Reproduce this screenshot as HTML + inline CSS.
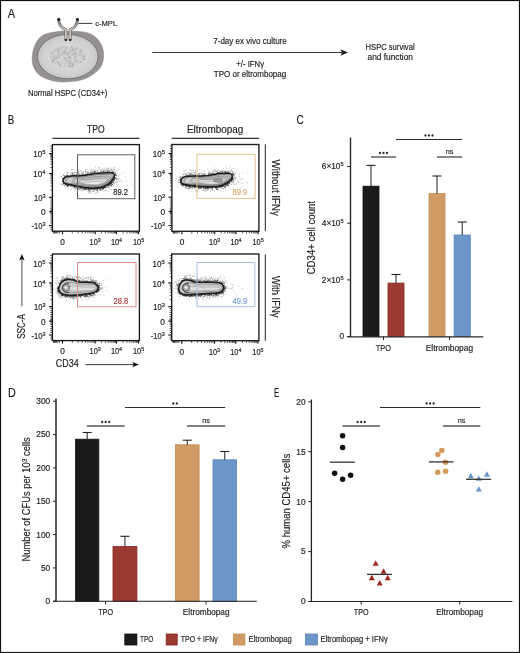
<!DOCTYPE html><html><head><meta charset="utf-8"><style>html,body{margin:0;padding:0;background:#fff;overflow:hidden;width:520px;height:653px;}svg{display:block;will-change:transform;}text{font-family:"Liberation Sans",sans-serif;stroke-width:.18px;}</style></head><body>
<svg width="520" height="653" viewBox="0 0 520 653">
<defs>
<radialGradient id="cellin" cx="0.5" cy="0.5" r="0.55"><stop offset="0" stop-color="#e4e4e4"/><stop offset="0.75" stop-color="#d0d0d0"/><stop offset="1" stop-color="#bdbdbd"/></radialGradient>
<filter id="spk" x="-20%" y="-50%" width="140%" height="200%">
<feTurbulence type="fractalNoise" baseFrequency="1.1" numOctaves="1" seed="4" result="n"/>
<feColorMatrix in="n" type="matrix" values="0 0 0 0 0  0 0 0 0 0  0 0 0 0 0  0 0 0 -3 1.9" result="m"/>
<feComposite in="SourceGraphic" in2="m" operator="in"/>
</filter>
<filter id="bl" x="-10%" y="-30%" width="120%" height="160%"><feGaussianBlur stdDeviation="0.35"/></filter>
</defs>
<rect x="0" y="0" width="520" height="653" fill="#fff"/>
<text x="7.80" y="17.60" font-size="12" text-anchor="start" fill="#231f20" stroke="#231f20" textLength="7.30" lengthAdjust="spacingAndGlyphs">A</text>
<path d="M58.80,31.40 C63.03,30.78 65.47,31.18 68.80,31.20 C72.13,31.22 75.35,31.13 78.80,31.50 C82.25,31.87 86.43,32.18 89.50,33.40 C92.57,34.62 95.02,36.37 97.20,38.80 C99.38,41.23 101.57,44.67 102.60,48.00 C103.63,51.33 104.03,55.22 103.40,58.80 C102.77,62.38 101.88,66.17 98.80,69.50 C95.72,72.83 90.03,76.75 84.90,78.80 C79.77,80.85 73.12,81.42 68.00,81.80 C62.88,82.18 58.82,82.12 54.20,81.10 C49.58,80.08 43.77,78.13 40.30,75.70 C36.83,73.27 34.73,69.83 33.40,66.50 C32.07,63.17 31.92,59.55 32.30,55.70 C32.68,51.85 33.85,46.87 35.70,43.40 C37.55,39.93 39.55,36.90 43.40,34.90 C47.25,32.90 54.57,32.02 58.80,31.40 Z" fill="#959191" stroke="#858282" stroke-width="0.5"/>
<ellipse cx="67.8" cy="56.6" rx="30.3" ry="22.2" fill="url(#cellin)" stroke="#6a6a6a" stroke-width="0.8"/>
<ellipse cx="67.2" cy="56.6" rx="17.5" ry="10.6" fill="#c8c8c8" opacity="0.55"/>
<g fill="#b4b4b4" opacity="0.85">
<circle cx="54.7" cy="58.9" r="1.15"/>
<circle cx="55.0" cy="58.2" r="0.91"/>
<circle cx="72.2" cy="63.6" r="0.94"/>
<circle cx="68.6" cy="53.5" r="0.71"/>
<circle cx="80.5" cy="61.7" r="0.99"/>
<circle cx="83.9" cy="59.3" r="1.18"/>
<circle cx="59.4" cy="49.8" r="0.61"/>
<circle cx="79.9" cy="57.3" r="0.54"/>
<circle cx="70.4" cy="61.5" r="0.52"/>
<circle cx="55.9" cy="58.2" r="1.09"/>
<circle cx="53.3" cy="55.6" r="0.85"/>
<circle cx="61.0" cy="50.5" r="0.69"/>
<circle cx="84.7" cy="56.4" r="1.09"/>
<circle cx="64.6" cy="50.9" r="0.66"/>
<circle cx="66.1" cy="59.3" r="1.04"/>
<circle cx="54.1" cy="62.3" r="0.77"/>
<circle cx="82.8" cy="54.1" r="0.50"/>
<circle cx="71.4" cy="66.4" r="0.83"/>
<circle cx="78.1" cy="55.8" r="0.55"/>
<circle cx="56.6" cy="49.8" r="0.69"/>
<circle cx="75.8" cy="59.8" r="1.17"/>
<circle cx="67.5" cy="53.0" r="0.67"/>
<circle cx="70.6" cy="58.1" r="1.06"/>
<circle cx="72.9" cy="63.7" r="0.81"/>
<circle cx="72.7" cy="65.0" r="0.59"/>
<circle cx="63.5" cy="53.8" r="0.79"/>
<circle cx="69.3" cy="62.0" r="1.18"/>
<circle cx="70.4" cy="51.1" r="1.12"/>
<circle cx="69.9" cy="63.1" r="1.10"/>
<circle cx="63.7" cy="54.0" r="1.19"/>
<circle cx="69.2" cy="61.8" r="1.04"/>
<circle cx="62.7" cy="61.7" r="0.55"/>
<circle cx="78.5" cy="60.9" r="0.67"/>
<circle cx="58.6" cy="52.8" r="0.82"/>
<circle cx="79.0" cy="54.7" r="0.90"/>
<circle cx="72.2" cy="53.2" r="0.61"/>
<circle cx="80.5" cy="51.4" r="0.67"/>
<circle cx="72.8" cy="65.1" r="1.16"/>
<circle cx="72.8" cy="66.4" r="1.12"/>
<circle cx="58.2" cy="52.4" r="0.57"/>
<circle cx="83.9" cy="59.1" r="0.67"/>
<circle cx="64.7" cy="51.4" r="1.08"/>
<circle cx="59.4" cy="53.3" r="0.62"/>
<circle cx="66.4" cy="53.9" r="0.66"/>
<circle cx="52.2" cy="53.0" r="0.93"/>
<circle cx="64.0" cy="66.6" r="0.64"/>
<circle cx="76.2" cy="57.2" r="0.81"/>
<circle cx="74.0" cy="58.3" r="0.76"/>
<circle cx="61.5" cy="54.9" r="0.75"/>
<circle cx="80.6" cy="50.0" r="0.96"/>
<circle cx="62.4" cy="49.0" r="0.60"/>
<circle cx="69.5" cy="56.9" r="1.14"/>
<circle cx="62.0" cy="46.7" r="0.51"/>
<circle cx="59.2" cy="51.0" r="1.01"/>
<circle cx="59.9" cy="66.2" r="0.55"/>
<circle cx="52.8" cy="54.0" r="1.13"/>
<circle cx="66.0" cy="47.7" r="1.06"/>
<circle cx="76.1" cy="53.4" r="0.98"/>
<circle cx="80.5" cy="50.8" r="0.79"/>
<circle cx="71.3" cy="47.1" r="0.90"/>
<circle cx="59.5" cy="52.0" r="0.91"/>
<circle cx="63.4" cy="54.7" r="0.95"/>
<circle cx="83.6" cy="56.2" r="1.01"/>
<circle cx="55.7" cy="62.5" r="0.91"/>
<circle cx="52.3" cy="60.1" r="0.56"/>
<circle cx="67.2" cy="54.8" r="0.92"/>
<circle cx="58.9" cy="57.2" r="0.99"/>
<circle cx="53.5" cy="56.7" r="1.14"/>
<circle cx="67.1" cy="57.7" r="0.71"/>
<circle cx="63.8" cy="52.3" r="0.62"/>
<circle cx="79.0" cy="51.8" r="0.81"/>
<circle cx="75.0" cy="52.8" r="0.97"/>
<circle cx="70.9" cy="63.2" r="1.06"/>
<circle cx="81.3" cy="51.5" r="0.77"/>
<circle cx="58.7" cy="53.6" r="0.60"/>
<circle cx="51.2" cy="56.8" r="1.09"/>
<circle cx="63.1" cy="46.6" r="0.69"/>
<circle cx="72.9" cy="62.8" r="0.69"/>
<circle cx="69.7" cy="63.2" r="0.94"/>
<circle cx="57.4" cy="56.8" r="1.09"/>
<circle cx="78.9" cy="55.8" r="0.55"/>
<circle cx="83.2" cy="58.5" r="0.53"/>
<circle cx="63.8" cy="48.9" r="0.72"/>
<circle cx="67.8" cy="55.2" r="0.60"/>
<circle cx="64.6" cy="57.1" r="1.08"/>
<circle cx="67.7" cy="60.6" r="0.53"/>
<circle cx="59.2" cy="51.5" r="0.94"/>
<circle cx="58.4" cy="48.7" r="1.17"/>
<circle cx="64.1" cy="52.3" r="0.83"/>
<circle cx="68.0" cy="57.6" r="0.83"/>
<circle cx="65.5" cy="52.2" r="0.69"/>
<circle cx="58.9" cy="63.9" r="0.86"/>
<circle cx="55.7" cy="50.5" r="0.78"/>
<circle cx="71.5" cy="46.9" r="0.56"/>
<circle cx="80.8" cy="52.9" r="0.59"/>
<circle cx="53.9" cy="59.0" r="1.14"/>
<circle cx="57.8" cy="62.2" r="1.12"/>
<circle cx="72.1" cy="46.7" r="0.82"/>
<circle cx="62.6" cy="52.7" r="1.01"/>
<circle cx="73.0" cy="48.9" r="1.00"/>
<circle cx="71.0" cy="66.4" r="1.19"/>
<circle cx="79.9" cy="55.5" r="1.05"/>
<circle cx="60.1" cy="65.7" r="1.10"/>
<circle cx="64.3" cy="59.1" r="0.81"/>
<circle cx="52.6" cy="53.7" r="0.84"/>
<circle cx="82.7" cy="58.3" r="0.54"/>
<circle cx="69.4" cy="52.4" r="0.73"/>
<circle cx="68.7" cy="52.7" r="0.60"/>
<circle cx="52.4" cy="55.7" r="1.09"/>
<circle cx="60.9" cy="47.0" r="0.84"/>
<circle cx="72.1" cy="55.6" r="0.65"/>
<circle cx="57.9" cy="55.6" r="1.01"/>
<circle cx="59.1" cy="50.7" r="1.09"/>
<circle cx="58.1" cy="54.4" r="0.77"/>
<circle cx="76.6" cy="48.3" r="0.65"/>
<circle cx="77.4" cy="48.2" r="0.87"/>
<circle cx="60.2" cy="54.5" r="0.88"/>
<circle cx="53.6" cy="56.4" r="0.52"/>
<circle cx="79.5" cy="55.1" r="0.78"/>
<circle cx="71.3" cy="49.1" r="0.84"/>
<circle cx="65.6" cy="54.1" r="0.88"/>
<circle cx="52.5" cy="61.9" r="1.15"/>
<circle cx="65.8" cy="63.8" r="0.59"/>
<circle cx="52.7" cy="60.5" r="1.13"/>
<circle cx="57.5" cy="57.5" r="0.63"/>
<circle cx="54.8" cy="49.7" r="0.59"/>
<circle cx="67.7" cy="55.0" r="0.64"/>
<circle cx="69.3" cy="65.3" r="0.73"/>
<circle cx="58.7" cy="63.2" r="0.57"/>
<circle cx="66.5" cy="52.9" r="0.86"/>
<circle cx="67.2" cy="61.3" r="0.87"/>
<circle cx="57.3" cy="59.1" r="0.79"/>
<circle cx="60.3" cy="55.8" r="0.64"/>
<circle cx="57.7" cy="50.4" r="0.87"/>
<circle cx="75.3" cy="49.9" r="1.10"/>
<circle cx="68.8" cy="65.7" r="1.07"/>
<circle cx="75.3" cy="53.2" r="0.72"/>
<circle cx="74.4" cy="54.3" r="1.20"/>
<circle cx="72.1" cy="54.1" r="0.67"/>
<circle cx="65.9" cy="51.3" r="0.57"/>
<circle cx="72.8" cy="50.6" r="1.05"/>
<circle cx="75.0" cy="61.4" r="0.98"/>
<circle cx="75.0" cy="57.1" r="0.98"/>
<circle cx="81.8" cy="51.1" r="0.58"/>
<circle cx="52.0" cy="56.3" r="0.85"/>
<circle cx="64.2" cy="52.4" r="0.55"/>
<circle cx="69.9" cy="57.9" r="0.89"/>
<circle cx="54.1" cy="55.9" r="0.60"/>
<circle cx="70.4" cy="61.0" r="1.09"/>
<circle cx="84.0" cy="56.0" r="0.57"/>
</g><g fill="#d6d6d6">
<circle cx="80.7" cy="59.9" r="0.63"/>
<circle cx="68.0" cy="51.5" r="0.63"/>
<circle cx="57.4" cy="56.0" r="0.70"/>
<circle cx="79.7" cy="57.2" r="0.82"/>
<circle cx="71.4" cy="62.1" r="0.77"/>
<circle cx="61.7" cy="58.8" r="0.48"/>
<circle cx="65.3" cy="56.5" r="0.85"/>
<circle cx="71.2" cy="49.4" r="0.83"/>
<circle cx="60.6" cy="52.4" r="0.70"/>
<circle cx="52.3" cy="56.4" r="0.80"/>
<circle cx="66.5" cy="65.2" r="0.77"/>
<circle cx="69.6" cy="48.6" r="0.60"/>
<circle cx="78.4" cy="51.5" r="0.75"/>
<circle cx="68.6" cy="48.8" r="0.60"/>
<circle cx="66.5" cy="54.2" r="0.57"/>
<circle cx="65.7" cy="56.8" r="0.58"/>
<circle cx="59.6" cy="51.2" r="0.52"/>
<circle cx="78.7" cy="54.1" r="0.57"/>
<circle cx="61.1" cy="50.9" r="0.67"/>
<circle cx="55.7" cy="62.4" r="0.72"/>
<circle cx="63.3" cy="49.1" r="0.89"/>
<circle cx="78.8" cy="57.6" r="0.77"/>
<circle cx="66.8" cy="62.3" r="0.43"/>
<circle cx="70.3" cy="61.8" r="0.45"/>
<circle cx="67.1" cy="65.2" r="0.68"/>
<circle cx="52.5" cy="56.2" r="0.68"/>
<circle cx="79.2" cy="56.4" r="0.80"/>
<circle cx="77.5" cy="59.8" r="0.78"/>
<circle cx="81.1" cy="59.0" r="0.48"/>
<circle cx="61.1" cy="57.3" r="0.65"/>
<circle cx="64.4" cy="55.2" r="0.87"/>
<circle cx="57.6" cy="59.7" r="0.70"/>
<circle cx="61.9" cy="60.2" r="0.73"/>
<circle cx="59.8" cy="54.8" r="0.76"/>
<circle cx="66.7" cy="57.6" r="0.52"/>
<circle cx="72.9" cy="57.5" r="0.78"/>
<circle cx="56.3" cy="62.0" r="0.77"/>
<circle cx="81.4" cy="59.4" r="0.87"/>
<circle cx="80.0" cy="60.4" r="0.61"/>
<circle cx="52.5" cy="57.8" r="0.52"/>
<circle cx="52.8" cy="55.3" r="0.76"/>
<circle cx="52.7" cy="58.4" r="0.81"/>
<circle cx="63.2" cy="54.7" r="0.71"/>
<circle cx="60.7" cy="57.7" r="0.43"/>
<circle cx="62.0" cy="56.0" r="0.62"/>
<circle cx="62.2" cy="51.3" r="0.53"/>
<circle cx="58.8" cy="53.7" r="0.79"/>
<circle cx="52.5" cy="54.9" r="0.88"/>
<circle cx="66.5" cy="52.2" r="0.46"/>
<circle cx="77.6" cy="51.6" r="0.71"/>
</g>
<linearGradient id="armg" x1="0" y1="0" x2="0" y2="1"><stop offset="0" stop-color="#777"/><stop offset="0.45" stop-color="#c9c1ba"/><stop offset="1" stop-color="#ddd6cf"/></linearGradient>
<path d="M58.8,19.8 C58.6,24.6 61,27.6 65.9,29.8 L65.9,40" fill="none" stroke="#5e5e5e" stroke-width="2.8"/>
<path d="M58.8,19.8 C58.6,24.6 61,27.6 65.9,29.8 L65.9,40" fill="none" stroke="url(#armg)" stroke-width="1.7"/>
<path d="M77.4,19.8 C77.6,24.6 75.2,27.6 70.2,29.8 L70.2,40" fill="none" stroke="#5e5e5e" stroke-width="2.8"/>
<path d="M77.4,19.8 C77.6,24.6 75.2,27.6 70.2,29.8 L70.2,40" fill="none" stroke="url(#armg)" stroke-width="1.7"/>
<circle cx="58.8" cy="19.4" r="1.55" fill="#222"/><circle cx="77.4" cy="19.4" r="1.55" fill="#222"/>
<circle cx="65.9" cy="40" r="1.25" fill="#2a2a2a"/><circle cx="70.2" cy="40" r="1.25" fill="#2a2a2a"/>
<line x1="78.60" y1="23.40" x2="92.30" y2="23.40" stroke="#231f20" stroke-width="0.9"/>
<text x="95.20" y="25.80" font-size="8" text-anchor="start" fill="#231f20" stroke="#231f20" textLength="22.00" lengthAdjust="spacingAndGlyphs">c-MPL</text>
<text x="27.90" y="95.50" font-size="8.6" text-anchor="start" fill="#231f20" stroke="#231f20" textLength="79.40" lengthAdjust="spacingAndGlyphs">Normal HSPC (CD34+)</text>
<line x1="152.30" y1="52.50" x2="343.00" y2="52.50" stroke="#333" stroke-width="0.95"/>
<path d="M348,52.5 L340.5,49.3 L342,52.5 L340.5,55.7 Z" fill="#231f20"/>
<text x="213.30" y="43.90" font-size="8.6" text-anchor="start" fill="#231f20" stroke="#231f20" textLength="73.40" lengthAdjust="spacingAndGlyphs">7-day ex vivo culture</text>
<text x="236.30" y="66.60" font-size="8.6" text-anchor="start" fill="#231f20" stroke="#231f20" textLength="27.70" lengthAdjust="spacingAndGlyphs">+/- IFNγ</text>
<text x="213.80" y="76.80" font-size="8.6" text-anchor="start" fill="#231f20" stroke="#231f20" textLength="72.40" lengthAdjust="spacingAndGlyphs">TPO or eltrombopag</text>
<text x="365.60" y="49.90" font-size="8.6" text-anchor="start" fill="#231f20" stroke="#231f20" textLength="49.00" lengthAdjust="spacingAndGlyphs">HSPC survival</text>
<text x="367.50" y="59.90" font-size="8.6" text-anchor="start" fill="#231f20" stroke="#231f20" textLength="45.50" lengthAdjust="spacingAndGlyphs">and function</text>
<text x="7.80" y="124.30" font-size="12" text-anchor="start" fill="#231f20" stroke="#231f20" textLength="6.50" lengthAdjust="spacingAndGlyphs">B</text>
<text x="87.10" y="132.60" font-size="10.5" text-anchor="start" fill="#231f20" stroke="#231f20" textLength="17.50" lengthAdjust="spacingAndGlyphs">TPO</text>
<line x1="52.40" y1="138.40" x2="139.40" y2="138.40" stroke="#333" stroke-width="1.2"/>
<text x="186.90" y="132.70" font-size="10.5" text-anchor="start" fill="#231f20" stroke="#231f20" textLength="56.50" lengthAdjust="spacingAndGlyphs">Eltrombopag</text>
<line x1="171.70" y1="138.40" x2="259.00" y2="138.40" stroke="#333" stroke-width="1.2"/>
<path fill="#222" fill-opacity="0.95" d="M108.1 184.7h.8v.8h-.8zM68.8 176.2h.8v.8h-.8zM106.9 172.3h.8v.8h-.8zM74.1 185.6h.8v.8h-.8zM111.2 181.1h.8v.8h-.8zM81.4 176.0h.8v.8h-.8zM91.8 188.2h.8v.8h-.8zM65.1 177.3h.8v.8h-.8zM79.4 186.5h.8v.8h-.8zM74.0 185.5h.8v.8h-.8zM99.5 173.7h.8v.8h-.8zM100.7 173.7h.8v.8h-.8zM71.8 185.2h.8v.8h-.8zM73.9 185.3h.8v.8h-.8zM72.5 185.1h.8v.8h-.8zM68.3 176.0h.8v.8h-.8zM96.5 188.2h.8v.8h-.8zM90.8 187.9h.8v.8h-.8zM94.4 174.5h.8v.8h-.8zM90.5 188.1h.8v.8h-.8zM112.7 172.2h.8v.8h-.8zM84.0 187.0h.8v.8h-.8zM93.1 188.1h.8v.8h-.8zM83.3 175.5h.8v.8h-.8zM113.2 179.0h.8v.8h-.8zM113.8 175.0h.8v.8h-.8zM62.3 180.7h.8v.8h-.8zM67.9 184.2h.8v.8h-.8zM72.2 185.1h.8v.8h-.8zM97.2 188.6h.8v.8h-.8zM98.2 187.5h.8v.8h-.8zM77.9 185.4h.8v.8h-.8zM67.3 177.1h.8v.8h-.8zM88.2 188.7h.8v.8h-.8zM93.6 187.5h.8v.8h-.8zM103.1 187.9h.8v.8h-.8zM88.6 174.2h.8v.8h-.8zM74.2 186.1h.8v.8h-.8zM80.2 176.3h.8v.8h-.8zM89.6 188.4h.8v.8h-.8zM93.1 188.4h.8v.8h-.8zM91.0 187.8h.8v.8h-.8zM80.2 186.5h.8v.8h-.8zM95.4 173.5h.8v.8h-.8zM84.7 186.8h.8v.8h-.8zM79.1 175.2h.8v.8h-.8zM94.9 173.7h.8v.8h-.8zM74.7 184.9h.8v.8h-.8zM106.8 185.6h.8v.8h-.8zM67.3 175.3h.8v.8h-.8zM87.9 189.0h.8v.8h-.8zM84.2 187.5h.8v.8h-.8zM113.2 179.3h.8v.8h-.8zM74.3 184.7h.8v.8h-.8zM86.1 186.9h.8v.8h-.8zM75.1 185.0h.8v.8h-.8zM64.0 178.5h.8v.8h-.8zM77.1 186.5h.8v.8h-.8zM94.0 188.3h.8v.8h-.8zM90.6 187.4h.8v.8h-.8zM84.0 175.1h.8v.8h-.8zM109.5 171.8h.8v.8h-.8zM112.4 173.2h.8v.8h-.8zM91.5 188.6h.8v.8h-.8zM105.0 186.9h.8v.8h-.8zM87.0 187.2h.8v.8h-.8zM83.4 187.0h.8v.8h-.8zM85.7 187.5h.8v.8h-.8zM99.6 188.0h.8v.8h-.8zM85.4 187.4h.8v.8h-.8zM110.7 181.2h.8v.8h-.8zM107.6 185.7h.8v.8h-.8zM83.4 186.7h.8v.8h-.8zM94.0 187.7h.8v.8h-.8zM63.3 179.3h.8v.8h-.8zM68.5 175.9h.8v.8h-.8zM89.0 174.7h.8v.8h-.8zM74.2 186.7h.8v.8h-.8zM98.4 188.2h.8v.8h-.8zM69.8 184.9h.8v.8h-.8zM84.0 188.2h.8v.8h-.8zM111.0 182.7h.8v.8h-.8zM68.2 175.8h.8v.8h-.8zM97.5 173.1h.8v.8h-.8zM113.3 174.0h.8v.8h-.8zM96.6 187.5h.8v.8h-.8zM113.1 178.9h.8v.8h-.8zM89.0 188.5h.8v.8h-.8zM69.0 183.8h.8v.8h-.8zM114.3 174.9h.8v.8h-.8zM85.1 187.6h.8v.8h-.8zM70.3 184.5h.8v.8h-.8zM66.5 176.0h.8v.8h-.8zM108.3 172.0h.8v.8h-.8zM114.3 177.5h.8v.8h-.8zM114.4 176.6h.8v.8h-.8zM111.3 180.6h.8v.8h-.8zM111.6 173.5h.8v.8h-.8zM103.6 187.4h.8v.8h-.8zM64.6 177.5h.8v.8h-.8zM65.1 184.2h.8v.8h-.8zM75.4 175.0h.8v.8h-.8zM101.8 173.2h.8v.8h-.8zM73.6 185.1h.8v.8h-.8zM63.5 178.3h.8v.8h-.8zM79.9 186.9h.8v.8h-.8zM89.1 187.8h.8v.8h-.8zM89.8 188.2h.8v.8h-.8zM73.4 175.4h.8v.8h-.8zM81.3 186.1h.8v.8h-.8zM105.5 171.7h.8v.8h-.8zM86.7 187.0h.8v.8h-.8zM88.0 174.2h.8v.8h-.8zM85.0 188.4h.8v.8h-.8zM87.4 174.5h.8v.8h-.8zM73.5 185.2h.8v.8h-.8zM63.1 178.6h.8v.8h-.8zM106.0 172.9h.8v.8h-.8zM95.9 188.4h.8v.8h-.8zM67.4 175.7h.8v.8h-.8zM94.1 188.6h.8v.8h-.8zM94.8 187.5h.8v.8h-.8zM101.7 173.0h.8v.8h-.8zM91.7 173.7h.8v.8h-.8zM102.3 188.2h.8v.8h-.8zM68.6 176.5h.8v.8h-.8zM94.0 188.2h.8v.8h-.8zM73.1 184.7h.8v.8h-.8zM92.3 174.2h.8v.8h-.8zM101.2 173.7h.8v.8h-.8zM65.7 183.6h.8v.8h-.8zM72.4 185.1h.8v.8h-.8zM97.1 188.2h.8v.8h-.8zM92.5 187.9h.8v.8h-.8zM88.3 188.4h.8v.8h-.8zM87.5 187.7h.8v.8h-.8zM76.3 175.2h.8v.8h-.8zM92.1 174.2h.8v.8h-.8zM93.0 187.5h.8v.8h-.8zM97.2 188.5h.8v.8h-.8zM91.2 173.8h.8v.8h-.8zM85.1 187.8h.8v.8h-.8zM95.4 173.3h.8v.8h-.8zM65.9 184.7h.8v.8h-.8zM65.7 184.4h.8v.8h-.8zM87.4 174.1h.8v.8h-.8zM62.4 180.5h.8v.8h-.8zM96.8 188.1h.8v.8h-.8zM108.7 172.2h.8v.8h-.8zM80.9 175.0h.8v.8h-.8zM107.4 184.7h.8v.8h-.8zM76.2 186.2h.8v.8h-.8zM87.5 173.7h.8v.8h-.8zM78.4 186.3h.8v.8h-.8zM67.0 185.3h.8v.8h-.8zM88.5 187.9h.8v.8h-.8zM111.8 172.8h.8v.8h-.8zM64.9 183.4h.8v.8h-.8zM114.3 176.7h.8v.8h-.8zM81.3 175.5h.8v.8h-.8zM90.0 188.0h.8v.8h-.8zM76.3 175.0h.8v.8h-.8zM111.6 181.0h.8v.8h-.8zM63.6 182.7h.8v.8h-.8zM91.6 187.9h.8v.8h-.8zM113.9 176.1h.8v.8h-.8zM111.0 171.9h.8v.8h-.8zM66.8 183.7h.8v.8h-.8zM86.1 174.2h.8v.8h-.8zM113.3 179.9h.8v.8h-.8zM69.4 176.1h.8v.8h-.8zM91.1 188.3h.8v.8h-.8zM98.1 173.7h.8v.8h-.8zM97.0 188.3h.8v.8h-.8zM68.9 183.8h.8v.8h-.8zM78.9 176.2h.8v.8h-.8zM107.0 173.1h.8v.8h-.8zM99.7 172.7h.8v.8h-.8zM77.7 186.9h.8v.8h-.8zM101.2 187.9h.8v.8h-.8zM80.3 176.1h.8v.8h-.8zM64.1 179.1h.8v.8h-.8zM85.5 188.1h.8v.8h-.8zM85.8 187.2h.8v.8h-.8zM86.1 187.7h.8v.8h-.8zM111.4 182.1h.8v.8h-.8zM100.5 187.0h.8v.8h-.8zM85.7 174.1h.8v.8h-.8zM84.9 175.2h.8v.8h-.8zM72.8 185.3h.8v.8h-.8zM111.5 180.9h.8v.8h-.8zM89.1 187.5h.8v.8h-.8zM63.1 177.9h.8v.8h-.8zM84.4 174.8h.8v.8h-.8zM67.9 184.2h.8v.8h-.8zM84.3 187.5h.8v.8h-.8zM111.1 172.6h.8v.8h-.8zM69.7 184.7h.8v.8h-.8zM66.7 176.4h.8v.8h-.8zM69.8 185.3h.8v.8h-.8zM105.8 185.4h.8v.8h-.8zM91.4 187.8h.8v.8h-.8zM88.4 173.5h.8v.8h-.8zM84.0 187.9h.8v.8h-.8zM104.3 186.1h.8v.8h-.8zM94.4 188.4h.8v.8h-.8zM114.9 174.9h.8v.8h-.8zM87.3 174.2h.8v.8h-.8zM114.6 174.7h.8v.8h-.8zM96.9 173.9h.8v.8h-.8zM76.8 186.7h.8v.8h-.8zM108.9 172.9h.8v.8h-.8zM112.1 180.9h.8v.8h-.8zM102.5 187.3h.8v.8h-.8zM88.3 187.6h.8v.8h-.8zM67.5 184.4h.8v.8h-.8zM64.2 183.4h.8v.8h-.8zM78.2 176.3h.8v.8h-.8zM94.2 188.2h.8v.8h-.8zM71.3 184.1h.8v.8h-.8zM65.2 183.3h.8v.8h-.8zM83.5 187.9h.8v.8h-.8zM107.6 184.0h.8v.8h-.8zM91.6 188.2h.8v.8h-.8zM93.6 174.2h.8v.8h-.8zM68.3 184.9h.8v.8h-.8zM108.0 185.2h.8v.8h-.8zM75.9 185.6h.8v.8h-.8zM73.7 185.0h.8v.8h-.8zM72.8 186.0h.8v.8h-.8zM87.1 174.9h.8v.8h-.8zM75.8 185.2h.8v.8h-.8zM87.3 173.6h.8v.8h-.8zM103.9 186.3h.8v.8h-.8zM62.5 181.7h.8v.8h-.8zM89.7 173.6h.8v.8h-.8zM110.8 173.0h.8v.8h-.8zM94.3 187.6h.8v.8h-.8zM66.6 185.3h.8v.8h-.8zM72.6 184.9h.8v.8h-.8zM102.9 186.2h.8v.8h-.8zM92.5 188.3h.8v.8h-.8zM104.8 172.8h.8v.8h-.8zM76.3 185.8h.8v.8h-.8zM84.6 187.2h.8v.8h-.8zM64.4 177.3h.8v.8h-.8zM80.8 175.4h.8v.8h-.8zM64.4 183.1h.8v.8h-.8zM103.6 172.5h.8v.8h-.8zM86.3 188.7h.8v.8h-.8zM74.4 185.4h.8v.8h-.8zM89.0 174.4h.8v.8h-.8zM99.0 187.3h.8v.8h-.8zM71.7 184.8h.8v.8h-.8zM108.3 183.1h.8v.8h-.8zM107.3 172.5h.8v.8h-.8zM93.8 173.0h.8v.8h-.8zM90.9 188.3h.8v.8h-.8zM99.5 188.1h.8v.8h-.8zM113.0 179.7h.8v.8h-.8zM95.0 187.6h.8v.8h-.8zM110.0 182.5h.8v.8h-.8zM110.7 182.5h.8v.8h-.8zM104.5 186.6h.8v.8h-.8zM99.4 187.6h.8v.8h-.8zM112.9 179.0h.8v.8h-.8zM91.5 188.3h.8v.8h-.8zM114.1 177.0h.8v.8h-.8zM100.3 188.4h.8v.8h-.8zM104.5 187.1h.8v.8h-.8zM74.6 185.5h.8v.8h-.8zM96.7 188.0h.8v.8h-.8zM99.2 172.4h.8v.8h-.8zM92.5 187.3h.8v.8h-.8zM98.2 187.6h.8v.8h-.8zM100.3 172.8h.8v.8h-.8zM71.4 184.4h.8v.8h-.8zM112.4 172.8h.8v.8h-.8zM79.3 175.7h.8v.8h-.8zM87.4 174.7h.8v.8h-.8zM74.9 186.2h.8v.8h-.8zM79.9 174.8h.8v.8h-.8zM64.2 182.6h.8v.8h-.8zM92.8 188.4h.8v.8h-.8zM105.1 185.8h.8v.8h-.8zM111.2 172.3h.8v.8h-.8zM101.8 187.9h.8v.8h-.8zM70.4 175.4h.8v.8h-.8zM77.2 176.1h.8v.8h-.8zM81.4 187.0h.8v.8h-.8zM78.8 175.2h.8v.8h-.8zM70.9 185.5h.8v.8h-.8zM72.0 175.4h.8v.8h-.8zM76.0 175.7h.8v.8h-.8zM111.7 172.2h.8v.8h-.8zM113.6 178.7h.8v.8h-.8zM102.9 186.9h.8v.8h-.8zM112.1 180.8h.8v.8h-.8zM110.4 173.2h.8v.8h-.8zM63.5 179.6h.8v.8h-.8zM105.1 185.7h.8v.8h-.8zM63.0 182.0h.8v.8h-.8zM79.5 186.7h.8v.8h-.8zM80.1 187.0h.8v.8h-.8zM64.4 176.8h.8v.8h-.8zM113.8 178.8h.8v.8h-.8zM75.0 175.9h.8v.8h-.8zM98.1 187.7h.8v.8h-.8zM107.0 184.5h.8v.8h-.8zM74.2 176.0h.8v.8h-.8zM87.4 187.8h.8v.8h-.8zM77.5 186.8h.8v.8h-.8zM89.0 188.5h.8v.8h-.8zM88.2 187.6h.8v.8h-.8zM64.0 178.6h.8v.8h-.8zM101.5 187.6h.8v.8h-.8zM80.4 187.0h.8v.8h-.8zM91.0 188.1h.8v.8h-.8zM92.7 188.7h.8v.8h-.8zM75.0 176.4h.8v.8h-.8zM92.4 187.7h.8v.8h-.8zM81.0 186.7h.8v.8h-.8zM112.4 180.0h.8v.8h-.8zM103.6 186.7h.8v.8h-.8zM76.6 185.7h.8v.8h-.8zM70.9 175.8h.8v.8h-.8zM96.6 188.0h.8v.8h-.8zM82.3 176.1h.8v.8h-.8zM110.2 172.5h.8v.8h-.8zM64.1 182.0h.8v.8h-.8zM81.3 175.3h.8v.8h-.8zM101.6 187.1h.8v.8h-.8zM89.6 174.7h.8v.8h-.8zM111.1 172.0h.8v.8h-.8zM102.1 188.0h.8v.8h-.8zM105.5 171.9h.8v.8h-.8zM72.6 184.5h.8v.8h-.8zM104.5 186.1h.8v.8h-.8zM107.8 184.4h.8v.8h-.8zM69.7 176.1h.8v.8h-.8zM93.9 188.1h.8v.8h-.8zM66.8 184.6h.8v.8h-.8zM78.5 186.4h.8v.8h-.8zM76.1 175.7h.8v.8h-.8zM70.4 184.5h.8v.8h-.8zM72.9 184.7h.8v.8h-.8zM105.6 185.5h.8v.8h-.8zM113.2 179.0h.8v.8h-.8zM71.8 176.5h.8v.8h-.8zM94.0 187.5h.8v.8h-.8zM113.2 176.6h.8v.8h-.8zM65.1 184.1h.8v.8h-.8zM88.2 188.4h.8v.8h-.8zM74.0 175.1h.8v.8h-.8zM75.7 174.9h.8v.8h-.8zM103.9 185.9h.8v.8h-.8zM105.7 184.9h.8v.8h-.8zM100.9 172.9h.8v.8h-.8zM93.6 187.8h.8v.8h-.8zM67.4 176.6h.8v.8h-.8zM63.3 182.3h.8v.8h-.8zM86.6 174.3h.8v.8h-.8zM115.2 174.5h.8v.8h-.8zM87.4 188.2h.8v.8h-.8zM95.1 188.4h.8v.8h-.8zM91.6 187.7h.8v.8h-.8zM102.2 187.7h.8v.8h-.8zM95.1 188.0h.8v.8h-.8zM69.5 176.5h.8v.8h-.8zM114.6 177.0h.8v.8h-.8zM77.5 176.0h.8v.8h-.8zM75.6 186.4h.8v.8h-.8zM77.6 176.4h.8v.8h-.8zM107.1 185.8h.8v.8h-.8zM112.2 172.9h.8v.8h-.8zM79.2 175.7h.8v.8h-.8zM100.2 188.6h.8v.8h-.8zM83.9 174.8h.8v.8h-.8zM84.7 187.3h.8v.8h-.8zM90.8 173.8h.8v.8h-.8zM99.0 187.8h.8v.8h-.8zM83.4 187.5h.8v.8h-.8zM88.6 174.4h.8v.8h-.8zM103.6 172.5h.8v.8h-.8zM109.0 184.5h.8v.8h-.8zM64.2 177.3h.8v.8h-.8zM92.3 187.6h.8v.8h-.8zM62.6 181.2h.8v.8h-.8zM64.6 176.5h.8v.8h-.8zM102.8 187.1h.8v.8h-.8zM91.1 174.8h.8v.8h-.8zM96.6 172.5h.8v.8h-.8zM90.4 174.5h.8v.8h-.8zM68.6 184.0h.8v.8h-.8zM95.0 173.1h.8v.8h-.8zM71.9 185.5h.8v.8h-.8zM77.3 186.9h.8v.8h-.8zM84.0 187.8h.8v.8h-.8zM101.0 187.7h.8v.8h-.8zM103.7 187.1h.8v.8h-.8zM81.9 175.7h.8v.8h-.8zM82.3 186.7h.8v.8h-.8zM91.2 174.1h.8v.8h-.8zM80.3 187.4h.8v.8h-.8zM110.6 182.8h.8v.8h-.8zM108.1 184.5h.8v.8h-.8zM107.0 184.4h.8v.8h-.8zM91.5 173.5h.8v.8h-.8zM110.2 183.2h.8v.8h-.8zM102.9 173.0h.8v.8h-.8zM109.5 182.8h.8v.8h-.8zM110.6 172.8h.8v.8h-.8zM69.7 184.6h.8v.8h-.8zM108.4 184.3h.8v.8h-.8zM96.4 188.4h.8v.8h-.8zM108.5 173.3h.8v.8h-.8zM94.8 187.4h.8v.8h-.8zM77.5 175.8h.8v.8h-.8zM114.0 175.0h.8v.8h-.8zM70.8 184.5h.8v.8h-.8zM93.6 187.6h.8v.8h-.8zM92.9 188.4h.8v.8h-.8zM72.4 185.9h.8v.8h-.8zM75.3 185.5h.8v.8h-.8zM64.0 178.2h.8v.8h-.8zM64.0 182.1h.8v.8h-.8zM100.7 173.2h.8v.8h-.8zM79.8 175.8h.8v.8h-.8zM63.2 182.9h.8v.8h-.8zM83.0 186.5h.8v.8h-.8zM74.8 175.5h.8v.8h-.8zM113.9 174.3h.8v.8h-.8zM73.1 185.3h.8v.8h-.8zM103.1 187.5h.8v.8h-.8zM82.0 187.2h.8v.8h-.8zM82.9 187.3h.8v.8h-.8zM111.2 182.4h.8v.8h-.8zM95.5 173.1h.8v.8h-.8zM73.1 176.3h.8v.8h-.8zM108.0 183.8h.8v.8h-.8zM94.2 188.5h.8v.8h-.8zM80.0 186.4h.8v.8h-.8zM113.2 178.4h.8v.8h-.8zM82.6 187.5h.8v.8h-.8zM112.3 173.0h.8v.8h-.8zM108.2 172.9h.8v.8h-.8zM88.9 187.9h.8v.8h-.8zM91.5 173.8h.8v.8h-.8zM114.1 178.5h.8v.8h-.8zM73.5 176.3h.8v.8h-.8zM93.8 172.6h.8v.8h-.8zM74.4 175.3h.8v.8h-.8zM70.0 175.2h.8v.8h-.8zM63.9 182.8h.8v.8h-.8zM73.5 185.2h.8v.8h-.8zM80.5 175.7h.8v.8h-.8zM70.8 184.0h.8v.8h-.8zM85.6 187.2h.8v.8h-.8zM66.2 184.1h.8v.8h-.8zM113.4 178.5h.8v.8h-.8zM64.7 176.9h.8v.8h-.8zM92.2 188.2h.8v.8h-.8zM87.6 188.2h.8v.8h-.8zM68.1 185.1h.8v.8h-.8zM81.1 186.9h.8v.8h-.8zM82.0 175.4h.8v.8h-.8zM75.5 175.9h.8v.8h-.8zM72.7 176.6h.8v.8h-.8zM109.6 183.1h.8v.8h-.8zM105.9 173.1h.8v.8h-.8zM75.5 185.8h.8v.8h-.8zM110.7 181.9h.8v.8h-.8zM101.5 172.8h.8v.8h-.8zM77.5 185.5h.8v.8h-.8zM107.6 184.1h.8v.8h-.8zM95.3 187.4h.8v.8h-.8zM78.8 185.8h.8v.8h-.8z"/>
<path fill="#222" fill-opacity="0.7" d="M115.0 172.4h.8v.8h-.8zM102.4 171.9h.8v.8h-.8zM62.0 178.3h.8v.8h-.8zM115.6 178.7h.8v.8h-.8zM95.4 188.6h.8v.8h-.8zM81.9 188.2h.8v.8h-.8zM84.6 188.5h.8v.8h-.8zM114.3 171.7h.8v.8h-.8zM91.8 171.7h.8v.8h-.8zM103.2 172.0h.8v.8h-.8zM75.5 174.5h.8v.8h-.8zM88.9 190.1h.8v.8h-.8zM91.1 172.4h.8v.8h-.8zM99.1 189.7h.8v.8h-.8zM82.8 174.5h.8v.8h-.8zM105.7 187.2h.8v.8h-.8zM94.1 172.0h.8v.8h-.8zM80.2 175.1h.8v.8h-.8zM87.9 189.4h.8v.8h-.8zM85.9 173.9h.8v.8h-.8zM76.0 174.2h.8v.8h-.8zM83.7 188.9h.8v.8h-.8zM91.4 188.9h.8v.8h-.8zM77.4 187.7h.8v.8h-.8zM90.6 188.9h.8v.8h-.8zM110.8 185.1h.8v.8h-.8zM73.5 186.5h.8v.8h-.8zM73.9 175.2h.8v.8h-.8zM89.8 173.1h.8v.8h-.8zM73.2 175.3h.8v.8h-.8zM104.5 187.6h.8v.8h-.8zM76.6 187.3h.8v.8h-.8zM75.6 187.7h.8v.8h-.8zM97.3 172.6h.8v.8h-.8zM64.6 175.6h.8v.8h-.8zM102.9 170.8h.8v.8h-.8zM81.8 174.4h.8v.8h-.8zM109.5 184.6h.8v.8h-.8zM93.1 171.8h.8v.8h-.8zM99.2 172.1h.8v.8h-.8zM111.2 182.6h.8v.8h-.8zM62.9 177.7h.8v.8h-.8zM79.2 174.5h.8v.8h-.8zM99.8 189.3h.8v.8h-.8zM83.1 189.1h.8v.8h-.8zM107.4 171.2h.8v.8h-.8zM77.2 187.2h.8v.8h-.8zM67.2 185.7h.8v.8h-.8zM98.5 172.1h.8v.8h-.8zM85.4 189.5h.8v.8h-.8zM83.0 188.6h.8v.8h-.8zM73.5 175.2h.8v.8h-.8zM111.7 170.5h.8v.8h-.8zM77.8 174.0h.8v.8h-.8zM92.3 172.7h.8v.8h-.8zM87.4 174.1h.8v.8h-.8zM67.2 185.1h.8v.8h-.8zM82.8 188.5h.8v.8h-.8zM110.8 183.1h.8v.8h-.8zM114.5 172.8h.8v.8h-.8zM92.0 172.2h.8v.8h-.8zM114.3 179.0h.8v.8h-.8zM108.7 184.8h.8v.8h-.8zM95.4 171.6h.8v.8h-.8zM89.8 172.5h.8v.8h-.8zM116.2 177.9h.8v.8h-.8zM116.0 175.2h.8v.8h-.8zM83.7 189.6h.8v.8h-.8zM84.2 188.8h.8v.8h-.8zM62.7 183.3h.8v.8h-.8zM81.4 187.7h.8v.8h-.8zM92.4 189.0h.8v.8h-.8zM77.8 187.2h.8v.8h-.8zM92.9 189.9h.8v.8h-.8zM102.7 188.4h.8v.8h-.8zM73.6 173.9h.8v.8h-.8zM110.0 183.7h.8v.8h-.8zM100.1 189.8h.8v.8h-.8zM94.2 171.2h.8v.8h-.8zM96.9 171.8h.8v.8h-.8zM67.0 185.1h.8v.8h-.8zM105.4 171.0h.8v.8h-.8zM82.4 174.2h.8v.8h-.8zM79.5 188.6h.8v.8h-.8zM81.7 188.8h.8v.8h-.8zM66.1 175.2h.8v.8h-.8zM112.9 181.4h.8v.8h-.8zM84.6 188.4h.8v.8h-.8zM99.1 188.4h.8v.8h-.8zM75.3 187.9h.8v.8h-.8zM109.1 184.5h.8v.8h-.8zM115.7 176.8h.8v.8h-.8zM106.1 186.6h.8v.8h-.8zM85.1 173.8h.8v.8h-.8zM99.6 172.5h.8v.8h-.8zM101.0 172.2h.8v.8h-.8zM79.1 174.7h.8v.8h-.8zM94.1 172.8h.8v.8h-.8zM63.7 185.2h.8v.8h-.8zM63.6 183.7h.8v.8h-.8zM95.1 172.3h.8v.8h-.8zM109.8 184.9h.8v.8h-.8zM89.4 189.5h.8v.8h-.8zM71.7 175.2h.8v.8h-.8zM77.7 188.2h.8v.8h-.8zM115.4 173.5h.8v.8h-.8zM80.7 174.5h.8v.8h-.8zM95.2 171.1h.8v.8h-.8zM92.9 173.1h.8v.8h-.8zM111.5 172.0h.8v.8h-.8zM74.7 186.9h.8v.8h-.8zM76.6 174.0h.8v.8h-.8zM87.5 173.6h.8v.8h-.8zM101.2 172.2h.8v.8h-.8zM100.0 189.9h.8v.8h-.8zM76.1 187.7h.8v.8h-.8zM92.6 172.7h.8v.8h-.8zM103.6 171.5h.8v.8h-.8zM111.7 182.6h.8v.8h-.8zM93.6 188.7h.8v.8h-.8zM81.1 188.1h.8v.8h-.8zM102.4 171.4h.8v.8h-.8zM111.5 184.0h.8v.8h-.8zM113.2 172.1h.8v.8h-.8zM111.4 182.7h.8v.8h-.8zM70.0 185.4h.8v.8h-.8zM89.5 189.5h.8v.8h-.8zM90.0 188.9h.8v.8h-.8zM107.0 172.1h.8v.8h-.8zM107.6 187.1h.8v.8h-.8zM93.4 171.8h.8v.8h-.8zM74.4 187.0h.8v.8h-.8zM92.9 189.9h.8v.8h-.8zM105.0 187.3h.8v.8h-.8zM102.3 188.4h.8v.8h-.8zM112.2 171.6h.8v.8h-.8zM113.3 182.4h.8v.8h-.8zM116.3 174.4h.8v.8h-.8zM107.6 171.5h.8v.8h-.8zM83.7 174.3h.8v.8h-.8zM62.8 178.0h.8v.8h-.8zM66.7 185.9h.8v.8h-.8zM86.0 188.9h.8v.8h-.8zM71.5 174.5h.8v.8h-.8zM96.9 189.9h.8v.8h-.8zM73.9 174.5h.8v.8h-.8zM87.9 173.9h.8v.8h-.8zM62.7 178.7h.8v.8h-.8zM85.7 189.1h.8v.8h-.8zM81.8 173.6h.8v.8h-.8zM88.6 190.6h.8v.8h-.8zM106.7 169.8h.8v.8h-.8zM108.4 170.8h.8v.8h-.8zM93.6 171.9h.8v.8h-.8zM111.1 183.8h.8v.8h-.8zM95.9 171.7h.8v.8h-.8zM94.6 188.8h.8v.8h-.8zM94.2 173.1h.8v.8h-.8zM97.1 189.3h.8v.8h-.8zM115.3 178.0h.8v.8h-.8zM74.8 187.2h.8v.8h-.8zM103.8 171.2h.8v.8h-.8zM62.3 184.0h.8v.8h-.8zM97.0 171.7h.8v.8h-.8zM93.9 189.8h.8v.8h-.8zM97.2 172.0h.8v.8h-.8zM90.0 172.2h.8v.8h-.8zM108.2 170.9h.8v.8h-.8zM100.1 189.0h.8v.8h-.8zM68.3 185.7h.8v.8h-.8zM112.9 180.9h.8v.8h-.8zM75.8 175.1h.8v.8h-.8zM113.7 180.0h.8v.8h-.8zM64.0 175.8h.8v.8h-.8zM114.1 179.5h.8v.8h-.8zM85.6 188.6h.8v.8h-.8zM70.9 185.6h.8v.8h-.8zM67.2 175.4h.8v.8h-.8zM102.3 171.7h.8v.8h-.8zM72.0 173.3h.8v.8h-.8zM89.5 189.8h.8v.8h-.8zM80.2 187.9h.8v.8h-.8zM109.0 170.9h.8v.8h-.8zM79.4 174.4h.8v.8h-.8zM110.9 171.7h.8v.8h-.8zM68.1 185.6h.8v.8h-.8zM79.0 174.2h.8v.8h-.8zM77.6 174.0h.8v.8h-.8zM104.9 171.9h.8v.8h-.8zM101.4 171.4h.8v.8h-.8zM108.6 185.4h.8v.8h-.8zM73.1 187.5h.8v.8h-.8zM86.7 189.0h.8v.8h-.8zM72.6 173.6h.8v.8h-.8zM102.1 171.4h.8v.8h-.8zM99.8 171.7h.8v.8h-.8zM104.1 187.0h.8v.8h-.8zM65.7 175.2h.8v.8h-.8zM78.1 174.9h.8v.8h-.8zM67.4 184.7h.8v.8h-.8zM95.8 189.4h.8v.8h-.8zM94.1 172.0h.8v.8h-.8zM102.1 189.3h.8v.8h-.8zM79.0 188.6h.8v.8h-.8zM81.3 187.8h.8v.8h-.8zM96.2 189.4h.8v.8h-.8zM87.9 189.0h.8v.8h-.8zM106.1 171.8h.8v.8h-.8zM100.4 171.4h.8v.8h-.8zM112.3 181.6h.8v.8h-.8zM67.5 175.2h.8v.8h-.8zM102.3 188.3h.8v.8h-.8zM62.0 177.7h.8v.8h-.8zM66.8 185.9h.8v.8h-.8zM107.1 170.4h.8v.8h-.8zM93.9 172.0h.8v.8h-.8zM90.7 172.2h.8v.8h-.8zM62.8 182.7h.8v.8h-.8zM102.8 188.6h.8v.8h-.8zM110.4 184.1h.8v.8h-.8zM77.5 188.4h.8v.8h-.8zM103.1 171.2h.8v.8h-.8zM83.3 174.2h.8v.8h-.8zM108.5 171.9h.8v.8h-.8zM112.3 171.0h.8v.8h-.8zM95.4 171.0h.8v.8h-.8zM112.1 184.2h.8v.8h-.8zM97.0 190.4h.8v.8h-.8zM109.3 171.7h.8v.8h-.8zM79.8 188.2h.8v.8h-.8zM79.3 187.4h.8v.8h-.8zM86.6 174.3h.8v.8h-.8zM69.9 186.3h.8v.8h-.8zM88.7 188.8h.8v.8h-.8zM105.3 172.0h.8v.8h-.8zM72.0 173.9h.8v.8h-.8zM109.5 184.1h.8v.8h-.8zM103.1 187.9h.8v.8h-.8z"/>
<path fill="#222" fill-opacity="0.45" d="M93.3 171.6h.8v.8h-.8zM106.4 170.2h.8v.8h-.8zM94.0 191.3h.8v.8h-.8zM60.8 183.7h.8v.8h-.8zM84.9 171.2h.8v.8h-.8zM87.2 172.0h.8v.8h-.8zM78.8 189.3h.8v.8h-.8zM72.2 172.7h.8v.8h-.8zM88.6 171.9h.8v.8h-.8zM92.3 191.0h.8v.8h-.8zM97.3 169.8h.8v.8h-.8zM81.2 190.7h.8v.8h-.8zM79.0 172.7h.8v.8h-.8zM74.3 189.5h.8v.8h-.8zM97.1 190.5h.8v.8h-.8zM96.0 191.8h.8v.8h-.8zM117.8 175.3h.8v.8h-.8zM88.6 191.8h.8v.8h-.8zM101.7 190.0h.8v.8h-.8zM85.2 171.4h.8v.8h-.8zM115.7 181.7h.8v.8h-.8zM69.8 173.6h.8v.8h-.8zM107.7 169.4h.8v.8h-.8zM70.7 172.7h.8v.8h-.8zM64.3 185.8h.8v.8h-.8zM112.2 183.9h.8v.8h-.8zM82.0 173.0h.8v.8h-.8zM72.1 172.7h.8v.8h-.8zM110.6 169.2h.8v.8h-.8zM81.0 171.9h.8v.8h-.8zM106.6 170.0h.8v.8h-.8zM76.8 172.8h.8v.8h-.8zM73.5 172.7h.8v.8h-.8zM111.1 169.5h.8v.8h-.8zM112.7 185.1h.8v.8h-.8zM104.5 190.0h.8v.8h-.8zM66.4 172.3h.8v.8h-.8zM70.7 173.2h.8v.8h-.8zM82.4 190.2h.8v.8h-.8zM97.4 170.4h.8v.8h-.8zM77.4 173.3h.8v.8h-.8zM110.7 169.9h.8v.8h-.8zM111.5 184.5h.8v.8h-.8zM67.4 173.4h.8v.8h-.8zM108.3 187.3h.8v.8h-.8zM87.0 172.1h.8v.8h-.8zM63.0 174.3h.8v.8h-.8zM111.2 169.9h.8v.8h-.8zM61.4 176.1h.8v.8h-.8zM89.6 191.3h.8v.8h-.8zM101.2 169.6h.8v.8h-.8zM87.2 172.4h.8v.8h-.8zM100.0 170.5h.8v.8h-.8zM92.6 170.0h.8v.8h-.8zM94.3 170.5h.8v.8h-.8zM94.7 169.7h.8v.8h-.8zM109.3 186.4h.8v.8h-.8zM96.7 170.5h.8v.8h-.8zM89.9 171.5h.8v.8h-.8zM106.4 169.5h.8v.8h-.8zM91.4 170.9h.8v.8h-.8zM61.6 183.9h.8v.8h-.8zM82.9 172.3h.8v.8h-.8zM105.2 189.9h.8v.8h-.8zM102.9 170.5h.8v.8h-.8zM94.0 171.1h.8v.8h-.8zM78.0 189.4h.8v.8h-.8zM82.5 172.7h.8v.8h-.8zM76.7 172.4h.8v.8h-.8zM77.9 172.9h.8v.8h-.8zM61.7 184.1h.8v.8h-.8zM97.9 191.7h.8v.8h-.8zM89.9 190.9h.8v.8h-.8zM81.0 173.0h.8v.8h-.8zM106.5 169.9h.8v.8h-.8zM103.3 169.4h.8v.8h-.8zM111.4 169.4h.8v.8h-.8zM109.8 169.6h.8v.8h-.8zM80.2 189.7h.8v.8h-.8zM70.9 172.4h.8v.8h-.8zM75.8 172.6h.8v.8h-.8zM106.8 169.6h.8v.8h-.8zM84.9 172.4h.8v.8h-.8zM109.0 170.4h.8v.8h-.8zM89.7 191.1h.8v.8h-.8zM88.8 190.6h.8v.8h-.8zM68.2 187.5h.8v.8h-.8zM86.4 171.4h.8v.8h-.8zM113.0 169.4h.8v.8h-.8zM108.5 187.9h.8v.8h-.8zM96.8 190.1h.8v.8h-.8zM92.6 170.0h.8v.8h-.8zM75.9 188.8h.8v.8h-.8zM110.6 185.6h.8v.8h-.8zM85.6 171.3h.8v.8h-.8zM90.6 170.2h.8v.8h-.8zM78.8 172.7h.8v.8h-.8zM71.6 188.8h.8v.8h-.8zM74.2 172.3h.8v.8h-.8zM101.1 189.8h.8v.8h-.8zM104.1 170.1h.8v.8h-.8zM107.9 168.8h.8v.8h-.8zM66.5 174.0h.8v.8h-.8zM63.7 175.3h.8v.8h-.8zM104.7 169.9h.8v.8h-.8zM88.0 172.4h.8v.8h-.8zM88.5 171.5h.8v.8h-.8zM92.9 191.0h.8v.8h-.8zM111.1 186.1h.8v.8h-.8zM100.6 170.5h.8v.8h-.8z"/>
<path fill="#222" fill-opacity="0.35" d="M73.9 172.0h.8v.8h-.8zM70.9 168.9h.8v.8h-.8zM98.3 166.7h.8v.8h-.8zM98.7 166.9h.8v.8h-.8zM78.5 171.6h.8v.8h-.8zM106.2 189.8h.8v.8h-.8zM108.3 167.9h.8v.8h-.8zM78.9 169.3h.8v.8h-.8zM77.7 172.0h.8v.8h-.8zM84.9 171.3h.8v.8h-.8zM102.6 168.7h.8v.8h-.8zM72.0 172.1h.8v.8h-.8zM74.4 172.1h.8v.8h-.8zM105.5 167.6h.8v.8h-.8zM118.5 180.3h.8v.8h-.8zM102.3 168.3h.8v.8h-.8zM58.9 176.7h.8v.8h-.8zM114.0 167.6h.8v.8h-.8zM100.3 169.4h.8v.8h-.8zM111.6 168.4h.8v.8h-.8zM73.5 169.2h.8v.8h-.8zM61.9 175.3h.8v.8h-.8zM71.6 169.1h.8v.8h-.8zM113.6 168.9h.8v.8h-.8zM118.0 170.3h.8v.8h-.8zM76.3 169.9h.8v.8h-.8zM87.8 169.7h.8v.8h-.8zM66.4 172.6h.8v.8h-.8zM79.8 170.8h.8v.8h-.8zM107.8 166.7h.8v.8h-.8zM95.2 166.8h.8v.8h-.8zM75.2 171.5h.8v.8h-.8zM81.4 171.0h.8v.8h-.8zM78.6 171.0h.8v.8h-.8zM72.1 169.1h.8v.8h-.8zM111.4 167.4h.8v.8h-.8zM114.0 167.0h.8v.8h-.8zM84.8 169.1h.8v.8h-.8zM98.5 167.4h.8v.8h-.8zM66.4 170.6h.8v.8h-.8zM104.1 168.5h.8v.8h-.8zM63.8 172.3h.8v.8h-.8zM95.5 169.4h.8v.8h-.8zM110.0 167.7h.8v.8h-.8zM77.8 171.1h.8v.8h-.8zM117.0 180.5h.8v.8h-.8zM91.7 170.0h.8v.8h-.8zM104.0 168.3h.8v.8h-.8zM114.2 169.6h.8v.8h-.8zM81.9 170.5h.8v.8h-.8zM75.4 171.9h.8v.8h-.8zM95.0 166.6h.8v.8h-.8zM85.8 169.1h.8v.8h-.8zM106.7 168.1h.8v.8h-.8zM68.2 172.5h.8v.8h-.8zM103.5 190.6h.8v.8h-.8zM90.5 168.9h.8v.8h-.8zM80.0 170.0h.8v.8h-.8zM76.4 170.4h.8v.8h-.8zM90.7 168.4h.8v.8h-.8zM99.4 167.8h.8v.8h-.8zM89.2 193.0h.8v.8h-.8zM106.9 168.3h.8v.8h-.8zM69.1 170.6h.8v.8h-.8zM75.0 190.3h.8v.8h-.8zM90.0 192.1h.8v.8h-.8zM73.4 178.4h.8v.8h-.8zM87.2 190.6h.8v.8h-.8zM101.5 170.0h.8v.8h-.8zM61.2 176.1h.8v.8h-.8zM70.2 184.4h.8v.8h-.8zM89.1 178.5h.8v.8h-.8zM77.9 173.3h.8v.8h-.8zM70.6 175.0h.8v.8h-.8zM111.5 173.3h.8v.8h-.8zM83.2 181.7h.8v.8h-.8zM93.5 172.9h.8v.8h-.8zM105.4 177.5h.8v.8h-.8zM86.1 172.8h.8v.8h-.8zM92.7 169.1h.8v.8h-.8zM110.7 179.7h.8v.8h-.8zM74.7 186.4h.8v.8h-.8zM98.8 168.7h.8v.8h-.8zM113.9 179.4h.8v.8h-.8zM114.6 169.9h.8v.8h-.8zM82.8 172.4h.8v.8h-.8zM94.1 183.0h.8v.8h-.8zM93.7 186.0h.8v.8h-.8zM84.9 170.6h.8v.8h-.8zM89.6 187.1h.8v.8h-.8zM67.4 172.2h.8v.8h-.8zM81.6 188.5h.8v.8h-.8zM85.3 189.1h.8v.8h-.8zM116.9 172.8h.8v.8h-.8zM79.7 179.0h.8v.8h-.8zM114.7 176.0h.8v.8h-.8zM106.4 178.6h.8v.8h-.8zM63.6 176.9h.8v.8h-.8zM97.8 181.5h.8v.8h-.8zM63.1 174.7h.8v.8h-.8zM110.7 189.0h.8v.8h-.8zM112.6 183.7h.8v.8h-.8zM72.4 177.1h.8v.8h-.8zM66.9 178.5h.8v.8h-.8zM95.5 177.6h.8v.8h-.8zM97.3 191.9h.8v.8h-.8zM67.3 182.4h.8v.8h-.8zM108.2 181.3h.8v.8h-.8zM78.0 194.0h.8v.8h-.8zM113.5 178.8h.8v.8h-.8zM106.2 183.4h.8v.8h-.8zM85.4 179.7h.8v.8h-.8zM104.8 187.3h.8v.8h-.8zM77.5 186.5h.8v.8h-.8zM72.1 181.5h.8v.8h-.8zM92.1 191.3h.8v.8h-.8zM90.0 183.6h.8v.8h-.8zM86.5 188.0h.8v.8h-.8zM91.8 188.2h.8v.8h-.8zM105.8 177.5h.8v.8h-.8zM83.3 171.4h.8v.8h-.8zM76.1 183.8h.8v.8h-.8zM115.3 171.4h.8v.8h-.8zM66.9 186.4h.8v.8h-.8zM71.6 178.8h.8v.8h-.8zM70.3 183.2h.8v.8h-.8zM63.2 175.0h.8v.8h-.8zM113.2 171.2h.8v.8h-.8zM98.2 176.3h.8v.8h-.8zM88.5 192.8h.8v.8h-.8zM87.4 172.7h.8v.8h-.8zM103.0 173.1h.8v.8h-.8zM105.1 183.6h.8v.8h-.8zM101.3 189.8h.8v.8h-.8zM65.9 177.4h.8v.8h-.8zM102.4 179.2h.8v.8h-.8zM95.2 193.1h.8v.8h-.8zM70.2 178.4h.8v.8h-.8zM107.9 182.3h.8v.8h-.8zM94.2 172.6h.8v.8h-.8zM101.6 183.3h.8v.8h-.8zM107.5 191.5h.8v.8h-.8zM66.5 180.9h.8v.8h-.8zM98.2 189.3h.8v.8h-.8zM75.4 184.4h.8v.8h-.8zM113.0 173.3h.8v.8h-.8zM122.8 181.8h.8v.8h-.8zM125.2 176.4h.8v.8h-.8zM121.0 180.2h.8v.8h-.8zM117.8 176.1h.8v.8h-.8zM122.8 172.1h.8v.8h-.8zM112.3 182.1h.8v.8h-.8zM116.1 170.7h.8v.8h-.8zM116.5 183.7h.8v.8h-.8zM126.9 185.4h.8v.8h-.8zM117.1 185.3h.8v.8h-.8zM115.5 177.9h.8v.8h-.8zM119.3 174.2h.8v.8h-.8zM118.9 181.0h.8v.8h-.8zM119.2 178.0h.8v.8h-.8zM118.2 178.8h.8v.8h-.8zM112.7 183.4h.8v.8h-.8zM116.3 178.6h.8v.8h-.8zM113.8 173.7h.8v.8h-.8zM115.5 180.7h.8v.8h-.8zM115.9 173.9h.8v.8h-.8zM117.0 181.9h.8v.8h-.8zM113.9 181.3h.8v.8h-.8zM112.6 172.6h.8v.8h-.8zM114.9 182.0h.8v.8h-.8zM115.8 185.3h.8v.8h-.8zM117.9 179.2h.8v.8h-.8zM115.8 181.4h.8v.8h-.8zM120.3 180.0h.8v.8h-.8zM119.2 178.3h.8v.8h-.8zM114.1 183.6h.8v.8h-.8zM116.7 180.2h.8v.8h-.8zM113.7 170.5h.8v.8h-.8zM132.2 184.5h.8v.8h-.8zM114.8 174.0h.8v.8h-.8zM113.9 183.1h.8v.8h-.8zM113.9 177.9h.8v.8h-.8zM120.7 182.2h.8v.8h-.8zM125.9 180.6h.8v.8h-.8zM113.9 179.4h.8v.8h-.8zM113.0 182.9h.8v.8h-.8zM127.1 185.2h.8v.8h-.8zM115.3 174.5h.8v.8h-.8zM116.9 178.2h.8v.8h-.8zM119.6 174.0h.8v.8h-.8z"/>
<path d="M63.00,180.40 C63.20,179.30 64.70,177.52 66.20,176.80 C67.70,176.08 70.00,176.23 72.00,176.10 C74.00,175.97 75.95,176.13 78.20,176.00 C80.45,175.87 83.05,175.63 85.50,175.30 C87.95,174.97 90.02,174.37 92.90,174.00 C95.78,173.63 99.92,173.32 102.80,173.10 C105.68,172.88 108.40,172.58 110.20,172.70 C112.00,172.82 112.93,173.18 113.60,173.80 C114.27,174.42 114.60,175.17 114.20,176.40 C113.80,177.63 112.53,179.73 111.20,181.20 C109.87,182.67 108.02,184.15 106.20,185.20 C104.38,186.25 102.52,187.03 100.30,187.50 C98.08,187.97 95.37,188.02 92.90,188.00 C90.43,187.98 87.95,187.70 85.50,187.40 C83.05,187.10 80.65,186.67 78.20,186.20 C75.75,185.73 73.00,185.07 70.80,184.60 C68.60,184.13 66.30,184.10 65.00,183.40 C63.70,182.70 62.80,181.50 63.00,180.40 Z" fill="#cacaca"/>
<path d="M63.00,180.40 C63.20,179.30 64.70,177.52 66.20,176.80 C67.70,176.08 70.00,176.23 72.00,176.10 C74.00,175.97 75.95,176.13 78.20,176.00 C80.45,175.87 83.05,175.63 85.50,175.30 C87.95,174.97 90.02,174.37 92.90,174.00 C95.78,173.63 99.92,173.32 102.80,173.10 C105.68,172.88 108.40,172.58 110.20,172.70 C112.00,172.82 112.93,173.18 113.60,173.80 C114.27,174.42 114.60,175.17 114.20,176.40 C113.80,177.63 112.53,179.73 111.20,181.20 C109.87,182.67 108.02,184.15 106.20,185.20 C104.38,186.25 102.52,187.03 100.30,187.50 C98.08,187.97 95.37,188.02 92.90,188.00 C90.43,187.98 87.95,187.70 85.50,187.40 C83.05,187.10 80.65,186.67 78.20,186.20 C75.75,185.73 73.00,185.07 70.80,184.60 C68.60,184.13 66.30,184.10 65.00,183.40 C63.70,182.70 62.80,181.50 63.00,180.40 Z" fill="none" stroke="#1c1c1c" stroke-width="1.5" stroke-linejoin="round" filter="url(#bl)"/>
<path d="M65.90,180.51 C66.08,179.61 67.43,178.14 68.78,177.56 C70.13,176.97 72.20,177.09 74.00,176.98 C75.80,176.87 77.55,177.01 79.58,176.90 C81.61,176.79 83.95,176.60 86.15,176.33 C88.36,176.05 90.22,175.56 92.81,175.26 C95.41,174.96 99.12,174.70 101.72,174.52 C104.31,174.34 106.76,174.10 108.38,174.19 C110.00,174.29 110.84,174.59 111.44,175.10 C112.04,175.60 112.34,176.22 111.98,177.23 C111.62,178.24 110.48,179.96 109.28,181.16 C108.08,182.37 106.42,183.58 104.78,184.44 C103.14,185.31 101.47,185.95 99.47,186.33 C97.47,186.71 95.03,186.75 92.81,186.74 C90.59,186.73 88.36,186.49 86.15,186.25 C83.95,186.00 81.78,185.65 79.58,185.26 C77.38,184.88 74.90,184.33 72.92,183.95 C70.94,183.57 68.87,183.54 67.70,182.97 C66.53,182.39 65.72,181.41 65.90,180.51 Z" fill="#cfcfcf" stroke="#5a5a5a" stroke-width="0.7"/>
<path d="M72.04,180.92 C72.19,180.21 73.30,179.07 74.41,178.61 C75.52,178.15 77.22,178.25 78.70,178.16 C80.18,178.08 81.62,178.19 83.29,178.10 C84.95,178.01 86.88,177.87 88.69,177.65 C90.50,177.44 92.03,177.05 94.17,176.82 C96.30,176.59 99.36,176.38 101.49,176.24 C103.63,176.11 105.64,175.91 106.97,175.99 C108.30,176.06 108.99,176.30 109.48,176.69 C109.98,177.09 110.22,177.57 109.93,178.36 C109.63,179.15 108.69,180.49 107.71,181.43 C106.72,182.37 105.35,183.32 104.01,183.99 C102.66,184.66 101.28,185.16 99.64,185.46 C98.00,185.76 95.99,185.79 94.17,185.78 C92.34,185.77 90.50,185.59 88.69,185.40 C86.88,185.20 85.10,184.93 83.29,184.63 C81.47,184.33 79.44,183.90 77.81,183.60 C76.18,183.31 74.48,183.28 73.52,182.84 C72.56,182.39 71.89,181.62 72.04,180.92 Z" fill="#c8c8c8" stroke="#6a6a6a" stroke-width="0.6"/>
<path d="M79.05,181.54 C79.16,181.05 79.98,180.27 80.81,179.95 C81.64,179.64 82.90,179.70 84.00,179.64 C85.10,179.59 86.17,179.66 87.41,179.60 C88.65,179.54 90.08,179.44 91.42,179.29 C92.77,179.15 93.91,178.88 95.50,178.72 C97.08,178.56 99.35,178.42 100.94,178.32 C102.53,178.23 104.02,178.10 105.01,178.15 C106.00,178.20 106.51,178.36 106.88,178.63 C107.25,178.90 107.43,179.23 107.21,179.78 C106.99,180.32 106.29,181.24 105.56,181.89 C104.83,182.53 103.81,183.19 102.81,183.65 C101.81,184.11 100.78,184.45 99.56,184.66 C98.35,184.87 96.85,184.89 95.50,184.88 C94.14,184.87 92.77,184.75 91.42,184.62 C90.08,184.48 88.76,184.29 87.41,184.09 C86.06,183.88 84.55,183.59 83.34,183.38 C82.13,183.18 80.87,183.16 80.15,182.86 C79.44,182.55 78.94,182.02 79.05,181.54 Z" fill="#d6d6d6" stroke="#7a7a7a" stroke-width="0.6"/>
<path d="M83.56,183.07 C83.63,182.83 84.17,182.43 84.71,182.28 C85.25,182.12 86.08,182.15 86.80,182.12 C87.52,182.09 88.22,182.13 89.03,182.10 C89.84,182.07 90.78,182.02 91.66,181.95 C92.54,181.87 93.29,181.74 94.32,181.66 C95.36,181.58 96.85,181.51 97.89,181.46 C98.93,181.41 99.90,181.35 100.55,181.37 C101.20,181.40 101.54,181.48 101.78,181.62 C102.02,181.75 102.14,181.92 101.99,182.19 C101.85,182.46 101.39,182.92 100.91,183.24 C100.43,183.57 99.77,183.89 99.11,184.12 C98.46,184.35 97.79,184.53 96.99,184.63 C96.19,184.73 95.21,184.74 94.32,184.74 C93.44,184.74 92.54,184.67 91.66,184.61 C90.78,184.54 89.91,184.45 89.03,184.34 C88.15,184.24 87.16,184.09 86.37,183.99 C85.58,183.89 84.75,183.88 84.28,183.73 C83.81,183.57 83.49,183.31 83.56,183.07 Z" fill="#ececec" stroke="#9a9a9a" stroke-width="0.5"/>
<rect x="77.50" y="154.80" width="57.30" height="43.90" fill="none" stroke="#5e5e5e" stroke-width="1.0"/>
<rect x="52.40" y="144.60" width="87.00" height="86.60" fill="none" stroke="#1a1a1a" stroke-width="1.35"/>
<line x1="49.00" y1="153.60" x2="52.40" y2="153.60" stroke="#111" stroke-width="1.1"/>
<line x1="49.00" y1="173.50" x2="52.40" y2="173.50" stroke="#111" stroke-width="1.1"/>
<line x1="49.00" y1="197.30" x2="52.40" y2="197.30" stroke="#111" stroke-width="1.1"/>
<line x1="49.00" y1="211.70" x2="52.40" y2="211.70" stroke="#111" stroke-width="1.1"/>
<line x1="49.00" y1="225.60" x2="52.40" y2="225.60" stroke="#111" stroke-width="1.1"/>
<line x1="50.40" y1="167.51" x2="52.40" y2="167.51" stroke="#222" stroke-width="0.75"/>
<line x1="50.40" y1="164.01" x2="52.40" y2="164.01" stroke="#222" stroke-width="0.75"/>
<line x1="50.40" y1="161.52" x2="52.40" y2="161.52" stroke="#222" stroke-width="0.75"/>
<line x1="50.40" y1="159.59" x2="52.40" y2="159.59" stroke="#222" stroke-width="0.75"/>
<line x1="50.40" y1="158.01" x2="52.40" y2="158.01" stroke="#222" stroke-width="0.75"/>
<line x1="50.40" y1="156.68" x2="52.40" y2="156.68" stroke="#222" stroke-width="0.75"/>
<line x1="50.40" y1="155.53" x2="52.40" y2="155.53" stroke="#222" stroke-width="0.75"/>
<line x1="50.40" y1="154.51" x2="52.40" y2="154.51" stroke="#222" stroke-width="0.75"/>
<line x1="50.40" y1="190.14" x2="52.40" y2="190.14" stroke="#222" stroke-width="0.75"/>
<line x1="50.40" y1="185.94" x2="52.40" y2="185.94" stroke="#222" stroke-width="0.75"/>
<line x1="50.40" y1="182.97" x2="52.40" y2="182.97" stroke="#222" stroke-width="0.75"/>
<line x1="50.40" y1="180.66" x2="52.40" y2="180.66" stroke="#222" stroke-width="0.75"/>
<line x1="50.40" y1="178.78" x2="52.40" y2="178.78" stroke="#222" stroke-width="0.75"/>
<line x1="50.40" y1="177.19" x2="52.40" y2="177.19" stroke="#222" stroke-width="0.75"/>
<line x1="50.40" y1="175.81" x2="52.40" y2="175.81" stroke="#222" stroke-width="0.75"/>
<line x1="50.40" y1="174.59" x2="52.40" y2="174.59" stroke="#222" stroke-width="0.75"/>
<line x1="50.40" y1="146.10" x2="52.40" y2="146.10" stroke="#222" stroke-width="0.75"/>
<line x1="50.40" y1="148.60" x2="52.40" y2="148.60" stroke="#222" stroke-width="0.75"/>
<line x1="50.40" y1="151.10" x2="52.40" y2="151.10" stroke="#222" stroke-width="0.75"/>
<line x1="50.40" y1="199.10" x2="52.40" y2="199.10" stroke="#222" stroke-width="0.75"/>
<line x1="50.40" y1="201.10" x2="52.40" y2="201.10" stroke="#222" stroke-width="0.75"/>
<line x1="50.40" y1="203.10" x2="52.40" y2="203.10" stroke="#222" stroke-width="0.75"/>
<line x1="50.40" y1="205.10" x2="52.40" y2="205.10" stroke="#222" stroke-width="0.75"/>
<line x1="50.40" y1="207.10" x2="52.40" y2="207.10" stroke="#222" stroke-width="0.75"/>
<line x1="50.40" y1="208.60" x2="52.40" y2="208.60" stroke="#222" stroke-width="0.75"/>
<line x1="50.40" y1="210.10" x2="52.40" y2="210.10" stroke="#222" stroke-width="0.75"/>
<line x1="50.40" y1="210.90" x2="52.40" y2="210.90" stroke="#222" stroke-width="0.75"/>
<line x1="50.40" y1="212.60" x2="52.40" y2="212.60" stroke="#222" stroke-width="0.75"/>
<line x1="50.40" y1="213.60" x2="52.40" y2="213.60" stroke="#222" stroke-width="0.75"/>
<line x1="50.40" y1="215.10" x2="52.40" y2="215.10" stroke="#222" stroke-width="0.75"/>
<line x1="50.40" y1="217.10" x2="52.40" y2="217.10" stroke="#222" stroke-width="0.75"/>
<line x1="50.40" y1="219.10" x2="52.40" y2="219.10" stroke="#222" stroke-width="0.75"/>
<line x1="50.40" y1="221.10" x2="52.40" y2="221.10" stroke="#222" stroke-width="0.75"/>
<line x1="50.40" y1="223.10" x2="52.40" y2="223.10" stroke="#222" stroke-width="0.75"/>
<line x1="50.40" y1="227.60" x2="52.40" y2="227.60" stroke="#222" stroke-width="0.75"/>
<line x1="50.40" y1="229.60" x2="52.40" y2="229.60" stroke="#222" stroke-width="0.75"/>
<line x1="62.50" y1="231.20" x2="62.50" y2="234.20" stroke="#111" stroke-width="1.1"/>
<line x1="95.20" y1="231.20" x2="95.20" y2="234.20" stroke="#111" stroke-width="1.1"/>
<line x1="116.50" y1="231.20" x2="116.50" y2="234.20" stroke="#111" stroke-width="1.1"/>
<line x1="138.60" y1="231.20" x2="138.60" y2="234.20" stroke="#111" stroke-width="1.1"/>
<line x1="101.61" y1="231.20" x2="101.61" y2="233.40" stroke="#222" stroke-width="0.75"/>
<line x1="105.36" y1="231.20" x2="105.36" y2="233.40" stroke="#222" stroke-width="0.75"/>
<line x1="108.02" y1="231.20" x2="108.02" y2="233.40" stroke="#222" stroke-width="0.75"/>
<line x1="110.09" y1="231.20" x2="110.09" y2="233.40" stroke="#222" stroke-width="0.75"/>
<line x1="111.77" y1="231.20" x2="111.77" y2="233.40" stroke="#222" stroke-width="0.75"/>
<line x1="113.20" y1="231.20" x2="113.20" y2="233.40" stroke="#222" stroke-width="0.75"/>
<line x1="114.44" y1="231.20" x2="114.44" y2="233.40" stroke="#222" stroke-width="0.75"/>
<line x1="115.53" y1="231.20" x2="115.53" y2="233.40" stroke="#222" stroke-width="0.75"/>
<line x1="123.15" y1="231.20" x2="123.15" y2="233.40" stroke="#222" stroke-width="0.75"/>
<line x1="127.04" y1="231.20" x2="127.04" y2="233.40" stroke="#222" stroke-width="0.75"/>
<line x1="129.81" y1="231.20" x2="129.81" y2="233.40" stroke="#222" stroke-width="0.75"/>
<line x1="131.95" y1="231.20" x2="131.95" y2="233.40" stroke="#222" stroke-width="0.75"/>
<line x1="133.70" y1="231.20" x2="133.70" y2="233.40" stroke="#222" stroke-width="0.75"/>
<line x1="135.18" y1="231.20" x2="135.18" y2="233.40" stroke="#222" stroke-width="0.75"/>
<line x1="136.46" y1="231.20" x2="136.46" y2="233.40" stroke="#222" stroke-width="0.75"/>
<line x1="137.59" y1="231.20" x2="137.59" y2="233.40" stroke="#222" stroke-width="0.75"/>
<line x1="72.34" y1="231.20" x2="72.34" y2="233.40" stroke="#222" stroke-width="0.75"/>
<line x1="59.55" y1="231.20" x2="59.55" y2="233.40" stroke="#222" stroke-width="0.75"/>
<line x1="78.10" y1="231.20" x2="78.10" y2="233.40" stroke="#222" stroke-width="0.75"/>
<line x1="57.82" y1="231.20" x2="57.82" y2="233.40" stroke="#222" stroke-width="0.75"/>
<line x1="82.19" y1="231.20" x2="82.19" y2="233.40" stroke="#222" stroke-width="0.75"/>
<line x1="56.59" y1="231.20" x2="56.59" y2="233.40" stroke="#222" stroke-width="0.75"/>
<line x1="85.36" y1="231.20" x2="85.36" y2="233.40" stroke="#222" stroke-width="0.75"/>
<line x1="55.64" y1="231.20" x2="55.64" y2="233.40" stroke="#222" stroke-width="0.75"/>
<line x1="87.95" y1="231.20" x2="87.95" y2="233.40" stroke="#222" stroke-width="0.75"/>
<line x1="54.87" y1="231.20" x2="54.87" y2="233.40" stroke="#222" stroke-width="0.75"/>
<line x1="90.13" y1="231.20" x2="90.13" y2="233.40" stroke="#222" stroke-width="0.75"/>
<line x1="54.21" y1="231.20" x2="54.21" y2="233.40" stroke="#222" stroke-width="0.75"/>
<line x1="92.03" y1="231.20" x2="92.03" y2="233.40" stroke="#222" stroke-width="0.75"/>
<line x1="53.64" y1="231.20" x2="53.64" y2="233.40" stroke="#222" stroke-width="0.75"/>
<line x1="93.70" y1="231.20" x2="93.70" y2="233.40" stroke="#222" stroke-width="0.75"/>
<text x="45.50" y="157.20" font-size="8.3" text-anchor="end" fill="#231f20" stroke="#231f20" textLength="12.20" lengthAdjust="spacingAndGlyphs">10<tspan font-size="6.0" dy="-3.0">5</tspan></text>
<text x="45.50" y="177.10" font-size="8.3" text-anchor="end" fill="#231f20" stroke="#231f20" textLength="12.20" lengthAdjust="spacingAndGlyphs">10<tspan font-size="6.0" dy="-3.0">4</tspan></text>
<text x="45.50" y="200.90" font-size="8.3" text-anchor="end" fill="#231f20" stroke="#231f20" textLength="11.60" lengthAdjust="spacingAndGlyphs">10<tspan font-size="6.0" dy="-3.0">3</tspan></text>
<text x="45.50" y="215.30" font-size="8.3" text-anchor="end" fill="#231f20" stroke="#231f20">0</text>
<text x="45.50" y="229.20" font-size="8.3" text-anchor="end" fill="#231f20" stroke="#231f20" textLength="14.00" lengthAdjust="spacingAndGlyphs">-10<tspan font-size="6.0" dy="-3.0">3</tspan></text>
<text x="62.50" y="245.00" font-size="8.3" text-anchor="middle" fill="#231f20" stroke="#231f20">0</text>
<text x="95.20" y="245.00" font-size="8.3" text-anchor="middle" fill="#231f20" stroke="#231f20" textLength="11.20" lengthAdjust="spacingAndGlyphs">10<tspan font-size="6.0" dy="-3.0">3</tspan></text>
<text x="116.50" y="245.00" font-size="8.3" text-anchor="middle" fill="#231f20" stroke="#231f20" textLength="11.20" lengthAdjust="spacingAndGlyphs">10<tspan font-size="6.0" dy="-3.0">4</tspan></text>
<text x="138.60" y="245.00" font-size="8.3" text-anchor="middle" fill="#231f20" stroke="#231f20" textLength="11.20" lengthAdjust="spacingAndGlyphs">10<tspan font-size="6.0" dy="-3.0">5</tspan></text>
<text x="113.20" y="194.80" font-size="8.4" text-anchor="start" fill="#231f20" stroke="#231f20" textLength="14.70" lengthAdjust="spacingAndGlyphs">89.2</text>
<path fill="#222" fill-opacity="0.95" d="M222.8 185.2h.8v.8h-.8zM206.7 176.1h.8v.8h-.8zM188.9 185.0h.8v.8h-.8zM220.2 186.0h.8v.8h-.8zM181.6 184.0h.8v.8h-.8zM184.7 184.8h.8v.8h-.8zM191.7 185.8h.8v.8h-.8zM185.5 184.7h.8v.8h-.8zM204.9 175.8h.8v.8h-.8zM192.4 176.0h.8v.8h-.8zM209.0 186.8h.8v.8h-.8zM218.4 185.6h.8v.8h-.8zM202.6 187.1h.8v.8h-.8zM187.3 185.1h.8v.8h-.8zM197.4 186.2h.8v.8h-.8zM193.4 185.8h.8v.8h-.8zM188.1 185.0h.8v.8h-.8zM187.7 184.9h.8v.8h-.8zM232.2 178.5h.8v.8h-.8zM182.8 184.8h.8v.8h-.8zM195.9 176.9h.8v.8h-.8zM232.5 174.0h.8v.8h-.8zM231.8 175.9h.8v.8h-.8zM182.0 183.5h.8v.8h-.8zM195.9 186.3h.8v.8h-.8zM198.9 176.3h.8v.8h-.8zM224.7 184.1h.8v.8h-.8zM198.5 186.8h.8v.8h-.8zM201.1 175.2h.8v.8h-.8zM195.3 185.7h.8v.8h-.8zM232.6 177.9h.8v.8h-.8zM228.7 181.7h.8v.8h-.8zM190.3 184.8h.8v.8h-.8zM219.4 172.8h.8v.8h-.8zM181.6 183.1h.8v.8h-.8zM223.9 172.8h.8v.8h-.8zM205.9 187.3h.8v.8h-.8zM230.6 179.6h.8v.8h-.8zM224.1 183.9h.8v.8h-.8zM212.0 187.5h.8v.8h-.8zM216.7 174.4h.8v.8h-.8zM183.7 183.7h.8v.8h-.8zM181.8 183.4h.8v.8h-.8zM231.2 178.8h.8v.8h-.8zM207.7 186.9h.8v.8h-.8zM202.7 175.5h.8v.8h-.8zM180.4 182.1h.8v.8h-.8zM202.8 186.0h.8v.8h-.8zM201.0 187.4h.8v.8h-.8zM203.1 176.0h.8v.8h-.8zM216.5 186.5h.8v.8h-.8zM222.5 186.2h.8v.8h-.8zM218.9 186.9h.8v.8h-.8zM206.7 176.0h.8v.8h-.8zM185.3 185.5h.8v.8h-.8zM200.2 175.5h.8v.8h-.8zM211.8 188.2h.8v.8h-.8zM184.2 177.4h.8v.8h-.8zM204.0 187.0h.8v.8h-.8zM208.5 187.0h.8v.8h-.8zM211.6 187.3h.8v.8h-.8zM199.1 185.9h.8v.8h-.8zM207.0 175.0h.8v.8h-.8zM180.4 181.6h.8v.8h-.8zM181.6 183.2h.8v.8h-.8zM221.4 172.7h.8v.8h-.8zM192.7 185.8h.8v.8h-.8zM222.8 184.8h.8v.8h-.8zM231.8 179.1h.8v.8h-.8zM218.5 172.9h.8v.8h-.8zM200.0 185.9h.8v.8h-.8zM219.1 174.2h.8v.8h-.8zM194.6 186.3h.8v.8h-.8zM221.3 186.5h.8v.8h-.8zM208.0 186.1h.8v.8h-.8zM220.5 173.3h.8v.8h-.8zM211.0 186.4h.8v.8h-.8zM198.3 186.1h.8v.8h-.8zM196.4 186.6h.8v.8h-.8zM181.7 178.7h.8v.8h-.8zM205.8 187.0h.8v.8h-.8zM232.3 177.0h.8v.8h-.8zM231.8 174.5h.8v.8h-.8zM227.4 183.6h.8v.8h-.8zM205.3 187.6h.8v.8h-.8zM194.7 175.9h.8v.8h-.8zM222.7 185.1h.8v.8h-.8zM227.1 182.5h.8v.8h-.8zM231.8 174.4h.8v.8h-.8zM185.6 175.8h.8v.8h-.8zM208.9 186.6h.8v.8h-.8zM205.8 176.4h.8v.8h-.8zM227.2 173.1h.8v.8h-.8zM200.2 176.4h.8v.8h-.8zM231.4 177.1h.8v.8h-.8zM186.1 176.9h.8v.8h-.8zM198.5 176.1h.8v.8h-.8zM187.7 176.5h.8v.8h-.8zM222.0 173.4h.8v.8h-.8zM210.0 174.8h.8v.8h-.8zM185.8 185.3h.8v.8h-.8zM185.8 184.6h.8v.8h-.8zM228.3 181.9h.8v.8h-.8zM221.9 184.8h.8v.8h-.8zM183.1 184.3h.8v.8h-.8zM191.3 185.5h.8v.8h-.8zM223.8 184.3h.8v.8h-.8zM197.0 175.4h.8v.8h-.8zM224.5 183.9h.8v.8h-.8zM203.0 186.9h.8v.8h-.8zM210.1 186.5h.8v.8h-.8zM180.6 182.0h.8v.8h-.8zM231.5 175.5h.8v.8h-.8zM201.0 186.6h.8v.8h-.8zM231.2 179.3h.8v.8h-.8zM191.6 185.2h.8v.8h-.8zM225.9 183.4h.8v.8h-.8zM218.2 174.6h.8v.8h-.8zM203.5 186.4h.8v.8h-.8zM193.9 186.3h.8v.8h-.8zM205.2 175.4h.8v.8h-.8zM201.3 186.5h.8v.8h-.8zM183.9 176.6h.8v.8h-.8zM193.1 185.6h.8v.8h-.8zM215.2 187.1h.8v.8h-.8zM192.2 185.7h.8v.8h-.8zM190.4 176.0h.8v.8h-.8zM231.9 178.1h.8v.8h-.8zM194.5 174.9h.8v.8h-.8zM180.7 178.5h.8v.8h-.8zM231.6 178.4h.8v.8h-.8zM216.1 187.3h.8v.8h-.8zM207.0 187.3h.8v.8h-.8zM188.2 185.5h.8v.8h-.8zM222.2 185.0h.8v.8h-.8zM203.3 175.1h.8v.8h-.8zM227.8 173.5h.8v.8h-.8zM215.4 186.8h.8v.8h-.8zM210.9 187.5h.8v.8h-.8zM231.7 174.0h.8v.8h-.8zM211.1 186.2h.8v.8h-.8zM197.4 186.1h.8v.8h-.8zM191.2 175.9h.8v.8h-.8zM227.9 182.8h.8v.8h-.8zM193.8 186.2h.8v.8h-.8zM225.6 172.8h.8v.8h-.8zM226.7 183.3h.8v.8h-.8zM220.8 185.5h.8v.8h-.8zM182.1 182.9h.8v.8h-.8zM231.0 178.3h.8v.8h-.8zM214.8 186.4h.8v.8h-.8zM205.4 186.8h.8v.8h-.8zM222.4 172.5h.8v.8h-.8zM195.2 175.3h.8v.8h-.8zM210.2 187.0h.8v.8h-.8zM231.8 178.9h.8v.8h-.8zM207.6 175.7h.8v.8h-.8zM197.1 186.3h.8v.8h-.8zM218.0 186.1h.8v.8h-.8zM182.1 184.3h.8v.8h-.8zM217.2 186.7h.8v.8h-.8zM181.4 183.6h.8v.8h-.8zM204.7 176.0h.8v.8h-.8zM226.5 183.2h.8v.8h-.8zM231.5 179.6h.8v.8h-.8zM217.7 187.5h.8v.8h-.8zM231.8 177.9h.8v.8h-.8zM211.3 175.6h.8v.8h-.8zM199.7 176.1h.8v.8h-.8zM227.8 172.5h.8v.8h-.8zM218.2 174.5h.8v.8h-.8zM228.6 173.5h.8v.8h-.8zM198.3 176.0h.8v.8h-.8zM213.2 173.6h.8v.8h-.8zM203.7 187.3h.8v.8h-.8zM181.1 182.7h.8v.8h-.8zM208.2 176.1h.8v.8h-.8zM187.1 184.5h.8v.8h-.8zM232.1 176.0h.8v.8h-.8zM183.0 184.1h.8v.8h-.8zM220.4 185.2h.8v.8h-.8zM187.6 185.4h.8v.8h-.8zM218.7 172.8h.8v.8h-.8zM182.1 178.6h.8v.8h-.8zM185.8 184.1h.8v.8h-.8zM211.6 174.9h.8v.8h-.8zM186.4 184.8h.8v.8h-.8zM207.5 187.0h.8v.8h-.8zM218.6 186.0h.8v.8h-.8zM186.6 184.9h.8v.8h-.8zM211.5 175.3h.8v.8h-.8zM229.1 181.5h.8v.8h-.8zM225.2 184.4h.8v.8h-.8zM218.6 173.3h.8v.8h-.8zM208.4 175.3h.8v.8h-.8zM194.2 185.6h.8v.8h-.8zM184.3 176.6h.8v.8h-.8zM218.3 173.6h.8v.8h-.8zM200.3 176.1h.8v.8h-.8zM186.6 184.3h.8v.8h-.8zM209.0 186.5h.8v.8h-.8zM215.1 186.4h.8v.8h-.8zM191.1 185.6h.8v.8h-.8zM194.5 186.2h.8v.8h-.8zM226.9 183.7h.8v.8h-.8zM225.7 184.9h.8v.8h-.8zM186.0 176.0h.8v.8h-.8zM211.5 174.1h.8v.8h-.8zM222.1 185.6h.8v.8h-.8zM231.8 176.9h.8v.8h-.8zM188.9 184.7h.8v.8h-.8zM184.8 185.3h.8v.8h-.8zM191.7 176.0h.8v.8h-.8zM226.9 172.8h.8v.8h-.8zM209.6 174.8h.8v.8h-.8zM229.3 181.8h.8v.8h-.8zM208.4 187.1h.8v.8h-.8zM223.6 185.4h.8v.8h-.8zM219.2 173.1h.8v.8h-.8zM185.9 175.4h.8v.8h-.8zM183.5 185.0h.8v.8h-.8zM200.3 187.1h.8v.8h-.8zM226.0 184.2h.8v.8h-.8zM229.1 173.5h.8v.8h-.8zM211.8 175.1h.8v.8h-.8zM196.1 176.0h.8v.8h-.8zM200.2 187.0h.8v.8h-.8zM225.6 183.4h.8v.8h-.8zM231.2 180.1h.8v.8h-.8zM217.6 172.8h.8v.8h-.8zM213.5 187.0h.8v.8h-.8zM228.0 172.4h.8v.8h-.8zM221.9 172.9h.8v.8h-.8zM181.2 180.2h.8v.8h-.8zM181.3 178.9h.8v.8h-.8zM181.1 180.7h.8v.8h-.8zM193.1 176.1h.8v.8h-.8zM204.1 175.8h.8v.8h-.8zM205.6 175.1h.8v.8h-.8zM181.7 184.2h.8v.8h-.8zM191.2 184.7h.8v.8h-.8zM218.4 186.1h.8v.8h-.8zM204.1 185.9h.8v.8h-.8zM180.9 181.0h.8v.8h-.8zM225.6 184.7h.8v.8h-.8zM230.5 173.9h.8v.8h-.8zM220.6 185.9h.8v.8h-.8zM216.5 173.2h.8v.8h-.8zM210.1 174.9h.8v.8h-.8zM182.0 183.4h.8v.8h-.8zM180.9 182.6h.8v.8h-.8zM212.1 174.4h.8v.8h-.8zM201.9 175.5h.8v.8h-.8zM218.5 173.5h.8v.8h-.8zM181.4 182.5h.8v.8h-.8zM192.8 176.1h.8v.8h-.8zM219.5 185.9h.8v.8h-.8zM226.0 183.9h.8v.8h-.8zM203.0 186.0h.8v.8h-.8zM210.9 187.4h.8v.8h-.8zM200.5 186.3h.8v.8h-.8zM194.3 175.0h.8v.8h-.8zM204.0 175.3h.8v.8h-.8zM197.7 175.2h.8v.8h-.8zM213.0 186.7h.8v.8h-.8zM218.9 186.1h.8v.8h-.8zM223.8 184.0h.8v.8h-.8zM194.0 175.8h.8v.8h-.8zM225.5 172.7h.8v.8h-.8zM184.7 176.0h.8v.8h-.8zM221.0 174.2h.8v.8h-.8zM192.9 175.5h.8v.8h-.8zM213.0 186.3h.8v.8h-.8zM192.2 184.9h.8v.8h-.8zM227.7 182.1h.8v.8h-.8zM210.8 186.5h.8v.8h-.8zM200.8 186.1h.8v.8h-.8zM189.1 186.0h.8v.8h-.8zM220.5 185.9h.8v.8h-.8zM193.9 176.4h.8v.8h-.8zM219.7 173.0h.8v.8h-.8zM225.3 172.6h.8v.8h-.8zM189.1 184.7h.8v.8h-.8zM204.9 186.2h.8v.8h-.8zM228.5 182.0h.8v.8h-.8zM217.5 186.4h.8v.8h-.8zM211.3 174.3h.8v.8h-.8zM200.6 186.6h.8v.8h-.8zM185.2 184.3h.8v.8h-.8zM215.0 174.7h.8v.8h-.8zM221.6 186.0h.8v.8h-.8zM187.3 175.9h.8v.8h-.8zM228.2 181.5h.8v.8h-.8zM223.2 184.6h.8v.8h-.8zM180.9 181.0h.8v.8h-.8zM190.0 175.8h.8v.8h-.8zM220.4 185.8h.8v.8h-.8zM231.9 179.2h.8v.8h-.8zM224.5 184.8h.8v.8h-.8zM198.8 185.8h.8v.8h-.8zM228.5 182.1h.8v.8h-.8zM183.2 184.2h.8v.8h-.8zM226.0 183.6h.8v.8h-.8zM224.7 173.4h.8v.8h-.8zM222.4 173.8h.8v.8h-.8zM230.6 180.6h.8v.8h-.8zM227.5 182.5h.8v.8h-.8zM203.8 185.8h.8v.8h-.8zM219.2 185.9h.8v.8h-.8zM214.9 174.7h.8v.8h-.8zM220.0 173.4h.8v.8h-.8zM226.6 172.4h.8v.8h-.8zM208.1 175.7h.8v.8h-.8zM219.4 185.9h.8v.8h-.8zM224.9 183.6h.8v.8h-.8zM195.7 185.6h.8v.8h-.8zM193.5 175.9h.8v.8h-.8zM230.3 173.4h.8v.8h-.8zM206.9 175.4h.8v.8h-.8zM182.1 177.3h.8v.8h-.8zM200.1 175.6h.8v.8h-.8zM181.8 181.6h.8v.8h-.8zM218.9 173.0h.8v.8h-.8zM204.8 176.6h.8v.8h-.8zM205.4 186.9h.8v.8h-.8zM209.7 174.5h.8v.8h-.8zM222.4 184.5h.8v.8h-.8zM204.0 186.2h.8v.8h-.8zM187.5 175.2h.8v.8h-.8zM208.6 186.3h.8v.8h-.8zM196.0 186.3h.8v.8h-.8zM194.4 185.7h.8v.8h-.8zM183.4 184.1h.8v.8h-.8zM192.8 185.4h.8v.8h-.8zM203.4 175.1h.8v.8h-.8zM224.4 172.8h.8v.8h-.8zM207.9 186.4h.8v.8h-.8zM210.5 175.0h.8v.8h-.8zM203.3 186.3h.8v.8h-.8zM210.3 187.0h.8v.8h-.8zM218.5 185.8h.8v.8h-.8zM225.1 172.2h.8v.8h-.8zM183.0 177.8h.8v.8h-.8zM197.8 175.8h.8v.8h-.8zM216.7 186.4h.8v.8h-.8zM203.7 186.8h.8v.8h-.8zM194.7 175.5h.8v.8h-.8zM229.3 172.4h.8v.8h-.8zM222.3 185.5h.8v.8h-.8zM225.5 183.2h.8v.8h-.8zM179.9 180.0h.8v.8h-.8zM229.4 181.1h.8v.8h-.8zM231.0 178.5h.8v.8h-.8zM196.3 185.8h.8v.8h-.8zM196.3 186.6h.8v.8h-.8zM218.8 186.2h.8v.8h-.8zM197.9 187.0h.8v.8h-.8zM221.4 173.8h.8v.8h-.8zM192.7 185.9h.8v.8h-.8zM230.9 179.9h.8v.8h-.8zM210.7 174.7h.8v.8h-.8zM217.5 173.4h.8v.8h-.8zM214.9 186.3h.8v.8h-.8zM195.7 185.5h.8v.8h-.8zM188.6 186.4h.8v.8h-.8zM189.9 185.3h.8v.8h-.8zM213.5 186.0h.8v.8h-.8zM200.6 186.7h.8v.8h-.8zM181.6 183.1h.8v.8h-.8zM180.6 179.6h.8v.8h-.8zM227.7 182.1h.8v.8h-.8zM198.8 186.6h.8v.8h-.8zM192.6 176.2h.8v.8h-.8zM219.5 186.5h.8v.8h-.8zM196.9 175.0h.8v.8h-.8zM183.7 177.2h.8v.8h-.8zM191.0 175.8h.8v.8h-.8zM216.5 173.4h.8v.8h-.8zM224.3 184.6h.8v.8h-.8zM224.8 184.0h.8v.8h-.8zM194.7 185.4h.8v.8h-.8zM205.1 176.1h.8v.8h-.8zM189.3 186.1h.8v.8h-.8zM210.3 174.8h.8v.8h-.8zM207.6 187.1h.8v.8h-.8zM207.1 176.1h.8v.8h-.8zM203.0 186.7h.8v.8h-.8zM191.5 185.4h.8v.8h-.8zM227.1 173.4h.8v.8h-.8zM219.7 186.3h.8v.8h-.8zM227.2 182.9h.8v.8h-.8zM220.2 186.5h.8v.8h-.8zM192.9 185.3h.8v.8h-.8zM223.7 184.3h.8v.8h-.8zM210.2 186.2h.8v.8h-.8zM211.7 175.7h.8v.8h-.8zM207.6 187.6h.8v.8h-.8zM204.8 186.5h.8v.8h-.8zM194.6 175.9h.8v.8h-.8zM225.1 183.6h.8v.8h-.8zM184.0 184.5h.8v.8h-.8zM225.3 173.0h.8v.8h-.8zM220.2 172.9h.8v.8h-.8zM222.2 186.1h.8v.8h-.8zM217.5 185.9h.8v.8h-.8zM201.5 175.3h.8v.8h-.8zM231.2 179.9h.8v.8h-.8zM213.4 174.2h.8v.8h-.8zM183.7 176.9h.8v.8h-.8zM213.7 175.1h.8v.8h-.8zM181.3 178.2h.8v.8h-.8zM226.1 183.8h.8v.8h-.8zM206.3 175.1h.8v.8h-.8zM194.8 186.4h.8v.8h-.8zM185.2 184.1h.8v.8h-.8zM217.4 186.5h.8v.8h-.8zM200.5 186.2h.8v.8h-.8zM199.4 186.2h.8v.8h-.8zM210.1 174.5h.8v.8h-.8zM216.0 174.1h.8v.8h-.8zM195.7 177.0h.8v.8h-.8zM182.0 177.5h.8v.8h-.8zM211.5 174.7h.8v.8h-.8zM215.7 173.5h.8v.8h-.8zM231.0 180.8h.8v.8h-.8zM203.7 186.0h.8v.8h-.8zM225.4 183.4h.8v.8h-.8zM186.9 185.7h.8v.8h-.8zM192.3 185.1h.8v.8h-.8zM218.7 185.7h.8v.8h-.8zM219.9 186.2h.8v.8h-.8zM185.9 177.2h.8v.8h-.8zM182.9 183.9h.8v.8h-.8zM195.5 185.4h.8v.8h-.8zM230.3 172.8h.8v.8h-.8zM198.7 186.2h.8v.8h-.8zM230.0 180.2h.8v.8h-.8zM202.6 186.1h.8v.8h-.8zM201.1 186.7h.8v.8h-.8zM198.2 187.3h.8v.8h-.8zM226.8 173.0h.8v.8h-.8zM218.0 173.7h.8v.8h-.8zM197.8 186.7h.8v.8h-.8zM180.7 179.5h.8v.8h-.8zM200.1 175.7h.8v.8h-.8zM217.9 186.6h.8v.8h-.8zM232.0 176.6h.8v.8h-.8zM195.3 185.3h.8v.8h-.8zM203.8 186.7h.8v.8h-.8zM224.1 184.4h.8v.8h-.8zM183.1 184.8h.8v.8h-.8zM219.8 174.1h.8v.8h-.8zM187.3 175.7h.8v.8h-.8zM229.5 180.3h.8v.8h-.8zM220.0 186.0h.8v.8h-.8zM216.8 173.3h.8v.8h-.8zM222.7 185.2h.8v.8h-.8zM203.6 175.7h.8v.8h-.8zM192.8 185.9h.8v.8h-.8zM183.3 183.7h.8v.8h-.8zM214.8 187.0h.8v.8h-.8zM228.2 181.5h.8v.8h-.8zM193.6 185.4h.8v.8h-.8zM226.5 183.6h.8v.8h-.8zM205.6 186.2h.8v.8h-.8zM214.4 174.7h.8v.8h-.8zM185.8 184.9h.8v.8h-.8zM216.1 186.8h.8v.8h-.8zM214.7 174.8h.8v.8h-.8zM208.1 186.4h.8v.8h-.8zM231.2 174.5h.8v.8h-.8zM207.8 175.8h.8v.8h-.8zM231.3 173.8h.8v.8h-.8zM215.8 188.0h.8v.8h-.8zM180.9 180.8h.8v.8h-.8zM204.9 186.6h.8v.8h-.8zM191.4 185.2h.8v.8h-.8zM232.0 178.8h.8v.8h-.8zM226.8 182.3h.8v.8h-.8zM193.7 176.4h.8v.8h-.8zM199.9 186.3h.8v.8h-.8zM219.2 173.6h.8v.8h-.8zM211.9 175.5h.8v.8h-.8zM222.6 173.7h.8v.8h-.8zM190.3 185.1h.8v.8h-.8zM225.9 172.0h.8v.8h-.8zM211.5 187.0h.8v.8h-.8zM190.3 185.1h.8v.8h-.8zM207.4 187.4h.8v.8h-.8zM224.9 183.4h.8v.8h-.8z"/>
<path fill="#222" fill-opacity="0.7" d="M195.5 174.3h.8v.8h-.8zM183.5 175.7h.8v.8h-.8zM192.0 186.4h.8v.8h-.8zM228.4 171.7h.8v.8h-.8zM195.6 174.2h.8v.8h-.8zM232.4 179.2h.8v.8h-.8zM216.6 189.0h.8v.8h-.8zM193.3 186.8h.8v.8h-.8zM203.5 175.0h.8v.8h-.8zM200.3 188.3h.8v.8h-.8zM203.8 174.1h.8v.8h-.8zM195.2 175.0h.8v.8h-.8zM179.9 179.0h.8v.8h-.8zM206.3 187.5h.8v.8h-.8zM217.1 172.2h.8v.8h-.8zM185.5 175.2h.8v.8h-.8zM228.4 172.3h.8v.8h-.8zM207.6 188.8h.8v.8h-.8zM194.7 187.4h.8v.8h-.8zM199.5 187.6h.8v.8h-.8zM180.3 178.7h.8v.8h-.8zM186.0 174.5h.8v.8h-.8zM188.3 175.4h.8v.8h-.8zM190.5 186.3h.8v.8h-.8zM210.8 172.7h.8v.8h-.8zM191.4 186.8h.8v.8h-.8zM178.8 182.1h.8v.8h-.8zM226.1 185.3h.8v.8h-.8zM218.0 172.1h.8v.8h-.8zM228.4 184.9h.8v.8h-.8zM187.9 185.9h.8v.8h-.8zM229.5 182.4h.8v.8h-.8zM227.5 185.5h.8v.8h-.8zM187.2 175.3h.8v.8h-.8zM200.8 175.3h.8v.8h-.8zM190.1 174.5h.8v.8h-.8zM199.0 175.6h.8v.8h-.8zM202.8 174.4h.8v.8h-.8zM221.4 187.3h.8v.8h-.8zM191.8 187.0h.8v.8h-.8zM189.9 186.5h.8v.8h-.8zM201.9 174.3h.8v.8h-.8zM225.0 171.8h.8v.8h-.8zM215.5 173.5h.8v.8h-.8zM233.6 174.6h.8v.8h-.8zM222.5 186.2h.8v.8h-.8zM178.7 178.8h.8v.8h-.8zM180.0 178.6h.8v.8h-.8zM206.2 188.2h.8v.8h-.8zM196.7 174.6h.8v.8h-.8zM227.4 184.6h.8v.8h-.8zM216.3 188.6h.8v.8h-.8zM205.2 188.5h.8v.8h-.8zM210.3 187.4h.8v.8h-.8zM205.0 188.5h.8v.8h-.8zM213.5 173.0h.8v.8h-.8zM186.4 186.2h.8v.8h-.8zM180.8 177.7h.8v.8h-.8zM203.0 187.7h.8v.8h-.8zM179.9 177.3h.8v.8h-.8zM224.1 187.0h.8v.8h-.8zM228.0 183.5h.8v.8h-.8zM180.4 183.8h.8v.8h-.8zM194.6 187.4h.8v.8h-.8zM182.3 186.3h.8v.8h-.8zM224.8 186.2h.8v.8h-.8zM207.2 187.5h.8v.8h-.8zM216.2 173.3h.8v.8h-.8zM233.0 177.7h.8v.8h-.8zM179.9 182.0h.8v.8h-.8zM227.8 184.5h.8v.8h-.8zM207.8 188.4h.8v.8h-.8zM232.7 174.8h.8v.8h-.8zM191.8 174.4h.8v.8h-.8zM207.7 188.5h.8v.8h-.8zM207.7 174.0h.8v.8h-.8zM233.3 173.0h.8v.8h-.8zM234.3 174.4h.8v.8h-.8zM190.5 175.1h.8v.8h-.8zM201.6 188.0h.8v.8h-.8zM182.4 176.1h.8v.8h-.8zM206.7 188.1h.8v.8h-.8zM179.8 180.4h.8v.8h-.8zM216.7 188.2h.8v.8h-.8zM226.6 170.7h.8v.8h-.8zM216.7 171.8h.8v.8h-.8zM209.6 188.0h.8v.8h-.8zM232.9 180.1h.8v.8h-.8zM217.8 172.7h.8v.8h-.8zM234.7 178.5h.8v.8h-.8zM219.1 172.8h.8v.8h-.8zM205.7 175.4h.8v.8h-.8zM234.0 174.7h.8v.8h-.8zM190.2 187.0h.8v.8h-.8zM195.2 186.8h.8v.8h-.8zM215.8 187.1h.8v.8h-.8zM220.2 172.3h.8v.8h-.8zM191.8 187.6h.8v.8h-.8zM225.2 185.6h.8v.8h-.8zM221.1 171.4h.8v.8h-.8zM214.9 187.7h.8v.8h-.8zM228.7 182.4h.8v.8h-.8zM186.7 185.6h.8v.8h-.8zM192.6 173.9h.8v.8h-.8zM207.5 188.0h.8v.8h-.8zM232.2 172.8h.8v.8h-.8zM221.4 187.1h.8v.8h-.8zM191.9 186.7h.8v.8h-.8zM199.3 187.8h.8v.8h-.8zM182.1 177.5h.8v.8h-.8zM213.6 172.9h.8v.8h-.8zM227.8 183.7h.8v.8h-.8zM207.7 173.8h.8v.8h-.8zM232.8 181.6h.8v.8h-.8zM227.6 171.1h.8v.8h-.8zM212.4 173.0h.8v.8h-.8zM222.1 172.0h.8v.8h-.8zM231.8 173.2h.8v.8h-.8zM191.1 186.5h.8v.8h-.8zM233.8 175.9h.8v.8h-.8zM184.7 185.5h.8v.8h-.8zM200.4 175.4h.8v.8h-.8zM203.0 187.3h.8v.8h-.8zM190.2 174.7h.8v.8h-.8zM188.7 186.4h.8v.8h-.8zM210.8 173.3h.8v.8h-.8zM192.9 174.6h.8v.8h-.8zM211.1 173.5h.8v.8h-.8zM188.8 173.5h.8v.8h-.8zM217.4 188.8h.8v.8h-.8zM199.1 174.4h.8v.8h-.8zM221.0 171.8h.8v.8h-.8zM205.1 188.1h.8v.8h-.8zM178.7 179.9h.8v.8h-.8zM208.4 173.5h.8v.8h-.8zM199.3 188.1h.8v.8h-.8zM189.2 186.3h.8v.8h-.8zM185.4 175.4h.8v.8h-.8zM194.0 187.6h.8v.8h-.8zM197.4 174.4h.8v.8h-.8zM188.5 187.2h.8v.8h-.8zM225.1 171.2h.8v.8h-.8zM198.7 187.1h.8v.8h-.8zM228.5 183.4h.8v.8h-.8zM204.2 174.7h.8v.8h-.8zM216.0 188.4h.8v.8h-.8zM181.4 185.0h.8v.8h-.8zM221.4 186.7h.8v.8h-.8zM180.8 184.1h.8v.8h-.8zM220.4 187.5h.8v.8h-.8zM211.7 173.4h.8v.8h-.8zM227.0 184.8h.8v.8h-.8zM187.8 175.2h.8v.8h-.8zM198.8 188.7h.8v.8h-.8zM205.1 174.7h.8v.8h-.8zM198.1 187.7h.8v.8h-.8zM194.5 186.5h.8v.8h-.8zM224.9 171.3h.8v.8h-.8zM224.1 186.1h.8v.8h-.8zM228.0 171.7h.8v.8h-.8zM222.1 170.9h.8v.8h-.8zM190.8 174.0h.8v.8h-.8zM181.1 183.7h.8v.8h-.8zM232.7 173.7h.8v.8h-.8zM203.8 174.4h.8v.8h-.8zM190.7 186.7h.8v.8h-.8zM202.7 174.4h.8v.8h-.8zM233.2 174.0h.8v.8h-.8zM203.5 188.6h.8v.8h-.8zM189.8 187.2h.8v.8h-.8zM185.6 175.2h.8v.8h-.8zM182.8 185.1h.8v.8h-.8zM180.1 183.3h.8v.8h-.8zM206.8 187.8h.8v.8h-.8zM198.2 187.1h.8v.8h-.8zM210.4 173.0h.8v.8h-.8zM211.8 188.6h.8v.8h-.8zM207.1 187.4h.8v.8h-.8zM189.9 185.9h.8v.8h-.8zM207.7 174.3h.8v.8h-.8zM205.7 188.3h.8v.8h-.8zM189.1 175.0h.8v.8h-.8zM229.0 183.3h.8v.8h-.8zM228.9 183.3h.8v.8h-.8zM185.3 186.7h.8v.8h-.8zM195.5 186.7h.8v.8h-.8zM222.6 185.5h.8v.8h-.8zM193.7 187.3h.8v.8h-.8zM231.5 181.3h.8v.8h-.8zM196.2 174.8h.8v.8h-.8zM194.1 175.2h.8v.8h-.8zM199.7 188.0h.8v.8h-.8zM233.5 179.2h.8v.8h-.8zM204.2 188.6h.8v.8h-.8zM216.5 188.5h.8v.8h-.8zM227.5 171.9h.8v.8h-.8zM220.1 171.6h.8v.8h-.8zM206.8 187.3h.8v.8h-.8zM218.8 172.1h.8v.8h-.8zM186.0 175.6h.8v.8h-.8zM192.5 174.2h.8v.8h-.8zM224.1 171.2h.8v.8h-.8zM205.2 187.9h.8v.8h-.8zM209.4 173.4h.8v.8h-.8zM208.1 174.1h.8v.8h-.8zM200.8 187.5h.8v.8h-.8zM192.4 174.8h.8v.8h-.8zM210.6 174.1h.8v.8h-.8zM189.4 174.5h.8v.8h-.8zM209.6 174.7h.8v.8h-.8zM192.3 175.0h.8v.8h-.8zM217.6 189.1h.8v.8h-.8zM215.0 187.8h.8v.8h-.8zM208.9 188.3h.8v.8h-.8zM186.3 185.6h.8v.8h-.8zM180.2 179.3h.8v.8h-.8zM194.7 174.6h.8v.8h-.8zM198.7 174.8h.8v.8h-.8zM208.9 174.5h.8v.8h-.8zM188.8 175.7h.8v.8h-.8zM185.6 186.0h.8v.8h-.8zM194.5 187.1h.8v.8h-.8zM197.3 187.4h.8v.8h-.8zM193.0 186.5h.8v.8h-.8zM196.5 174.6h.8v.8h-.8z"/>
<path fill="#222" fill-opacity="0.45" d="M224.4 187.0h.8v.8h-.8zM211.5 171.7h.8v.8h-.8zM212.0 190.3h.8v.8h-.8zM191.8 188.4h.8v.8h-.8zM191.0 172.7h.8v.8h-.8zM185.2 173.6h.8v.8h-.8zM207.7 189.2h.8v.8h-.8zM223.4 170.9h.8v.8h-.8zM216.8 170.3h.8v.8h-.8zM205.9 189.6h.8v.8h-.8zM188.8 187.6h.8v.8h-.8zM203.2 189.9h.8v.8h-.8zM185.3 187.1h.8v.8h-.8zM223.3 170.6h.8v.8h-.8zM211.5 189.7h.8v.8h-.8zM186.8 173.3h.8v.8h-.8zM205.4 189.8h.8v.8h-.8zM202.4 190.3h.8v.8h-.8zM226.5 170.0h.8v.8h-.8zM209.5 172.4h.8v.8h-.8zM184.6 174.0h.8v.8h-.8zM199.4 173.3h.8v.8h-.8zM209.4 173.1h.8v.8h-.8zM180.1 176.4h.8v.8h-.8zM195.0 189.5h.8v.8h-.8zM229.7 170.2h.8v.8h-.8zM207.3 190.0h.8v.8h-.8zM189.0 188.2h.8v.8h-.8zM191.2 172.6h.8v.8h-.8zM196.7 189.9h.8v.8h-.8zM225.8 186.9h.8v.8h-.8zM180.4 176.3h.8v.8h-.8zM198.1 173.8h.8v.8h-.8zM208.8 172.1h.8v.8h-.8zM179.9 176.6h.8v.8h-.8zM214.4 190.5h.8v.8h-.8zM221.3 170.4h.8v.8h-.8zM188.8 172.7h.8v.8h-.8zM191.0 173.6h.8v.8h-.8zM182.6 186.8h.8v.8h-.8zM202.5 173.8h.8v.8h-.8zM222.8 188.1h.8v.8h-.8zM204.5 173.6h.8v.8h-.8zM233.3 171.6h.8v.8h-.8zM200.7 172.8h.8v.8h-.8zM185.4 174.0h.8v.8h-.8zM190.3 173.2h.8v.8h-.8zM235.1 172.6h.8v.8h-.8zM184.8 173.9h.8v.8h-.8zM225.2 186.9h.8v.8h-.8zM199.1 173.1h.8v.8h-.8zM231.3 170.8h.8v.8h-.8zM211.8 189.3h.8v.8h-.8zM194.6 172.1h.8v.8h-.8zM230.6 171.3h.8v.8h-.8zM198.9 173.5h.8v.8h-.8zM215.0 171.4h.8v.8h-.8zM217.0 171.6h.8v.8h-.8zM187.8 188.5h.8v.8h-.8zM180.7 176.4h.8v.8h-.8zM194.2 172.7h.8v.8h-.8zM219.7 171.0h.8v.8h-.8zM189.4 172.4h.8v.8h-.8zM198.4 173.0h.8v.8h-.8zM212.7 171.7h.8v.8h-.8zM180.5 175.7h.8v.8h-.8zM212.5 171.6h.8v.8h-.8zM227.9 185.6h.8v.8h-.8zM216.6 170.9h.8v.8h-.8zM233.4 171.9h.8v.8h-.8zM201.0 173.4h.8v.8h-.8zM222.5 188.8h.8v.8h-.8zM198.0 188.4h.8v.8h-.8zM204.8 172.9h.8v.8h-.8zM185.4 173.1h.8v.8h-.8zM235.3 176.9h.8v.8h-.8zM202.6 172.4h.8v.8h-.8zM210.5 190.0h.8v.8h-.8zM230.7 184.5h.8v.8h-.8zM212.3 171.1h.8v.8h-.8zM183.2 174.1h.8v.8h-.8zM180.1 176.3h.8v.8h-.8zM203.5 173.2h.8v.8h-.8zM202.9 172.8h.8v.8h-.8zM204.3 189.5h.8v.8h-.8zM222.1 187.9h.8v.8h-.8zM186.1 173.4h.8v.8h-.8zM209.0 173.0h.8v.8h-.8zM224.7 170.3h.8v.8h-.8zM182.6 174.2h.8v.8h-.8zM231.4 170.4h.8v.8h-.8zM216.7 189.1h.8v.8h-.8zM222.6 170.7h.8v.8h-.8zM190.1 188.3h.8v.8h-.8zM178.9 177.5h.8v.8h-.8zM216.2 170.6h.8v.8h-.8zM188.5 174.2h.8v.8h-.8zM208.2 172.7h.8v.8h-.8zM216.8 171.9h.8v.8h-.8zM218.4 170.0h.8v.8h-.8zM220.3 170.6h.8v.8h-.8zM189.4 174.2h.8v.8h-.8zM231.0 184.1h.8v.8h-.8zM231.7 170.9h.8v.8h-.8zM187.2 187.8h.8v.8h-.8zM213.9 170.8h.8v.8h-.8z"/>
<path fill="#222" fill-opacity="0.35" d="M193.7 172.4h.8v.8h-.8zM235.7 170.3h.8v.8h-.8zM209.1 170.0h.8v.8h-.8zM203.9 170.6h.8v.8h-.8zM197.1 191.5h.8v.8h-.8zM228.9 166.6h.8v.8h-.8zM214.8 168.9h.8v.8h-.8zM190.9 169.8h.8v.8h-.8zM192.9 171.2h.8v.8h-.8zM190.4 170.0h.8v.8h-.8zM214.2 167.4h.8v.8h-.8zM222.6 191.1h.8v.8h-.8zM195.8 190.6h.8v.8h-.8zM225.6 166.4h.8v.8h-.8zM204.5 190.9h.8v.8h-.8zM192.6 172.6h.8v.8h-.8zM176.9 175.8h.8v.8h-.8zM177.2 186.0h.8v.8h-.8zM224.9 188.0h.8v.8h-.8zM201.4 170.5h.8v.8h-.8zM215.1 170.1h.8v.8h-.8zM183.7 171.3h.8v.8h-.8zM201.4 170.5h.8v.8h-.8zM212.9 169.2h.8v.8h-.8zM176.1 178.5h.8v.8h-.8zM214.2 168.9h.8v.8h-.8zM185.0 170.5h.8v.8h-.8zM231.2 168.9h.8v.8h-.8zM230.0 186.8h.8v.8h-.8zM229.0 166.4h.8v.8h-.8zM218.3 169.7h.8v.8h-.8zM177.5 183.7h.8v.8h-.8zM199.9 171.7h.8v.8h-.8zM205.2 190.8h.8v.8h-.8zM186.2 188.6h.8v.8h-.8zM184.0 172.6h.8v.8h-.8zM218.1 169.4h.8v.8h-.8zM189.6 169.4h.8v.8h-.8zM214.1 170.7h.8v.8h-.8zM189.3 189.2h.8v.8h-.8zM223.0 168.0h.8v.8h-.8zM187.3 171.4h.8v.8h-.8zM192.8 171.2h.8v.8h-.8zM203.3 170.6h.8v.8h-.8zM190.3 169.6h.8v.8h-.8zM193.1 170.3h.8v.8h-.8zM185.4 170.1h.8v.8h-.8zM212.9 170.5h.8v.8h-.8zM207.2 169.0h.8v.8h-.8zM187.1 171.4h.8v.8h-.8zM210.0 190.9h.8v.8h-.8zM194.6 172.3h.8v.8h-.8zM208.3 171.1h.8v.8h-.8zM235.2 172.6h.8v.8h-.8zM199.3 169.2h.8v.8h-.8zM194.9 170.1h.8v.8h-.8zM220.1 190.0h.8v.8h-.8zM188.0 172.5h.8v.8h-.8zM231.4 174.2h.8v.8h-.8zM214.9 180.9h.8v.8h-.8zM219.1 173.7h.8v.8h-.8zM235.0 177.9h.8v.8h-.8zM185.1 176.6h.8v.8h-.8zM232.1 171.2h.8v.8h-.8zM231.6 182.0h.8v.8h-.8zM177.9 182.2h.8v.8h-.8zM223.3 174.9h.8v.8h-.8zM180.6 173.2h.8v.8h-.8zM213.1 176.1h.8v.8h-.8zM222.4 180.9h.8v.8h-.8zM218.5 187.3h.8v.8h-.8zM208.5 175.3h.8v.8h-.8zM221.6 169.1h.8v.8h-.8zM214.2 181.5h.8v.8h-.8zM203.1 185.5h.8v.8h-.8zM185.9 177.6h.8v.8h-.8zM226.6 168.2h.8v.8h-.8zM221.3 177.7h.8v.8h-.8zM177.9 179.8h.8v.8h-.8zM204.4 191.0h.8v.8h-.8zM216.5 189.1h.8v.8h-.8zM222.6 174.4h.8v.8h-.8zM182.6 185.3h.8v.8h-.8zM201.5 177.5h.8v.8h-.8zM224.7 174.5h.8v.8h-.8zM182.8 176.8h.8v.8h-.8zM199.7 173.0h.8v.8h-.8zM222.4 185.8h.8v.8h-.8zM229.5 170.6h.8v.8h-.8zM218.6 184.0h.8v.8h-.8zM221.3 172.9h.8v.8h-.8zM181.3 184.2h.8v.8h-.8zM196.8 175.5h.8v.8h-.8zM181.3 182.9h.8v.8h-.8zM204.2 184.8h.8v.8h-.8zM221.8 184.4h.8v.8h-.8zM185.4 183.7h.8v.8h-.8zM222.0 186.1h.8v.8h-.8zM179.8 181.4h.8v.8h-.8zM195.8 178.9h.8v.8h-.8zM232.7 176.4h.8v.8h-.8zM221.9 185.1h.8v.8h-.8zM213.2 183.9h.8v.8h-.8zM195.0 171.2h.8v.8h-.8zM193.5 177.0h.8v.8h-.8zM203.1 176.4h.8v.8h-.8zM189.6 186.1h.8v.8h-.8zM193.0 178.1h.8v.8h-.8zM185.3 176.1h.8v.8h-.8zM220.6 185.2h.8v.8h-.8zM222.6 175.9h.8v.8h-.8zM229.4 174.5h.8v.8h-.8zM230.9 177.7h.8v.8h-.8zM220.7 179.1h.8v.8h-.8zM232.7 182.5h.8v.8h-.8zM189.3 184.1h.8v.8h-.8zM229.3 174.3h.8v.8h-.8zM186.9 188.5h.8v.8h-.8zM233.8 184.2h.8v.8h-.8zM193.0 175.2h.8v.8h-.8zM233.2 168.1h.8v.8h-.8zM199.7 175.5h.8v.8h-.8zM205.1 181.9h.8v.8h-.8zM232.7 175.0h.8v.8h-.8zM203.4 181.9h.8v.8h-.8zM229.0 182.4h.8v.8h-.8zM185.9 187.8h.8v.8h-.8zM231.9 173.7h.8v.8h-.8zM226.4 177.9h.8v.8h-.8zM239.3 176.5h.8v.8h-.8zM189.7 191.2h.8v.8h-.8zM204.0 176.5h.8v.8h-.8zM183.1 178.9h.8v.8h-.8zM205.3 184.3h.8v.8h-.8zM232.0 177.0h.8v.8h-.8zM187.8 188.0h.8v.8h-.8zM233.2 187.0h.8v.8h-.8zM238.9 174.3h.8v.8h-.8zM233.2 177.4h.8v.8h-.8zM231.5 179.9h.8v.8h-.8zM234.7 177.7h.8v.8h-.8zM234.3 177.2h.8v.8h-.8zM231.6 182.3h.8v.8h-.8zM241.8 183.1h.8v.8h-.8zM235.5 178.1h.8v.8h-.8zM230.4 174.0h.8v.8h-.8zM238.6 174.5h.8v.8h-.8zM241.9 177.8h.8v.8h-.8zM232.4 176.7h.8v.8h-.8zM231.3 179.4h.8v.8h-.8zM233.3 180.8h.8v.8h-.8zM237.5 180.4h.8v.8h-.8zM232.4 179.9h.8v.8h-.8zM239.9 179.4h.8v.8h-.8zM240.2 187.8h.8v.8h-.8zM230.8 189.1h.8v.8h-.8zM243.3 172.2h.8v.8h-.8zM236.9 181.0h.8v.8h-.8zM246.8 172.8h.8v.8h-.8zM231.3 180.0h.8v.8h-.8zM231.3 177.2h.8v.8h-.8zM230.3 180.7h.8v.8h-.8zM230.5 178.2h.8v.8h-.8zM240.7 178.2h.8v.8h-.8zM241.8 179.0h.8v.8h-.8zM239.6 182.3h.8v.8h-.8zM236.0 183.6h.8v.8h-.8zM232.3 179.4h.8v.8h-.8zM231.0 181.5h.8v.8h-.8zM234.9 182.7h.8v.8h-.8zM234.3 184.0h.8v.8h-.8zM230.8 181.0h.8v.8h-.8zM230.3 182.6h.8v.8h-.8zM231.2 179.7h.8v.8h-.8zM232.6 183.0h.8v.8h-.8zM234.0 184.3h.8v.8h-.8zM230.7 179.3h.8v.8h-.8zM247.2 182.1h.8v.8h-.8zM230.9 177.3h.8v.8h-.8zM231.3 178.4h.8v.8h-.8zM238.4 181.9h.8v.8h-.8z"/>
<path d="M180.90,180.60 C181.10,179.42 182.75,177.62 184.60,176.90 C186.45,176.18 189.33,176.40 192.00,176.30 C194.67,176.20 197.93,176.40 200.60,176.30 C203.27,176.20 205.33,176.07 208.00,175.70 C210.67,175.33 213.73,174.52 216.60,174.10 C219.47,173.68 222.93,173.28 225.20,173.20 C227.47,173.12 229.03,173.08 230.20,173.60 C231.37,174.12 232.20,175.23 232.20,176.30 C232.20,177.37 231.37,178.77 230.20,180.00 C229.03,181.23 227.27,182.67 225.20,183.70 C223.13,184.73 220.25,185.68 217.80,186.20 C215.35,186.72 213.37,186.80 210.50,186.80 C207.63,186.80 203.88,186.47 200.60,186.20 C197.32,185.93 193.67,185.57 190.80,185.20 C187.93,184.83 185.05,184.77 183.40,184.00 C181.75,183.23 180.70,181.78 180.90,180.60 Z" fill="#cacaca"/>
<path d="M180.90,180.60 C181.10,179.42 182.75,177.62 184.60,176.90 C186.45,176.18 189.33,176.40 192.00,176.30 C194.67,176.20 197.93,176.40 200.60,176.30 C203.27,176.20 205.33,176.07 208.00,175.70 C210.67,175.33 213.73,174.52 216.60,174.10 C219.47,173.68 222.93,173.28 225.20,173.20 C227.47,173.12 229.03,173.08 230.20,173.60 C231.37,174.12 232.20,175.23 232.20,176.30 C232.20,177.37 231.37,178.77 230.20,180.00 C229.03,181.23 227.27,182.67 225.20,183.70 C223.13,184.73 220.25,185.68 217.80,186.20 C215.35,186.72 213.37,186.80 210.50,186.80 C207.63,186.80 203.88,186.47 200.60,186.20 C197.32,185.93 193.67,185.57 190.80,185.20 C187.93,184.83 185.05,184.77 183.40,184.00 C181.75,183.23 180.70,181.78 180.90,180.60 Z" fill="none" stroke="#1c1c1c" stroke-width="1.5" stroke-linejoin="round" filter="url(#bl)"/>
<path d="M184.01,180.58 C184.19,179.61 185.68,178.14 187.34,177.55 C189.00,176.96 191.60,177.14 194.00,177.06 C196.40,176.97 199.34,177.14 201.74,177.06 C204.14,176.97 206.00,176.86 208.40,176.56 C210.80,176.26 213.56,175.59 216.14,175.25 C218.72,174.91 221.84,174.58 223.88,174.51 C225.92,174.45 227.33,174.42 228.38,174.84 C229.43,175.27 230.18,176.18 230.18,177.06 C230.18,177.93 229.43,179.08 228.38,180.09 C227.33,181.10 225.74,182.28 223.88,183.12 C222.02,183.97 219.43,184.75 217.22,185.17 C215.01,185.60 213.23,185.67 210.65,185.67 C208.07,185.67 204.69,185.39 201.74,185.17 C198.79,184.96 195.50,184.65 192.92,184.35 C190.34,184.05 187.75,184.00 186.26,183.37 C184.77,182.74 183.83,181.55 184.01,180.58 Z" fill="#cfcfcf" stroke="#5a5a5a" stroke-width="0.7"/>
<path d="M190.49,180.86 C190.63,180.11 191.85,178.95 193.22,178.50 C194.59,178.04 196.73,178.18 198.70,178.11 C200.67,178.05 203.09,178.18 205.06,178.11 C207.04,178.05 208.57,177.96 210.54,177.73 C212.51,177.49 214.78,176.97 216.90,176.70 C219.03,176.44 221.59,176.18 223.27,176.13 C224.95,176.07 226.10,176.05 226.97,176.38 C227.83,176.71 228.45,177.43 228.45,178.11 C228.45,178.79 227.83,179.69 226.97,180.48 C226.10,181.27 224.80,182.19 223.27,182.85 C221.74,183.51 219.61,184.12 217.79,184.45 C215.98,184.78 214.51,184.83 212.39,184.83 C210.27,184.83 207.49,184.62 205.06,184.45 C202.63,184.28 199.93,184.04 197.81,183.81 C195.69,183.57 193.56,183.53 192.34,183.04 C191.12,182.55 190.34,181.62 190.49,180.86 Z" fill="#c8c8c8" stroke="#6a6a6a" stroke-width="0.6"/>
<path d="M197.90,181.34 C198.00,180.82 198.91,180.03 199.93,179.72 C200.95,179.40 202.53,179.50 204.00,179.45 C205.47,179.41 207.26,179.50 208.73,179.45 C210.20,179.41 211.33,179.35 212.80,179.19 C214.27,179.03 215.95,178.67 217.53,178.48 C219.11,178.30 221.01,178.12 222.26,178.09 C223.51,178.05 224.37,178.04 225.01,178.26 C225.65,178.49 226.11,178.98 226.11,179.45 C226.11,179.92 225.65,180.54 225.01,181.08 C224.37,181.62 223.40,182.25 222.26,182.71 C221.12,183.16 219.54,183.58 218.19,183.81 C216.84,184.04 215.75,184.07 214.18,184.07 C212.60,184.07 210.54,183.93 208.73,183.81 C206.92,183.69 204.92,183.53 203.34,183.37 C201.76,183.21 200.18,183.18 199.27,182.84 C198.36,182.50 197.79,181.86 197.90,181.34 Z" fill="#d6d6d6" stroke="#7a7a7a" stroke-width="0.6"/>
<path d="M202.80,182.72 C202.88,182.46 203.47,182.07 204.14,181.91 C204.80,181.75 205.84,181.80 206.80,181.78 C207.76,181.75 208.94,181.80 209.90,181.78 C210.86,181.75 211.60,181.72 212.56,181.64 C213.52,181.56 214.62,181.38 215.66,181.29 C216.69,181.20 217.94,181.11 218.75,181.09 C219.57,181.08 220.13,181.07 220.55,181.18 C220.97,181.30 221.27,181.54 221.27,181.78 C221.27,182.01 220.97,182.32 220.55,182.59 C220.13,182.86 219.50,183.18 218.75,183.40 C218.01,183.63 216.97,183.84 216.09,183.95 C215.21,184.07 214.49,184.09 213.46,184.09 C212.43,184.09 211.08,184.01 209.90,183.95 C208.71,183.90 207.40,183.81 206.37,183.73 C205.34,183.65 204.30,183.64 203.70,183.47 C203.11,183.30 202.73,182.98 202.80,182.72 Z" fill="#ececec" stroke="#9a9a9a" stroke-width="0.5"/>
<ellipse cx="218" cy="180.3" rx="5" ry="2.6" fill="#8a8a8a" filter="url(#bl)" opacity="0.8"/>
<rect x="197.00" y="154.30" width="58.10" height="44.10" fill="none" stroke="#e3c28c" stroke-width="1.0"/>
<rect x="171.90" y="144.50" width="87.00" height="86.80" fill="none" stroke="#1a1a1a" stroke-width="1.35"/>
<line x1="168.50" y1="153.50" x2="171.90" y2="153.50" stroke="#111" stroke-width="1.1"/>
<line x1="168.50" y1="173.40" x2="171.90" y2="173.40" stroke="#111" stroke-width="1.1"/>
<line x1="168.50" y1="197.20" x2="171.90" y2="197.20" stroke="#111" stroke-width="1.1"/>
<line x1="168.50" y1="211.60" x2="171.90" y2="211.60" stroke="#111" stroke-width="1.1"/>
<line x1="168.50" y1="225.50" x2="171.90" y2="225.50" stroke="#111" stroke-width="1.1"/>
<line x1="169.90" y1="167.41" x2="171.90" y2="167.41" stroke="#222" stroke-width="0.75"/>
<line x1="169.90" y1="163.91" x2="171.90" y2="163.91" stroke="#222" stroke-width="0.75"/>
<line x1="169.90" y1="161.42" x2="171.90" y2="161.42" stroke="#222" stroke-width="0.75"/>
<line x1="169.90" y1="159.49" x2="171.90" y2="159.49" stroke="#222" stroke-width="0.75"/>
<line x1="169.90" y1="157.91" x2="171.90" y2="157.91" stroke="#222" stroke-width="0.75"/>
<line x1="169.90" y1="156.58" x2="171.90" y2="156.58" stroke="#222" stroke-width="0.75"/>
<line x1="169.90" y1="155.43" x2="171.90" y2="155.43" stroke="#222" stroke-width="0.75"/>
<line x1="169.90" y1="154.41" x2="171.90" y2="154.41" stroke="#222" stroke-width="0.75"/>
<line x1="169.90" y1="190.04" x2="171.90" y2="190.04" stroke="#222" stroke-width="0.75"/>
<line x1="169.90" y1="185.84" x2="171.90" y2="185.84" stroke="#222" stroke-width="0.75"/>
<line x1="169.90" y1="182.87" x2="171.90" y2="182.87" stroke="#222" stroke-width="0.75"/>
<line x1="169.90" y1="180.56" x2="171.90" y2="180.56" stroke="#222" stroke-width="0.75"/>
<line x1="169.90" y1="178.68" x2="171.90" y2="178.68" stroke="#222" stroke-width="0.75"/>
<line x1="169.90" y1="177.09" x2="171.90" y2="177.09" stroke="#222" stroke-width="0.75"/>
<line x1="169.90" y1="175.71" x2="171.90" y2="175.71" stroke="#222" stroke-width="0.75"/>
<line x1="169.90" y1="174.49" x2="171.90" y2="174.49" stroke="#222" stroke-width="0.75"/>
<line x1="169.90" y1="146.00" x2="171.90" y2="146.00" stroke="#222" stroke-width="0.75"/>
<line x1="169.90" y1="148.50" x2="171.90" y2="148.50" stroke="#222" stroke-width="0.75"/>
<line x1="169.90" y1="151.00" x2="171.90" y2="151.00" stroke="#222" stroke-width="0.75"/>
<line x1="169.90" y1="199.00" x2="171.90" y2="199.00" stroke="#222" stroke-width="0.75"/>
<line x1="169.90" y1="201.00" x2="171.90" y2="201.00" stroke="#222" stroke-width="0.75"/>
<line x1="169.90" y1="203.00" x2="171.90" y2="203.00" stroke="#222" stroke-width="0.75"/>
<line x1="169.90" y1="205.00" x2="171.90" y2="205.00" stroke="#222" stroke-width="0.75"/>
<line x1="169.90" y1="207.00" x2="171.90" y2="207.00" stroke="#222" stroke-width="0.75"/>
<line x1="169.90" y1="208.50" x2="171.90" y2="208.50" stroke="#222" stroke-width="0.75"/>
<line x1="169.90" y1="210.00" x2="171.90" y2="210.00" stroke="#222" stroke-width="0.75"/>
<line x1="169.90" y1="210.80" x2="171.90" y2="210.80" stroke="#222" stroke-width="0.75"/>
<line x1="169.90" y1="212.50" x2="171.90" y2="212.50" stroke="#222" stroke-width="0.75"/>
<line x1="169.90" y1="213.50" x2="171.90" y2="213.50" stroke="#222" stroke-width="0.75"/>
<line x1="169.90" y1="215.00" x2="171.90" y2="215.00" stroke="#222" stroke-width="0.75"/>
<line x1="169.90" y1="217.00" x2="171.90" y2="217.00" stroke="#222" stroke-width="0.75"/>
<line x1="169.90" y1="219.00" x2="171.90" y2="219.00" stroke="#222" stroke-width="0.75"/>
<line x1="169.90" y1="221.00" x2="171.90" y2="221.00" stroke="#222" stroke-width="0.75"/>
<line x1="169.90" y1="223.00" x2="171.90" y2="223.00" stroke="#222" stroke-width="0.75"/>
<line x1="169.90" y1="227.50" x2="171.90" y2="227.50" stroke="#222" stroke-width="0.75"/>
<line x1="169.90" y1="229.50" x2="171.90" y2="229.50" stroke="#222" stroke-width="0.75"/>
<line x1="182.00" y1="231.30" x2="182.00" y2="234.30" stroke="#111" stroke-width="1.1"/>
<line x1="214.70" y1="231.30" x2="214.70" y2="234.30" stroke="#111" stroke-width="1.1"/>
<line x1="236.00" y1="231.30" x2="236.00" y2="234.30" stroke="#111" stroke-width="1.1"/>
<line x1="258.10" y1="231.30" x2="258.10" y2="234.30" stroke="#111" stroke-width="1.1"/>
<line x1="221.11" y1="231.30" x2="221.11" y2="233.50" stroke="#222" stroke-width="0.75"/>
<line x1="224.86" y1="231.30" x2="224.86" y2="233.50" stroke="#222" stroke-width="0.75"/>
<line x1="227.52" y1="231.30" x2="227.52" y2="233.50" stroke="#222" stroke-width="0.75"/>
<line x1="229.59" y1="231.30" x2="229.59" y2="233.50" stroke="#222" stroke-width="0.75"/>
<line x1="231.27" y1="231.30" x2="231.27" y2="233.50" stroke="#222" stroke-width="0.75"/>
<line x1="232.70" y1="231.30" x2="232.70" y2="233.50" stroke="#222" stroke-width="0.75"/>
<line x1="233.94" y1="231.30" x2="233.94" y2="233.50" stroke="#222" stroke-width="0.75"/>
<line x1="235.03" y1="231.30" x2="235.03" y2="233.50" stroke="#222" stroke-width="0.75"/>
<line x1="242.65" y1="231.30" x2="242.65" y2="233.50" stroke="#222" stroke-width="0.75"/>
<line x1="246.54" y1="231.30" x2="246.54" y2="233.50" stroke="#222" stroke-width="0.75"/>
<line x1="249.31" y1="231.30" x2="249.31" y2="233.50" stroke="#222" stroke-width="0.75"/>
<line x1="251.45" y1="231.30" x2="251.45" y2="233.50" stroke="#222" stroke-width="0.75"/>
<line x1="253.20" y1="231.30" x2="253.20" y2="233.50" stroke="#222" stroke-width="0.75"/>
<line x1="254.68" y1="231.30" x2="254.68" y2="233.50" stroke="#222" stroke-width="0.75"/>
<line x1="255.96" y1="231.30" x2="255.96" y2="233.50" stroke="#222" stroke-width="0.75"/>
<line x1="257.09" y1="231.30" x2="257.09" y2="233.50" stroke="#222" stroke-width="0.75"/>
<line x1="191.84" y1="231.30" x2="191.84" y2="233.50" stroke="#222" stroke-width="0.75"/>
<line x1="179.05" y1="231.30" x2="179.05" y2="233.50" stroke="#222" stroke-width="0.75"/>
<line x1="197.60" y1="231.30" x2="197.60" y2="233.50" stroke="#222" stroke-width="0.75"/>
<line x1="177.32" y1="231.30" x2="177.32" y2="233.50" stroke="#222" stroke-width="0.75"/>
<line x1="201.69" y1="231.30" x2="201.69" y2="233.50" stroke="#222" stroke-width="0.75"/>
<line x1="176.09" y1="231.30" x2="176.09" y2="233.50" stroke="#222" stroke-width="0.75"/>
<line x1="204.86" y1="231.30" x2="204.86" y2="233.50" stroke="#222" stroke-width="0.75"/>
<line x1="175.14" y1="231.30" x2="175.14" y2="233.50" stroke="#222" stroke-width="0.75"/>
<line x1="207.45" y1="231.30" x2="207.45" y2="233.50" stroke="#222" stroke-width="0.75"/>
<line x1="174.37" y1="231.30" x2="174.37" y2="233.50" stroke="#222" stroke-width="0.75"/>
<line x1="209.63" y1="231.30" x2="209.63" y2="233.50" stroke="#222" stroke-width="0.75"/>
<line x1="173.71" y1="231.30" x2="173.71" y2="233.50" stroke="#222" stroke-width="0.75"/>
<line x1="211.53" y1="231.30" x2="211.53" y2="233.50" stroke="#222" stroke-width="0.75"/>
<line x1="173.14" y1="231.30" x2="173.14" y2="233.50" stroke="#222" stroke-width="0.75"/>
<line x1="213.20" y1="231.30" x2="213.20" y2="233.50" stroke="#222" stroke-width="0.75"/>
<text x="165.00" y="157.10" font-size="8.3" text-anchor="end" fill="#231f20" stroke="#231f20" textLength="12.20" lengthAdjust="spacingAndGlyphs">10<tspan font-size="6.0" dy="-3.0">5</tspan></text>
<text x="165.00" y="177.00" font-size="8.3" text-anchor="end" fill="#231f20" stroke="#231f20" textLength="12.20" lengthAdjust="spacingAndGlyphs">10<tspan font-size="6.0" dy="-3.0">4</tspan></text>
<text x="165.00" y="200.80" font-size="8.3" text-anchor="end" fill="#231f20" stroke="#231f20" textLength="11.60" lengthAdjust="spacingAndGlyphs">10<tspan font-size="6.0" dy="-3.0">3</tspan></text>
<text x="165.00" y="215.20" font-size="8.3" text-anchor="end" fill="#231f20" stroke="#231f20">0</text>
<text x="165.00" y="229.10" font-size="8.3" text-anchor="end" fill="#231f20" stroke="#231f20" textLength="14.00" lengthAdjust="spacingAndGlyphs">-10<tspan font-size="6.0" dy="-3.0">3</tspan></text>
<text x="182.00" y="245.10" font-size="8.3" text-anchor="middle" fill="#231f20" stroke="#231f20">0</text>
<text x="214.70" y="245.10" font-size="8.3" text-anchor="middle" fill="#231f20" stroke="#231f20" textLength="11.20" lengthAdjust="spacingAndGlyphs">10<tspan font-size="6.0" dy="-3.0">3</tspan></text>
<text x="236.00" y="245.10" font-size="8.3" text-anchor="middle" fill="#231f20" stroke="#231f20" textLength="11.20" lengthAdjust="spacingAndGlyphs">10<tspan font-size="6.0" dy="-3.0">4</tspan></text>
<text x="258.10" y="245.10" font-size="8.3" text-anchor="middle" fill="#231f20" stroke="#231f20" textLength="11.20" lengthAdjust="spacingAndGlyphs">10<tspan font-size="6.0" dy="-3.0">5</tspan></text>
<text x="232.60" y="194.80" font-size="8.4" text-anchor="start" fill="#d9a877" stroke="#d9a877" textLength="14.70" lengthAdjust="spacingAndGlyphs">89.9</text>
<path fill="#222" fill-opacity="0.95" d="M58.7 290.4h.8v.8h-.8zM74.1 280.0h.8v.8h-.8zM62.5 280.8h.8v.8h-.8zM74.5 280.8h.8v.8h-.8zM77.2 281.4h.8v.8h-.8zM90.0 293.6h.8v.8h-.8zM77.6 281.5h.8v.8h-.8zM81.9 294.6h.8v.8h-.8zM60.1 282.3h.8v.8h-.8zM66.7 295.7h.8v.8h-.8zM75.8 280.4h.8v.8h-.8zM85.0 294.6h.8v.8h-.8zM71.6 278.3h.8v.8h-.8zM85.9 281.2h.8v.8h-.8zM94.0 282.0h.8v.8h-.8zM97.9 289.1h.8v.8h-.8zM73.6 295.7h.8v.8h-.8zM61.5 292.6h.8v.8h-.8zM84.6 282.1h.8v.8h-.8zM67.3 295.6h.8v.8h-.8zM74.7 295.2h.8v.8h-.8zM61.3 294.1h.8v.8h-.8zM93.5 293.2h.8v.8h-.8zM87.2 294.9h.8v.8h-.8zM60.5 292.8h.8v.8h-.8zM84.0 294.3h.8v.8h-.8zM76.4 294.2h.8v.8h-.8zM74.7 295.8h.8v.8h-.8zM83.8 281.2h.8v.8h-.8zM81.7 294.3h.8v.8h-.8zM82.2 294.9h.8v.8h-.8zM78.5 295.3h.8v.8h-.8zM60.6 293.1h.8v.8h-.8zM58.9 285.2h.8v.8h-.8zM59.5 286.5h.8v.8h-.8zM71.9 294.9h.8v.8h-.8zM73.9 280.1h.8v.8h-.8zM84.2 294.9h.8v.8h-.8zM97.4 290.9h.8v.8h-.8zM78.6 295.8h.8v.8h-.8zM58.2 289.7h.8v.8h-.8zM65.2 278.9h.8v.8h-.8zM85.4 282.0h.8v.8h-.8zM76.1 281.4h.8v.8h-.8zM96.2 284.8h.8v.8h-.8zM61.5 294.1h.8v.8h-.8zM94.3 282.0h.8v.8h-.8zM73.5 294.7h.8v.8h-.8zM93.0 292.8h.8v.8h-.8zM92.4 281.5h.8v.8h-.8zM97.6 288.0h.8v.8h-.8zM73.6 294.7h.8v.8h-.8zM83.4 295.6h.8v.8h-.8zM65.6 294.7h.8v.8h-.8zM88.9 293.9h.8v.8h-.8zM86.2 282.1h.8v.8h-.8zM92.1 292.5h.8v.8h-.8zM92.5 282.7h.8v.8h-.8zM90.8 293.8h.8v.8h-.8zM97.7 289.7h.8v.8h-.8zM84.8 294.3h.8v.8h-.8zM80.6 295.2h.8v.8h-.8zM58.7 291.3h.8v.8h-.8zM97.2 290.1h.8v.8h-.8zM67.5 295.5h.8v.8h-.8zM91.8 281.9h.8v.8h-.8zM65.8 295.4h.8v.8h-.8zM68.2 295.4h.8v.8h-.8zM64.6 294.6h.8v.8h-.8zM82.0 294.1h.8v.8h-.8zM73.0 295.4h.8v.8h-.8zM96.5 291.2h.8v.8h-.8zM73.1 280.3h.8v.8h-.8zM74.5 294.5h.8v.8h-.8zM86.3 293.9h.8v.8h-.8zM67.1 278.7h.8v.8h-.8zM62.4 280.8h.8v.8h-.8zM58.4 290.7h.8v.8h-.8zM62.4 295.3h.8v.8h-.8zM59.9 284.2h.8v.8h-.8zM95.3 283.5h.8v.8h-.8zM87.7 282.4h.8v.8h-.8zM63.0 280.5h.8v.8h-.8zM85.4 294.0h.8v.8h-.8zM95.7 283.5h.8v.8h-.8zM84.7 294.7h.8v.8h-.8zM79.5 281.9h.8v.8h-.8zM95.7 291.1h.8v.8h-.8zM74.1 279.9h.8v.8h-.8zM97.3 287.6h.8v.8h-.8zM70.3 295.3h.8v.8h-.8zM67.9 278.8h.8v.8h-.8zM79.5 281.7h.8v.8h-.8zM72.6 279.7h.8v.8h-.8zM86.2 294.5h.8v.8h-.8zM84.8 294.6h.8v.8h-.8zM96.8 290.5h.8v.8h-.8zM97.2 285.9h.8v.8h-.8zM90.6 283.1h.8v.8h-.8zM74.2 295.4h.8v.8h-.8zM60.1 291.9h.8v.8h-.8zM65.4 295.7h.8v.8h-.8zM77.4 281.8h.8v.8h-.8zM60.2 285.3h.8v.8h-.8zM58.9 288.4h.8v.8h-.8zM79.4 295.2h.8v.8h-.8zM89.1 282.2h.8v.8h-.8zM90.0 294.1h.8v.8h-.8zM75.5 294.7h.8v.8h-.8zM75.6 295.7h.8v.8h-.8zM84.9 294.0h.8v.8h-.8zM65.6 279.0h.8v.8h-.8zM59.0 290.9h.8v.8h-.8zM83.6 281.7h.8v.8h-.8zM82.3 294.9h.8v.8h-.8zM82.5 294.6h.8v.8h-.8zM88.4 293.4h.8v.8h-.8zM76.3 281.8h.8v.8h-.8zM86.4 294.1h.8v.8h-.8zM70.0 279.4h.8v.8h-.8zM64.3 294.5h.8v.8h-.8zM77.0 281.3h.8v.8h-.8zM76.5 295.0h.8v.8h-.8zM84.4 294.5h.8v.8h-.8zM97.6 286.2h.8v.8h-.8zM93.0 293.5h.8v.8h-.8zM62.7 281.4h.8v.8h-.8zM58.9 292.1h.8v.8h-.8zM92.8 293.4h.8v.8h-.8zM82.4 281.4h.8v.8h-.8zM63.7 295.2h.8v.8h-.8zM72.9 294.6h.8v.8h-.8zM88.3 281.8h.8v.8h-.8zM73.3 280.0h.8v.8h-.8zM67.2 279.6h.8v.8h-.8zM73.6 294.9h.8v.8h-.8zM98.1 286.3h.8v.8h-.8zM88.0 293.6h.8v.8h-.8zM84.5 293.9h.8v.8h-.8zM86.3 281.6h.8v.8h-.8zM95.6 291.2h.8v.8h-.8zM80.0 282.0h.8v.8h-.8zM96.8 291.5h.8v.8h-.8zM80.4 281.9h.8v.8h-.8zM62.3 294.7h.8v.8h-.8zM62.6 294.2h.8v.8h-.8zM61.3 293.7h.8v.8h-.8zM96.7 290.3h.8v.8h-.8zM93.0 282.5h.8v.8h-.8zM93.3 293.3h.8v.8h-.8zM74.7 295.2h.8v.8h-.8zM71.4 294.6h.8v.8h-.8zM73.7 295.2h.8v.8h-.8zM67.4 295.2h.8v.8h-.8zM74.9 281.0h.8v.8h-.8zM93.0 282.1h.8v.8h-.8zM84.4 293.9h.8v.8h-.8zM97.7 285.8h.8v.8h-.8zM74.3 295.0h.8v.8h-.8zM60.7 283.2h.8v.8h-.8zM60.2 285.0h.8v.8h-.8zM58.9 290.7h.8v.8h-.8zM71.5 295.3h.8v.8h-.8zM59.8 286.0h.8v.8h-.8zM97.7 289.5h.8v.8h-.8zM58.8 290.5h.8v.8h-.8zM62.8 294.9h.8v.8h-.8zM95.6 291.2h.8v.8h-.8zM74.5 280.9h.8v.8h-.8zM57.5 288.6h.8v.8h-.8zM85.0 282.3h.8v.8h-.8zM71.9 295.0h.8v.8h-.8zM64.5 279.6h.8v.8h-.8zM93.9 283.0h.8v.8h-.8zM90.1 282.5h.8v.8h-.8zM58.5 287.5h.8v.8h-.8zM88.3 293.9h.8v.8h-.8zM70.0 278.7h.8v.8h-.8zM61.9 294.0h.8v.8h-.8zM76.1 280.8h.8v.8h-.8zM98.2 289.0h.8v.8h-.8zM79.3 294.9h.8v.8h-.8zM73.3 295.2h.8v.8h-.8zM74.0 295.7h.8v.8h-.8zM58.2 287.3h.8v.8h-.8zM89.8 293.3h.8v.8h-.8zM60.9 282.5h.8v.8h-.8zM74.6 280.4h.8v.8h-.8zM85.7 281.8h.8v.8h-.8zM86.3 294.6h.8v.8h-.8zM80.4 295.2h.8v.8h-.8zM91.2 282.5h.8v.8h-.8zM60.9 293.5h.8v.8h-.8zM68.8 296.1h.8v.8h-.8zM92.8 292.4h.8v.8h-.8zM98.3 289.9h.8v.8h-.8zM94.5 282.8h.8v.8h-.8zM64.3 294.4h.8v.8h-.8zM79.3 294.9h.8v.8h-.8zM72.9 295.2h.8v.8h-.8zM97.8 287.5h.8v.8h-.8zM60.5 282.9h.8v.8h-.8zM59.3 292.2h.8v.8h-.8zM58.3 291.2h.8v.8h-.8zM65.2 294.3h.8v.8h-.8zM64.6 294.8h.8v.8h-.8zM65.7 294.9h.8v.8h-.8zM72.3 279.7h.8v.8h-.8zM73.0 296.1h.8v.8h-.8zM59.1 284.4h.8v.8h-.8zM85.9 282.3h.8v.8h-.8zM70.9 295.0h.8v.8h-.8zM97.2 289.6h.8v.8h-.8zM76.2 295.5h.8v.8h-.8zM58.9 285.0h.8v.8h-.8zM85.3 294.5h.8v.8h-.8zM65.8 294.9h.8v.8h-.8zM97.4 289.4h.8v.8h-.8zM98.2 287.6h.8v.8h-.8zM67.2 295.1h.8v.8h-.8zM91.5 282.1h.8v.8h-.8zM94.2 292.5h.8v.8h-.8zM94.4 283.2h.8v.8h-.8zM86.5 294.1h.8v.8h-.8zM67.3 294.3h.8v.8h-.8zM97.5 289.6h.8v.8h-.8zM67.8 294.5h.8v.8h-.8zM97.9 286.3h.8v.8h-.8zM73.1 280.0h.8v.8h-.8zM69.6 279.3h.8v.8h-.8zM82.4 293.9h.8v.8h-.8zM97.8 285.4h.8v.8h-.8zM92.8 293.1h.8v.8h-.8zM72.8 295.2h.8v.8h-.8zM76.1 294.9h.8v.8h-.8zM81.2 294.8h.8v.8h-.8zM98.6 288.2h.8v.8h-.8zM79.3 282.3h.8v.8h-.8zM58.9 290.2h.8v.8h-.8zM93.7 282.5h.8v.8h-.8zM59.4 285.2h.8v.8h-.8zM88.2 293.7h.8v.8h-.8zM59.2 286.7h.8v.8h-.8zM68.1 295.0h.8v.8h-.8zM60.3 293.4h.8v.8h-.8zM89.7 293.0h.8v.8h-.8zM70.9 295.3h.8v.8h-.8zM79.4 281.6h.8v.8h-.8zM74.1 295.4h.8v.8h-.8zM81.5 294.7h.8v.8h-.8zM94.0 281.9h.8v.8h-.8zM59.3 288.7h.8v.8h-.8zM69.2 279.0h.8v.8h-.8zM93.6 281.5h.8v.8h-.8zM65.1 295.3h.8v.8h-.8zM68.4 294.3h.8v.8h-.8zM97.5 290.3h.8v.8h-.8zM98.9 286.6h.8v.8h-.8zM67.3 295.4h.8v.8h-.8zM73.1 295.6h.8v.8h-.8zM61.5 281.1h.8v.8h-.8zM59.4 287.6h.8v.8h-.8zM88.6 293.5h.8v.8h-.8zM74.5 280.2h.8v.8h-.8zM58.3 287.2h.8v.8h-.8zM60.2 283.3h.8v.8h-.8zM61.6 281.6h.8v.8h-.8zM59.2 292.7h.8v.8h-.8zM65.6 279.6h.8v.8h-.8zM69.3 278.5h.8v.8h-.8zM85.7 282.0h.8v.8h-.8zM82.3 293.7h.8v.8h-.8zM96.1 291.1h.8v.8h-.8zM78.1 295.3h.8v.8h-.8zM81.9 295.2h.8v.8h-.8zM67.0 295.6h.8v.8h-.8zM87.8 293.7h.8v.8h-.8zM61.1 282.7h.8v.8h-.8zM76.7 295.2h.8v.8h-.8zM73.2 279.6h.8v.8h-.8zM67.8 295.4h.8v.8h-.8zM58.1 289.5h.8v.8h-.8zM77.5 282.1h.8v.8h-.8zM71.9 279.9h.8v.8h-.8zM62.7 281.7h.8v.8h-.8zM74.3 280.4h.8v.8h-.8zM80.3 282.4h.8v.8h-.8zM97.4 289.3h.8v.8h-.8zM77.5 281.1h.8v.8h-.8zM82.1 294.6h.8v.8h-.8zM58.3 290.8h.8v.8h-.8zM57.5 289.1h.8v.8h-.8zM85.2 294.9h.8v.8h-.8zM95.2 284.1h.8v.8h-.8zM60.1 285.6h.8v.8h-.8zM86.5 294.6h.8v.8h-.8zM57.9 289.7h.8v.8h-.8zM58.9 290.1h.8v.8h-.8zM95.6 284.9h.8v.8h-.8zM72.4 295.3h.8v.8h-.8zM68.9 279.3h.8v.8h-.8zM65.4 294.5h.8v.8h-.8zM90.6 293.8h.8v.8h-.8zM76.7 280.9h.8v.8h-.8zM97.7 284.9h.8v.8h-.8zM61.9 281.0h.8v.8h-.8zM66.3 294.4h.8v.8h-.8zM91.8 282.7h.8v.8h-.8zM97.2 287.2h.8v.8h-.8zM75.5 294.8h.8v.8h-.8zM97.1 285.3h.8v.8h-.8zM61.4 294.1h.8v.8h-.8zM62.4 293.5h.8v.8h-.8zM65.3 294.5h.8v.8h-.8zM98.7 289.2h.8v.8h-.8zM57.9 288.2h.8v.8h-.8zM86.3 294.7h.8v.8h-.8zM73.2 294.6h.8v.8h-.8zM58.8 289.8h.8v.8h-.8zM73.8 295.4h.8v.8h-.8zM63.2 280.0h.8v.8h-.8zM97.8 286.4h.8v.8h-.8zM92.3 293.5h.8v.8h-.8zM95.9 292.3h.8v.8h-.8zM75.1 280.1h.8v.8h-.8zM80.0 296.0h.8v.8h-.8zM59.8 292.1h.8v.8h-.8zM76.3 295.5h.8v.8h-.8zM79.8 295.3h.8v.8h-.8zM65.7 295.0h.8v.8h-.8zM80.9 281.9h.8v.8h-.8zM61.8 281.3h.8v.8h-.8zM63.2 294.2h.8v.8h-.8zM71.4 295.0h.8v.8h-.8zM95.7 291.7h.8v.8h-.8zM74.9 280.1h.8v.8h-.8zM83.4 281.7h.8v.8h-.8zM58.9 291.4h.8v.8h-.8zM76.6 294.5h.8v.8h-.8zM86.6 293.8h.8v.8h-.8zM65.8 295.9h.8v.8h-.8zM91.3 293.1h.8v.8h-.8zM65.5 280.2h.8v.8h-.8zM91.0 293.0h.8v.8h-.8zM94.8 283.7h.8v.8h-.8zM67.1 295.9h.8v.8h-.8zM84.5 294.5h.8v.8h-.8zM68.4 278.3h.8v.8h-.8zM75.5 295.3h.8v.8h-.8zM68.7 295.6h.8v.8h-.8zM96.7 284.6h.8v.8h-.8zM90.5 281.7h.8v.8h-.8zM72.6 295.4h.8v.8h-.8zM70.2 295.3h.8v.8h-.8zM89.3 281.9h.8v.8h-.8zM59.3 290.7h.8v.8h-.8zM57.9 286.6h.8v.8h-.8zM74.0 279.6h.8v.8h-.8zM81.7 282.4h.8v.8h-.8zM77.6 282.1h.8v.8h-.8zM78.3 295.5h.8v.8h-.8zM59.3 291.7h.8v.8h-.8zM98.1 287.2h.8v.8h-.8zM70.1 295.4h.8v.8h-.8zM74.4 281.1h.8v.8h-.8zM59.0 289.9h.8v.8h-.8zM67.7 295.4h.8v.8h-.8zM90.9 293.5h.8v.8h-.8zM93.8 292.5h.8v.8h-.8zM61.9 294.9h.8v.8h-.8zM81.2 281.8h.8v.8h-.8zM61.9 281.4h.8v.8h-.8zM97.9 286.5h.8v.8h-.8zM62.1 293.8h.8v.8h-.8zM69.2 295.7h.8v.8h-.8zM60.7 292.1h.8v.8h-.8zM58.2 291.2h.8v.8h-.8zM82.6 294.1h.8v.8h-.8zM85.3 282.9h.8v.8h-.8zM81.5 295.1h.8v.8h-.8zM81.5 281.8h.8v.8h-.8zM66.2 279.2h.8v.8h-.8zM91.0 293.2h.8v.8h-.8zM77.9 281.6h.8v.8h-.8zM95.4 284.3h.8v.8h-.8zM68.9 295.1h.8v.8h-.8zM61.4 294.4h.8v.8h-.8zM81.0 295.5h.8v.8h-.8zM80.9 281.7h.8v.8h-.8zM97.5 289.6h.8v.8h-.8zM62.6 280.9h.8v.8h-.8zM73.5 279.1h.8v.8h-.8zM58.6 288.0h.8v.8h-.8zM70.3 279.9h.8v.8h-.8zM78.9 281.6h.8v.8h-.8zM89.3 294.1h.8v.8h-.8zM91.1 293.1h.8v.8h-.8zM76.3 294.5h.8v.8h-.8zM92.9 283.0h.8v.8h-.8zM71.4 295.4h.8v.8h-.8zM79.1 281.2h.8v.8h-.8zM89.0 293.4h.8v.8h-.8zM58.3 290.4h.8v.8h-.8zM96.8 291.1h.8v.8h-.8zM64.2 294.8h.8v.8h-.8zM61.5 294.2h.8v.8h-.8zM97.9 289.2h.8v.8h-.8zM61.9 294.8h.8v.8h-.8zM75.2 280.6h.8v.8h-.8z"/>
<path fill="#222" fill-opacity="0.7" d="M71.7 278.8h.8v.8h-.8zM65.0 297.3h.8v.8h-.8zM80.9 280.8h.8v.8h-.8zM71.8 296.3h.8v.8h-.8zM88.8 281.1h.8v.8h-.8zM91.3 295.6h.8v.8h-.8zM80.3 295.6h.8v.8h-.8zM64.5 296.0h.8v.8h-.8zM77.8 296.2h.8v.8h-.8zM63.4 278.1h.8v.8h-.8zM63.5 278.4h.8v.8h-.8zM98.9 285.1h.8v.8h-.8zM71.7 296.6h.8v.8h-.8zM62.1 295.2h.8v.8h-.8zM65.0 279.1h.8v.8h-.8zM97.4 283.9h.8v.8h-.8zM57.0 288.4h.8v.8h-.8zM57.8 287.7h.8v.8h-.8zM81.5 280.8h.8v.8h-.8zM71.1 296.1h.8v.8h-.8zM67.4 296.6h.8v.8h-.8zM79.9 297.0h.8v.8h-.8zM71.2 296.4h.8v.8h-.8zM98.2 285.5h.8v.8h-.8zM97.9 283.3h.8v.8h-.8zM86.3 295.4h.8v.8h-.8zM85.8 280.4h.8v.8h-.8zM99.5 288.7h.8v.8h-.8zM70.2 296.8h.8v.8h-.8zM60.3 294.8h.8v.8h-.8zM63.2 278.8h.8v.8h-.8zM69.2 277.7h.8v.8h-.8zM66.7 276.8h.8v.8h-.8zM60.8 280.2h.8v.8h-.8zM75.7 296.0h.8v.8h-.8zM79.5 280.3h.8v.8h-.8zM66.3 296.3h.8v.8h-.8zM94.3 294.6h.8v.8h-.8zM56.7 288.5h.8v.8h-.8zM85.2 295.5h.8v.8h-.8zM72.5 297.3h.8v.8h-.8zM80.3 295.7h.8v.8h-.8zM83.6 295.5h.8v.8h-.8zM85.0 296.2h.8v.8h-.8zM66.9 278.1h.8v.8h-.8zM61.4 296.0h.8v.8h-.8zM80.3 295.4h.8v.8h-.8zM66.7 278.0h.8v.8h-.8zM91.4 281.5h.8v.8h-.8zM67.3 277.9h.8v.8h-.8zM70.8 295.8h.8v.8h-.8zM76.1 296.0h.8v.8h-.8zM91.8 295.0h.8v.8h-.8zM92.0 280.0h.8v.8h-.8zM93.8 294.1h.8v.8h-.8zM61.1 295.0h.8v.8h-.8zM61.2 280.8h.8v.8h-.8zM88.9 295.9h.8v.8h-.8zM84.6 280.6h.8v.8h-.8zM58.2 292.8h.8v.8h-.8zM97.5 284.8h.8v.8h-.8zM58.2 291.0h.8v.8h-.8zM99.3 287.5h.8v.8h-.8zM87.5 281.1h.8v.8h-.8zM67.1 278.1h.8v.8h-.8zM78.2 279.9h.8v.8h-.8zM86.9 295.9h.8v.8h-.8zM88.7 280.9h.8v.8h-.8zM91.3 294.6h.8v.8h-.8zM73.5 278.7h.8v.8h-.8zM80.9 280.6h.8v.8h-.8zM85.2 295.7h.8v.8h-.8zM60.6 280.3h.8v.8h-.8zM78.7 280.1h.8v.8h-.8zM70.4 297.3h.8v.8h-.8zM60.7 294.8h.8v.8h-.8zM69.7 277.4h.8v.8h-.8zM92.9 294.8h.8v.8h-.8zM59.2 283.8h.8v.8h-.8zM57.8 287.4h.8v.8h-.8zM69.9 297.2h.8v.8h-.8zM76.8 279.9h.8v.8h-.8zM77.7 280.8h.8v.8h-.8zM98.8 285.4h.8v.8h-.8zM56.9 290.7h.8v.8h-.8zM57.2 291.1h.8v.8h-.8zM94.5 281.9h.8v.8h-.8zM97.3 282.9h.8v.8h-.8zM64.0 278.0h.8v.8h-.8zM63.1 277.8h.8v.8h-.8zM81.1 297.2h.8v.8h-.8zM73.6 278.6h.8v.8h-.8zM77.2 296.5h.8v.8h-.8zM87.4 295.9h.8v.8h-.8zM92.0 280.9h.8v.8h-.8zM61.5 281.0h.8v.8h-.8zM83.8 280.9h.8v.8h-.8zM63.2 278.8h.8v.8h-.8zM77.4 280.3h.8v.8h-.8zM60.3 281.5h.8v.8h-.8zM90.5 295.8h.8v.8h-.8zM89.4 295.1h.8v.8h-.8zM94.4 281.5h.8v.8h-.8zM67.4 277.9h.8v.8h-.8zM91.6 279.8h.8v.8h-.8zM99.0 290.7h.8v.8h-.8zM94.8 294.8h.8v.8h-.8zM86.9 280.9h.8v.8h-.8zM61.5 279.5h.8v.8h-.8zM75.7 279.5h.8v.8h-.8zM65.8 279.2h.8v.8h-.8zM71.9 296.9h.8v.8h-.8zM61.5 279.2h.8v.8h-.8zM91.0 280.6h.8v.8h-.8zM80.6 280.7h.8v.8h-.8zM66.3 296.3h.8v.8h-.8zM85.3 280.8h.8v.8h-.8zM57.6 290.2h.8v.8h-.8zM95.5 281.6h.8v.8h-.8zM99.7 289.5h.8v.8h-.8zM94.5 280.6h.8v.8h-.8zM79.6 296.1h.8v.8h-.8zM92.9 294.8h.8v.8h-.8zM84.0 280.4h.8v.8h-.8zM90.2 295.2h.8v.8h-.8zM86.1 295.9h.8v.8h-.8zM67.3 277.8h.8v.8h-.8zM61.0 294.9h.8v.8h-.8zM93.1 280.3h.8v.8h-.8zM68.9 296.0h.8v.8h-.8zM76.8 296.9h.8v.8h-.8zM59.7 281.8h.8v.8h-.8zM88.5 296.0h.8v.8h-.8zM87.2 280.4h.8v.8h-.8zM92.2 295.1h.8v.8h-.8zM77.6 281.1h.8v.8h-.8zM73.2 296.1h.8v.8h-.8zM73.9 277.7h.8v.8h-.8zM78.9 280.3h.8v.8h-.8zM57.3 286.4h.8v.8h-.8zM66.3 278.6h.8v.8h-.8zM58.3 283.0h.8v.8h-.8zM58.3 286.7h.8v.8h-.8zM62.6 294.8h.8v.8h-.8zM65.0 296.3h.8v.8h-.8zM99.1 283.5h.8v.8h-.8zM77.2 296.7h.8v.8h-.8zM62.0 279.1h.8v.8h-.8zM65.6 278.3h.8v.8h-.8zM73.9 279.2h.8v.8h-.8zM61.3 280.3h.8v.8h-.8zM72.0 296.1h.8v.8h-.8zM64.2 279.2h.8v.8h-.8zM66.2 278.1h.8v.8h-.8zM85.6 296.1h.8v.8h-.8zM71.8 278.2h.8v.8h-.8zM73.6 279.2h.8v.8h-.8zM68.4 297.6h.8v.8h-.8zM77.3 295.7h.8v.8h-.8zM88.4 280.9h.8v.8h-.8zM97.6 283.6h.8v.8h-.8zM73.9 297.5h.8v.8h-.8zM58.6 282.7h.8v.8h-.8zM57.4 291.8h.8v.8h-.8zM61.2 294.8h.8v.8h-.8zM86.4 281.7h.8v.8h-.8zM59.3 294.0h.8v.8h-.8zM65.5 297.3h.8v.8h-.8zM57.6 287.5h.8v.8h-.8zM85.4 294.9h.8v.8h-.8zM65.3 277.4h.8v.8h-.8zM69.7 296.1h.8v.8h-.8zM58.8 283.2h.8v.8h-.8zM61.8 280.1h.8v.8h-.8zM74.4 296.7h.8v.8h-.8zM63.6 295.6h.8v.8h-.8zM95.4 282.2h.8v.8h-.8zM83.7 296.3h.8v.8h-.8zM75.1 279.3h.8v.8h-.8zM73.2 298.0h.8v.8h-.8zM57.0 287.6h.8v.8h-.8zM58.5 292.1h.8v.8h-.8zM98.2 291.0h.8v.8h-.8zM87.9 294.5h.8v.8h-.8zM86.0 280.7h.8v.8h-.8zM58.6 291.4h.8v.8h-.8zM64.0 295.9h.8v.8h-.8zM75.5 297.2h.8v.8h-.8zM90.0 281.3h.8v.8h-.8zM89.6 280.7h.8v.8h-.8zM71.2 296.3h.8v.8h-.8z"/>
<path fill="#222" fill-opacity="0.45" d="M92.6 279.3h.8v.8h-.8zM56.5 283.9h.8v.8h-.8zM95.3 280.0h.8v.8h-.8zM83.4 279.7h.8v.8h-.8zM67.7 275.5h.8v.8h-.8zM94.5 279.8h.8v.8h-.8zM90.5 278.9h.8v.8h-.8zM60.9 278.6h.8v.8h-.8zM100.8 288.4h.8v.8h-.8zM82.4 279.4h.8v.8h-.8zM76.0 277.2h.8v.8h-.8zM70.6 298.1h.8v.8h-.8zM73.7 298.1h.8v.8h-.8zM59.1 296.3h.8v.8h-.8zM78.6 280.1h.8v.8h-.8zM57.5 282.0h.8v.8h-.8zM69.3 275.4h.8v.8h-.8zM86.7 296.1h.8v.8h-.8zM100.7 287.5h.8v.8h-.8zM76.9 278.4h.8v.8h-.8zM88.2 278.8h.8v.8h-.8zM66.5 276.2h.8v.8h-.8zM71.8 277.1h.8v.8h-.8zM79.2 279.2h.8v.8h-.8zM77.2 279.2h.8v.8h-.8zM81.8 279.1h.8v.8h-.8zM62.0 277.1h.8v.8h-.8zM56.9 292.4h.8v.8h-.8zM101.9 287.5h.8v.8h-.8zM96.2 281.6h.8v.8h-.8zM74.3 276.5h.8v.8h-.8zM101.6 288.5h.8v.8h-.8zM67.4 276.9h.8v.8h-.8zM83.9 296.5h.8v.8h-.8zM72.4 298.6h.8v.8h-.8zM85.4 297.0h.8v.8h-.8zM57.3 293.1h.8v.8h-.8zM100.9 285.2h.8v.8h-.8zM81.9 279.3h.8v.8h-.8zM95.9 279.9h.8v.8h-.8zM92.8 296.4h.8v.8h-.8zM85.7 278.3h.8v.8h-.8zM56.2 293.0h.8v.8h-.8zM60.1 296.8h.8v.8h-.8zM60.5 280.1h.8v.8h-.8zM81.3 279.8h.8v.8h-.8zM90.4 279.6h.8v.8h-.8zM77.8 298.5h.8v.8h-.8zM80.3 278.2h.8v.8h-.8zM65.5 276.9h.8v.8h-.8zM61.5 297.1h.8v.8h-.8zM58.4 294.5h.8v.8h-.8zM72.3 277.4h.8v.8h-.8zM99.0 282.4h.8v.8h-.8zM64.2 277.9h.8v.8h-.8zM85.7 297.1h.8v.8h-.8zM100.8 285.1h.8v.8h-.8zM75.1 276.4h.8v.8h-.8zM96.7 281.0h.8v.8h-.8zM77.1 278.0h.8v.8h-.8zM92.2 279.3h.8v.8h-.8zM72.3 277.3h.8v.8h-.8zM75.4 298.0h.8v.8h-.8zM78.4 278.1h.8v.8h-.8zM78.8 279.4h.8v.8h-.8zM101.6 288.3h.8v.8h-.8zM56.4 290.2h.8v.8h-.8zM88.3 297.3h.8v.8h-.8z"/>
<path fill="#222" fill-opacity="0.35" d="M89.7 276.6h.8v.8h-.8zM53.6 288.5h.8v.8h-.8zM90.4 278.6h.8v.8h-.8zM100.3 293.4h.8v.8h-.8zM78.7 276.1h.8v.8h-.8zM90.8 278.8h.8v.8h-.8zM89.9 277.6h.8v.8h-.8zM78.3 276.3h.8v.8h-.8zM76.0 276.2h.8v.8h-.8zM57.3 277.6h.8v.8h-.8zM88.3 278.0h.8v.8h-.8zM62.3 275.9h.8v.8h-.8zM82.4 299.0h.8v.8h-.8zM79.8 277.6h.8v.8h-.8zM78.5 276.4h.8v.8h-.8zM67.4 275.1h.8v.8h-.8zM84.6 278.7h.8v.8h-.8zM89.8 276.3h.8v.8h-.8zM62.8 275.9h.8v.8h-.8zM62.7 276.6h.8v.8h-.8zM66.0 274.9h.8v.8h-.8zM90.8 277.0h.8v.8h-.8zM88.5 298.4h.8v.8h-.8zM92.9 277.2h.8v.8h-.8zM85.2 278.3h.8v.8h-.8zM87.9 277.1h.8v.8h-.8zM72.0 275.7h.8v.8h-.8zM55.8 277.6h.8v.8h-.8zM56.4 283.3h.8v.8h-.8zM69.2 274.8h.8v.8h-.8zM54.6 288.7h.8v.8h-.8zM91.0 276.7h.8v.8h-.8zM55.5 282.4h.8v.8h-.8zM58.5 297.1h.8v.8h-.8zM83.5 276.8h.8v.8h-.8zM86.4 277.4h.8v.8h-.8zM77.0 276.7h.8v.8h-.8zM101.6 283.2h.8v.8h-.8zM75.9 276.4h.8v.8h-.8zM89.7 276.2h.8v.8h-.8zM86.2 277.1h.8v.8h-.8zM76.9 275.5h.8v.8h-.8zM78.1 277.2h.8v.8h-.8zM82.1 276.7h.8v.8h-.8zM83.2 277.9h.8v.8h-.8zM71.1 275.4h.8v.8h-.8zM79.9 276.8h.8v.8h-.8zM94.4 297.1h.8v.8h-.8zM79.0 275.8h.8v.8h-.8zM66.5 272.4h.8v.8h-.8zM61.4 276.7h.8v.8h-.8zM57.2 280.7h.8v.8h-.8zM56.2 280.5h.8v.8h-.8zM66.0 300.3h.8v.8h-.8zM85.8 299.1h.8v.8h-.8zM77.9 292.0h.8v.8h-.8zM58.1 295.5h.8v.8h-.8zM89.2 293.7h.8v.8h-.8zM59.9 284.1h.8v.8h-.8zM64.7 292.6h.8v.8h-.8zM84.0 291.9h.8v.8h-.8zM80.5 293.8h.8v.8h-.8zM81.8 279.9h.8v.8h-.8zM61.3 282.1h.8v.8h-.8zM60.1 285.0h.8v.8h-.8zM90.7 277.1h.8v.8h-.8zM95.3 293.4h.8v.8h-.8zM55.0 291.4h.8v.8h-.8zM72.6 279.4h.8v.8h-.8zM74.9 279.9h.8v.8h-.8zM92.3 285.9h.8v.8h-.8zM92.7 286.1h.8v.8h-.8zM76.8 295.7h.8v.8h-.8zM60.8 280.9h.8v.8h-.8zM64.2 280.0h.8v.8h-.8zM101.2 287.8h.8v.8h-.8zM71.2 295.7h.8v.8h-.8zM83.9 292.4h.8v.8h-.8zM67.8 292.1h.8v.8h-.8zM83.9 282.7h.8v.8h-.8zM64.6 291.2h.8v.8h-.8zM99.0 289.2h.8v.8h-.8zM65.3 293.2h.8v.8h-.8zM66.4 277.7h.8v.8h-.8zM66.6 279.2h.8v.8h-.8zM62.9 289.8h.8v.8h-.8zM59.3 290.7h.8v.8h-.8zM67.4 280.2h.8v.8h-.8zM87.2 277.4h.8v.8h-.8zM85.0 293.1h.8v.8h-.8zM98.4 285.4h.8v.8h-.8zM95.0 284.1h.8v.8h-.8zM57.9 290.4h.8v.8h-.8zM73.3 282.2h.8v.8h-.8zM99.4 280.4h.8v.8h-.8zM64.7 278.0h.8v.8h-.8zM81.3 283.5h.8v.8h-.8zM98.8 283.9h.8v.8h-.8zM72.8 281.3h.8v.8h-.8zM66.9 293.3h.8v.8h-.8zM60.3 295.0h.8v.8h-.8zM76.0 277.5h.8v.8h-.8zM98.1 294.2h.8v.8h-.8zM77.1 279.3h.8v.8h-.8zM60.9 286.7h.8v.8h-.8zM94.3 286.6h.8v.8h-.8zM79.3 285.6h.8v.8h-.8zM68.8 278.5h.8v.8h-.8zM61.9 295.8h.8v.8h-.8zM92.4 285.2h.8v.8h-.8zM91.1 282.9h.8v.8h-.8zM61.7 288.9h.8v.8h-.8zM66.8 293.6h.8v.8h-.8zM67.3 283.2h.8v.8h-.8zM64.7 292.9h.8v.8h-.8zM70.3 275.7h.8v.8h-.8zM93.3 285.4h.8v.8h-.8zM95.6 282.0h.8v.8h-.8zM62.0 281.1h.8v.8h-.8zM108.7 278.3h.8v.8h-.8zM122.0 291.9h.8v.8h-.8zM102.7 280.1h.8v.8h-.8zM96.7 282.9h.8v.8h-.8zM98.6 284.7h.8v.8h-.8zM103.7 294.9h.8v.8h-.8zM96.5 290.1h.8v.8h-.8zM102.6 287.5h.8v.8h-.8zM100.0 287.8h.8v.8h-.8zM100.7 282.8h.8v.8h-.8zM101.5 284.0h.8v.8h-.8zM101.6 283.7h.8v.8h-.8zM96.1 291.5h.8v.8h-.8zM100.5 289.0h.8v.8h-.8zM97.2 285.0h.8v.8h-.8zM97.0 285.3h.8v.8h-.8zM98.4 285.9h.8v.8h-.8zM96.6 281.9h.8v.8h-.8zM98.8 285.8h.8v.8h-.8zM99.2 287.1h.8v.8h-.8zM105.5 286.6h.8v.8h-.8zM97.9 287.0h.8v.8h-.8zM96.8 287.4h.8v.8h-.8zM101.8 291.1h.8v.8h-.8zM106.3 289.9h.8v.8h-.8zM97.5 290.1h.8v.8h-.8zM103.0 282.2h.8v.8h-.8zM96.1 287.4h.8v.8h-.8zM97.1 285.7h.8v.8h-.8zM97.3 292.2h.8v.8h-.8z"/>
<path d="M58.80,288.10 C59.07,286.23 60.67,283.03 62.20,281.60 C63.73,280.17 66.13,279.75 68.00,279.50 C69.87,279.25 71.90,279.72 73.40,280.10 C74.90,280.48 75.57,281.43 77.00,281.80 C78.43,282.17 79.73,282.18 82.00,282.30 C84.27,282.42 88.47,282.32 90.60,282.50 C92.73,282.68 93.58,282.62 94.80,283.40 C96.02,284.18 97.72,285.85 97.90,287.20 C98.08,288.55 97.12,290.48 95.90,291.50 C94.68,292.52 92.92,292.82 90.60,293.30 C88.28,293.78 84.87,294.10 82.00,294.40 C79.13,294.70 76.10,295.03 73.40,295.10 C70.70,295.17 67.93,295.18 65.80,294.80 C63.67,294.42 61.77,293.92 60.60,292.80 C59.43,291.68 58.53,289.97 58.80,288.10 Z" fill="#cacaca"/>
<path d="M58.80,288.10 C59.07,286.23 60.67,283.03 62.20,281.60 C63.73,280.17 66.13,279.75 68.00,279.50 C69.87,279.25 71.90,279.72 73.40,280.10 C74.90,280.48 75.57,281.43 77.00,281.80 C78.43,282.17 79.73,282.18 82.00,282.30 C84.27,282.42 88.47,282.32 90.60,282.50 C92.73,282.68 93.58,282.62 94.80,283.40 C96.02,284.18 97.72,285.85 97.90,287.20 C98.08,288.55 97.12,290.48 95.90,291.50 C94.68,292.52 92.92,292.82 90.60,293.30 C88.28,293.78 84.87,294.10 82.00,294.40 C79.13,294.70 76.10,295.03 73.40,295.10 C70.70,295.17 67.93,295.18 65.80,294.80 C63.67,294.42 61.77,293.92 60.60,292.80 C59.43,291.68 58.53,289.97 58.80,288.10 Z" fill="none" stroke="#1c1c1c" stroke-width="1.5" stroke-linejoin="round" filter="url(#bl)"/>
<path d="M61.72,288.07 C61.96,286.83 63.40,284.72 64.78,283.78 C66.16,282.83 68.32,282.56 70.00,282.39 C71.68,282.22 73.51,282.53 74.86,282.79 C76.21,283.04 76.81,283.67 78.10,283.91 C79.39,284.15 80.56,284.16 82.60,284.24 C84.64,284.31 88.42,284.25 90.34,284.37 C92.26,284.49 93.03,284.45 94.12,284.96 C95.22,285.48 96.75,286.58 96.91,287.47 C97.08,288.36 96.21,289.64 95.11,290.31 C94.02,290.98 92.42,291.18 90.34,291.50 C88.25,291.82 85.18,292.03 82.60,292.22 C80.02,292.42 77.29,292.64 74.86,292.69 C72.43,292.73 69.94,292.74 68.02,292.49 C66.10,292.24 64.39,291.90 63.34,291.17 C62.29,290.43 61.48,289.30 61.72,288.07 Z" fill="#cdcdcd" stroke="#707070" stroke-width="0.6"/>
<path d="M67.18,288.83 C67.37,288.27 68.52,287.31 69.62,286.88 C70.73,286.45 72.46,286.32 73.80,286.25 C75.14,286.18 76.61,286.31 77.69,286.43 C78.77,286.55 79.25,286.83 80.28,286.94 C81.31,287.05 82.25,287.06 83.88,287.09 C85.51,287.13 88.54,287.10 90.07,287.15 C91.61,287.21 92.22,287.19 93.10,287.42 C93.97,287.66 95.20,288.15 95.33,288.56 C95.46,288.97 94.76,289.55 93.89,289.85 C93.01,290.16 91.74,290.25 90.07,290.39 C88.40,290.54 85.94,290.63 83.88,290.72 C81.82,290.81 79.63,290.91 77.69,290.93 C75.74,290.95 73.75,290.96 72.22,290.84 C70.68,290.73 69.31,290.57 68.47,290.24 C67.63,289.91 66.98,289.39 67.18,288.83 Z" fill="#dedede" stroke="#9a9a9a" stroke-width="0.5"/>
<path d="M69.20,283.20 A4.9,4.9 0 1,0 69.20,292.40" fill="#c4c4c4" stroke="#3a3a3a" stroke-width="1.0"/>
<circle cx="66.20" cy="287.80" r="3.4" fill="#bcbcbc" stroke="#4a4a4a" stroke-width="0.8"/>
<circle cx="66.20" cy="287.80" r="1.9" fill="#d8d8d8" stroke="#888" stroke-width="0.5"/>
<circle cx="65.50" cy="287.30" r="1.1" fill="#f6f6f6"/>
<rect x="77.50" y="262.50" width="58.50" height="44.30" fill="none" stroke="#dc8c8c" stroke-width="1.0"/>
<rect x="52.40" y="254.00" width="87.00" height="86.60" fill="none" stroke="#1a1a1a" stroke-width="1.35"/>
<line x1="49.00" y1="263.00" x2="52.40" y2="263.00" stroke="#111" stroke-width="1.1"/>
<line x1="49.00" y1="282.90" x2="52.40" y2="282.90" stroke="#111" stroke-width="1.1"/>
<line x1="49.00" y1="306.70" x2="52.40" y2="306.70" stroke="#111" stroke-width="1.1"/>
<line x1="49.00" y1="321.10" x2="52.40" y2="321.10" stroke="#111" stroke-width="1.1"/>
<line x1="49.00" y1="335.00" x2="52.40" y2="335.00" stroke="#111" stroke-width="1.1"/>
<line x1="50.40" y1="276.91" x2="52.40" y2="276.91" stroke="#222" stroke-width="0.75"/>
<line x1="50.40" y1="273.41" x2="52.40" y2="273.41" stroke="#222" stroke-width="0.75"/>
<line x1="50.40" y1="270.92" x2="52.40" y2="270.92" stroke="#222" stroke-width="0.75"/>
<line x1="50.40" y1="268.99" x2="52.40" y2="268.99" stroke="#222" stroke-width="0.75"/>
<line x1="50.40" y1="267.41" x2="52.40" y2="267.41" stroke="#222" stroke-width="0.75"/>
<line x1="50.40" y1="266.08" x2="52.40" y2="266.08" stroke="#222" stroke-width="0.75"/>
<line x1="50.40" y1="264.93" x2="52.40" y2="264.93" stroke="#222" stroke-width="0.75"/>
<line x1="50.40" y1="263.91" x2="52.40" y2="263.91" stroke="#222" stroke-width="0.75"/>
<line x1="50.40" y1="299.54" x2="52.40" y2="299.54" stroke="#222" stroke-width="0.75"/>
<line x1="50.40" y1="295.34" x2="52.40" y2="295.34" stroke="#222" stroke-width="0.75"/>
<line x1="50.40" y1="292.37" x2="52.40" y2="292.37" stroke="#222" stroke-width="0.75"/>
<line x1="50.40" y1="290.06" x2="52.40" y2="290.06" stroke="#222" stroke-width="0.75"/>
<line x1="50.40" y1="288.18" x2="52.40" y2="288.18" stroke="#222" stroke-width="0.75"/>
<line x1="50.40" y1="286.59" x2="52.40" y2="286.59" stroke="#222" stroke-width="0.75"/>
<line x1="50.40" y1="285.21" x2="52.40" y2="285.21" stroke="#222" stroke-width="0.75"/>
<line x1="50.40" y1="283.99" x2="52.40" y2="283.99" stroke="#222" stroke-width="0.75"/>
<line x1="50.40" y1="255.50" x2="52.40" y2="255.50" stroke="#222" stroke-width="0.75"/>
<line x1="50.40" y1="258.00" x2="52.40" y2="258.00" stroke="#222" stroke-width="0.75"/>
<line x1="50.40" y1="260.50" x2="52.40" y2="260.50" stroke="#222" stroke-width="0.75"/>
<line x1="50.40" y1="308.50" x2="52.40" y2="308.50" stroke="#222" stroke-width="0.75"/>
<line x1="50.40" y1="310.50" x2="52.40" y2="310.50" stroke="#222" stroke-width="0.75"/>
<line x1="50.40" y1="312.50" x2="52.40" y2="312.50" stroke="#222" stroke-width="0.75"/>
<line x1="50.40" y1="314.50" x2="52.40" y2="314.50" stroke="#222" stroke-width="0.75"/>
<line x1="50.40" y1="316.50" x2="52.40" y2="316.50" stroke="#222" stroke-width="0.75"/>
<line x1="50.40" y1="318.00" x2="52.40" y2="318.00" stroke="#222" stroke-width="0.75"/>
<line x1="50.40" y1="319.50" x2="52.40" y2="319.50" stroke="#222" stroke-width="0.75"/>
<line x1="50.40" y1="320.30" x2="52.40" y2="320.30" stroke="#222" stroke-width="0.75"/>
<line x1="50.40" y1="322.00" x2="52.40" y2="322.00" stroke="#222" stroke-width="0.75"/>
<line x1="50.40" y1="323.00" x2="52.40" y2="323.00" stroke="#222" stroke-width="0.75"/>
<line x1="50.40" y1="324.50" x2="52.40" y2="324.50" stroke="#222" stroke-width="0.75"/>
<line x1="50.40" y1="326.50" x2="52.40" y2="326.50" stroke="#222" stroke-width="0.75"/>
<line x1="50.40" y1="328.50" x2="52.40" y2="328.50" stroke="#222" stroke-width="0.75"/>
<line x1="50.40" y1="330.50" x2="52.40" y2="330.50" stroke="#222" stroke-width="0.75"/>
<line x1="50.40" y1="332.50" x2="52.40" y2="332.50" stroke="#222" stroke-width="0.75"/>
<line x1="50.40" y1="337.00" x2="52.40" y2="337.00" stroke="#222" stroke-width="0.75"/>
<line x1="50.40" y1="339.00" x2="52.40" y2="339.00" stroke="#222" stroke-width="0.75"/>
<line x1="62.50" y1="340.60" x2="62.50" y2="343.60" stroke="#111" stroke-width="1.1"/>
<line x1="95.20" y1="340.60" x2="95.20" y2="343.60" stroke="#111" stroke-width="1.1"/>
<line x1="116.50" y1="340.60" x2="116.50" y2="343.60" stroke="#111" stroke-width="1.1"/>
<line x1="138.60" y1="340.60" x2="138.60" y2="343.60" stroke="#111" stroke-width="1.1"/>
<line x1="101.61" y1="340.60" x2="101.61" y2="342.80" stroke="#222" stroke-width="0.75"/>
<line x1="105.36" y1="340.60" x2="105.36" y2="342.80" stroke="#222" stroke-width="0.75"/>
<line x1="108.02" y1="340.60" x2="108.02" y2="342.80" stroke="#222" stroke-width="0.75"/>
<line x1="110.09" y1="340.60" x2="110.09" y2="342.80" stroke="#222" stroke-width="0.75"/>
<line x1="111.77" y1="340.60" x2="111.77" y2="342.80" stroke="#222" stroke-width="0.75"/>
<line x1="113.20" y1="340.60" x2="113.20" y2="342.80" stroke="#222" stroke-width="0.75"/>
<line x1="114.44" y1="340.60" x2="114.44" y2="342.80" stroke="#222" stroke-width="0.75"/>
<line x1="115.53" y1="340.60" x2="115.53" y2="342.80" stroke="#222" stroke-width="0.75"/>
<line x1="123.15" y1="340.60" x2="123.15" y2="342.80" stroke="#222" stroke-width="0.75"/>
<line x1="127.04" y1="340.60" x2="127.04" y2="342.80" stroke="#222" stroke-width="0.75"/>
<line x1="129.81" y1="340.60" x2="129.81" y2="342.80" stroke="#222" stroke-width="0.75"/>
<line x1="131.95" y1="340.60" x2="131.95" y2="342.80" stroke="#222" stroke-width="0.75"/>
<line x1="133.70" y1="340.60" x2="133.70" y2="342.80" stroke="#222" stroke-width="0.75"/>
<line x1="135.18" y1="340.60" x2="135.18" y2="342.80" stroke="#222" stroke-width="0.75"/>
<line x1="136.46" y1="340.60" x2="136.46" y2="342.80" stroke="#222" stroke-width="0.75"/>
<line x1="137.59" y1="340.60" x2="137.59" y2="342.80" stroke="#222" stroke-width="0.75"/>
<line x1="72.34" y1="340.60" x2="72.34" y2="342.80" stroke="#222" stroke-width="0.75"/>
<line x1="59.55" y1="340.60" x2="59.55" y2="342.80" stroke="#222" stroke-width="0.75"/>
<line x1="78.10" y1="340.60" x2="78.10" y2="342.80" stroke="#222" stroke-width="0.75"/>
<line x1="57.82" y1="340.60" x2="57.82" y2="342.80" stroke="#222" stroke-width="0.75"/>
<line x1="82.19" y1="340.60" x2="82.19" y2="342.80" stroke="#222" stroke-width="0.75"/>
<line x1="56.59" y1="340.60" x2="56.59" y2="342.80" stroke="#222" stroke-width="0.75"/>
<line x1="85.36" y1="340.60" x2="85.36" y2="342.80" stroke="#222" stroke-width="0.75"/>
<line x1="55.64" y1="340.60" x2="55.64" y2="342.80" stroke="#222" stroke-width="0.75"/>
<line x1="87.95" y1="340.60" x2="87.95" y2="342.80" stroke="#222" stroke-width="0.75"/>
<line x1="54.87" y1="340.60" x2="54.87" y2="342.80" stroke="#222" stroke-width="0.75"/>
<line x1="90.13" y1="340.60" x2="90.13" y2="342.80" stroke="#222" stroke-width="0.75"/>
<line x1="54.21" y1="340.60" x2="54.21" y2="342.80" stroke="#222" stroke-width="0.75"/>
<line x1="92.03" y1="340.60" x2="92.03" y2="342.80" stroke="#222" stroke-width="0.75"/>
<line x1="53.64" y1="340.60" x2="53.64" y2="342.80" stroke="#222" stroke-width="0.75"/>
<line x1="93.70" y1="340.60" x2="93.70" y2="342.80" stroke="#222" stroke-width="0.75"/>
<text x="45.50" y="266.60" font-size="8.3" text-anchor="end" fill="#231f20" stroke="#231f20" textLength="12.20" lengthAdjust="spacingAndGlyphs">10<tspan font-size="6.0" dy="-3.0">5</tspan></text>
<text x="45.50" y="286.50" font-size="8.3" text-anchor="end" fill="#231f20" stroke="#231f20" textLength="12.20" lengthAdjust="spacingAndGlyphs">10<tspan font-size="6.0" dy="-3.0">4</tspan></text>
<text x="45.50" y="310.30" font-size="8.3" text-anchor="end" fill="#231f20" stroke="#231f20" textLength="11.60" lengthAdjust="spacingAndGlyphs">10<tspan font-size="6.0" dy="-3.0">3</tspan></text>
<text x="45.50" y="324.70" font-size="8.3" text-anchor="end" fill="#231f20" stroke="#231f20">0</text>
<text x="45.50" y="338.60" font-size="8.3" text-anchor="end" fill="#231f20" stroke="#231f20" textLength="14.00" lengthAdjust="spacingAndGlyphs">-10<tspan font-size="6.0" dy="-3.0">3</tspan></text>
<text x="62.50" y="354.40" font-size="8.3" text-anchor="middle" fill="#231f20" stroke="#231f20">0</text>
<text x="95.20" y="354.40" font-size="8.3" text-anchor="middle" fill="#231f20" stroke="#231f20" textLength="11.20" lengthAdjust="spacingAndGlyphs">10<tspan font-size="6.0" dy="-3.0">3</tspan></text>
<text x="116.50" y="354.40" font-size="8.3" text-anchor="middle" fill="#231f20" stroke="#231f20" textLength="11.20" lengthAdjust="spacingAndGlyphs">10<tspan font-size="6.0" dy="-3.0">4</tspan></text>
<text x="138.60" y="354.40" font-size="8.3" text-anchor="middle" fill="#231f20" stroke="#231f20" textLength="11.20" lengthAdjust="spacingAndGlyphs">10<tspan font-size="6.0" dy="-3.0">5</tspan></text>
<text x="113.60" y="303.90" font-size="8.4" text-anchor="start" fill="#b0403f" stroke="#b0403f" textLength="14.70" lengthAdjust="spacingAndGlyphs">28.8</text>
<path fill="#222" fill-opacity="0.95" d="M214.5 281.6h.8v.8h-.8zM183.4 294.1h.8v.8h-.8zM191.6 294.5h.8v.8h-.8zM222.3 292.6h.8v.8h-.8zM189.4 279.8h.8v.8h-.8zM190.4 280.5h.8v.8h-.8zM222.0 291.6h.8v.8h-.8zM191.6 295.2h.8v.8h-.8zM218.8 292.2h.8v.8h-.8zM223.2 285.3h.8v.8h-.8zM207.7 281.7h.8v.8h-.8zM198.0 281.4h.8v.8h-.8zM194.6 282.0h.8v.8h-.8zM222.3 290.1h.8v.8h-.8zM196.7 281.4h.8v.8h-.8zM219.9 292.2h.8v.8h-.8zM186.9 294.1h.8v.8h-.8zM196.1 294.4h.8v.8h-.8zM178.0 287.0h.8v.8h-.8zM223.9 286.2h.8v.8h-.8zM181.6 281.7h.8v.8h-.8zM178.9 292.4h.8v.8h-.8zM218.6 292.0h.8v.8h-.8zM182.5 293.3h.8v.8h-.8zM185.3 294.9h.8v.8h-.8zM177.8 289.2h.8v.8h-.8zM215.3 293.4h.8v.8h-.8zM179.2 290.2h.8v.8h-.8zM182.2 294.8h.8v.8h-.8zM221.8 284.4h.8v.8h-.8zM211.6 292.7h.8v.8h-.8zM216.3 282.1h.8v.8h-.8zM195.9 293.8h.8v.8h-.8zM183.8 279.2h.8v.8h-.8zM203.4 281.7h.8v.8h-.8zM191.1 294.3h.8v.8h-.8zM197.2 282.2h.8v.8h-.8zM217.9 293.3h.8v.8h-.8zM212.6 293.4h.8v.8h-.8zM184.9 294.7h.8v.8h-.8zM204.7 281.5h.8v.8h-.8zM207.4 294.5h.8v.8h-.8zM181.0 282.3h.8v.8h-.8zM205.6 281.6h.8v.8h-.8zM205.2 280.9h.8v.8h-.8zM220.2 292.2h.8v.8h-.8zM188.3 280.6h.8v.8h-.8zM211.9 281.0h.8v.8h-.8zM215.0 293.7h.8v.8h-.8zM179.3 287.4h.8v.8h-.8zM190.8 294.5h.8v.8h-.8zM219.8 292.6h.8v.8h-.8zM201.7 294.4h.8v.8h-.8zM223.7 287.4h.8v.8h-.8zM211.0 281.8h.8v.8h-.8zM211.4 281.9h.8v.8h-.8zM219.8 292.8h.8v.8h-.8zM179.2 285.8h.8v.8h-.8zM215.2 282.5h.8v.8h-.8zM188.8 295.3h.8v.8h-.8zM210.4 293.8h.8v.8h-.8zM193.9 295.1h.8v.8h-.8zM206.9 281.0h.8v.8h-.8zM200.7 282.1h.8v.8h-.8zM195.7 294.9h.8v.8h-.8zM180.1 293.3h.8v.8h-.8zM185.3 294.7h.8v.8h-.8zM192.5 280.3h.8v.8h-.8zM212.3 293.5h.8v.8h-.8zM195.6 281.8h.8v.8h-.8zM196.5 282.1h.8v.8h-.8zM214.3 282.3h.8v.8h-.8zM209.6 281.8h.8v.8h-.8zM203.9 282.8h.8v.8h-.8zM210.2 293.5h.8v.8h-.8zM220.8 283.3h.8v.8h-.8zM222.4 290.8h.8v.8h-.8zM213.4 281.6h.8v.8h-.8zM191.6 294.2h.8v.8h-.8zM202.0 294.1h.8v.8h-.8zM201.4 293.5h.8v.8h-.8zM220.4 292.3h.8v.8h-.8zM178.5 287.6h.8v.8h-.8zM198.5 281.3h.8v.8h-.8zM201.4 281.9h.8v.8h-.8zM199.9 293.8h.8v.8h-.8zM205.1 294.7h.8v.8h-.8zM206.4 281.7h.8v.8h-.8zM205.1 293.9h.8v.8h-.8zM205.3 294.5h.8v.8h-.8zM209.5 293.9h.8v.8h-.8zM203.9 281.7h.8v.8h-.8zM200.4 294.9h.8v.8h-.8zM178.5 291.2h.8v.8h-.8zM180.6 294.0h.8v.8h-.8zM201.1 294.0h.8v.8h-.8zM211.7 281.5h.8v.8h-.8zM181.7 282.2h.8v.8h-.8zM179.5 286.1h.8v.8h-.8zM222.3 285.0h.8v.8h-.8zM196.8 293.5h.8v.8h-.8zM210.6 281.9h.8v.8h-.8zM222.6 290.9h.8v.8h-.8zM207.5 281.4h.8v.8h-.8zM180.0 283.2h.8v.8h-.8zM220.0 283.4h.8v.8h-.8zM189.1 280.1h.8v.8h-.8zM180.3 283.6h.8v.8h-.8zM179.4 287.4h.8v.8h-.8zM196.0 293.9h.8v.8h-.8zM200.7 294.5h.8v.8h-.8zM178.7 288.1h.8v.8h-.8zM197.8 282.1h.8v.8h-.8zM188.5 295.9h.8v.8h-.8zM182.5 281.4h.8v.8h-.8zM183.7 294.4h.8v.8h-.8zM209.8 282.2h.8v.8h-.8zM221.7 282.7h.8v.8h-.8zM186.2 294.9h.8v.8h-.8zM203.7 281.9h.8v.8h-.8zM220.0 282.0h.8v.8h-.8zM220.8 291.9h.8v.8h-.8zM210.5 293.5h.8v.8h-.8zM183.0 293.9h.8v.8h-.8zM199.8 282.1h.8v.8h-.8zM189.7 279.5h.8v.8h-.8zM192.0 281.4h.8v.8h-.8zM195.9 294.8h.8v.8h-.8zM223.3 288.7h.8v.8h-.8zM219.2 292.7h.8v.8h-.8zM184.9 279.1h.8v.8h-.8zM224.6 288.0h.8v.8h-.8zM181.5 293.6h.8v.8h-.8zM195.9 281.8h.8v.8h-.8zM213.3 293.8h.8v.8h-.8zM214.6 293.4h.8v.8h-.8zM198.5 294.9h.8v.8h-.8zM192.8 295.3h.8v.8h-.8zM198.5 282.1h.8v.8h-.8zM217.5 293.6h.8v.8h-.8zM216.2 293.5h.8v.8h-.8zM184.3 280.3h.8v.8h-.8zM204.5 293.2h.8v.8h-.8zM223.1 285.4h.8v.8h-.8zM178.2 289.3h.8v.8h-.8zM181.1 281.8h.8v.8h-.8zM197.1 282.1h.8v.8h-.8zM178.7 290.0h.8v.8h-.8zM222.1 291.0h.8v.8h-.8zM194.0 294.8h.8v.8h-.8zM197.7 294.1h.8v.8h-.8zM194.4 294.7h.8v.8h-.8zM205.5 281.9h.8v.8h-.8zM180.7 292.7h.8v.8h-.8zM190.3 280.0h.8v.8h-.8zM222.6 291.6h.8v.8h-.8zM203.5 281.8h.8v.8h-.8zM180.3 285.1h.8v.8h-.8zM179.1 286.8h.8v.8h-.8zM222.8 288.0h.8v.8h-.8zM214.2 281.7h.8v.8h-.8zM179.7 283.4h.8v.8h-.8zM212.1 293.1h.8v.8h-.8zM192.9 294.5h.8v.8h-.8zM179.0 291.1h.8v.8h-.8zM191.9 294.5h.8v.8h-.8zM178.6 290.1h.8v.8h-.8zM218.7 293.7h.8v.8h-.8zM199.6 295.0h.8v.8h-.8zM182.4 294.0h.8v.8h-.8zM215.6 293.8h.8v.8h-.8zM224.3 288.3h.8v.8h-.8zM180.5 283.9h.8v.8h-.8zM180.0 285.4h.8v.8h-.8zM182.9 294.2h.8v.8h-.8zM182.2 280.4h.8v.8h-.8zM182.6 280.8h.8v.8h-.8zM184.2 280.4h.8v.8h-.8zM223.3 285.2h.8v.8h-.8zM199.6 294.1h.8v.8h-.8zM223.1 289.2h.8v.8h-.8zM206.4 293.8h.8v.8h-.8zM186.9 294.9h.8v.8h-.8zM179.5 289.4h.8v.8h-.8zM205.1 282.0h.8v.8h-.8zM185.6 280.1h.8v.8h-.8zM206.4 282.8h.8v.8h-.8zM219.9 292.6h.8v.8h-.8zM220.0 292.6h.8v.8h-.8zM179.5 287.2h.8v.8h-.8zM186.5 294.8h.8v.8h-.8zM223.3 287.9h.8v.8h-.8zM216.2 293.1h.8v.8h-.8zM220.3 283.0h.8v.8h-.8zM199.2 294.5h.8v.8h-.8zM217.8 281.9h.8v.8h-.8zM188.0 294.8h.8v.8h-.8zM180.0 292.1h.8v.8h-.8zM191.1 295.3h.8v.8h-.8zM217.0 293.2h.8v.8h-.8zM206.9 281.3h.8v.8h-.8zM178.8 288.4h.8v.8h-.8zM209.4 293.5h.8v.8h-.8zM183.7 295.2h.8v.8h-.8zM182.1 280.3h.8v.8h-.8zM213.5 293.3h.8v.8h-.8zM179.5 293.1h.8v.8h-.8zM183.4 281.1h.8v.8h-.8zM220.6 292.4h.8v.8h-.8zM185.2 294.6h.8v.8h-.8zM179.2 286.0h.8v.8h-.8zM185.8 294.2h.8v.8h-.8zM183.3 281.2h.8v.8h-.8zM181.0 293.6h.8v.8h-.8zM184.0 293.9h.8v.8h-.8zM198.3 282.5h.8v.8h-.8zM179.6 292.4h.8v.8h-.8zM187.0 294.5h.8v.8h-.8zM213.8 293.6h.8v.8h-.8zM182.8 295.0h.8v.8h-.8zM189.2 280.8h.8v.8h-.8zM205.5 281.1h.8v.8h-.8zM215.2 293.0h.8v.8h-.8zM179.3 291.4h.8v.8h-.8zM189.4 280.5h.8v.8h-.8zM222.3 284.9h.8v.8h-.8zM182.3 294.4h.8v.8h-.8zM216.6 281.9h.8v.8h-.8zM205.1 281.1h.8v.8h-.8zM202.3 282.3h.8v.8h-.8zM213.7 293.9h.8v.8h-.8zM184.6 295.0h.8v.8h-.8zM190.9 280.6h.8v.8h-.8zM187.2 294.4h.8v.8h-.8zM193.8 294.8h.8v.8h-.8zM192.7 280.8h.8v.8h-.8zM184.5 295.1h.8v.8h-.8zM179.2 290.8h.8v.8h-.8zM186.2 295.7h.8v.8h-.8zM208.7 293.8h.8v.8h-.8zM188.0 279.7h.8v.8h-.8zM178.9 283.5h.8v.8h-.8zM187.8 294.8h.8v.8h-.8zM197.7 293.9h.8v.8h-.8zM182.5 293.9h.8v.8h-.8zM221.8 291.2h.8v.8h-.8zM217.5 293.2h.8v.8h-.8zM187.4 280.5h.8v.8h-.8zM183.4 280.6h.8v.8h-.8zM216.5 293.2h.8v.8h-.8zM200.8 282.4h.8v.8h-.8zM216.4 293.1h.8v.8h-.8zM200.6 293.8h.8v.8h-.8zM192.6 295.0h.8v.8h-.8zM220.2 291.8h.8v.8h-.8zM203.4 282.1h.8v.8h-.8zM206.1 281.8h.8v.8h-.8zM207.1 281.6h.8v.8h-.8zM220.1 292.4h.8v.8h-.8zM215.4 292.7h.8v.8h-.8zM197.1 294.1h.8v.8h-.8zM223.1 285.9h.8v.8h-.8zM180.8 293.0h.8v.8h-.8zM193.5 293.9h.8v.8h-.8zM207.6 292.7h.8v.8h-.8zM180.7 282.9h.8v.8h-.8zM181.6 282.1h.8v.8h-.8zM208.3 293.6h.8v.8h-.8zM181.3 280.7h.8v.8h-.8zM182.9 280.8h.8v.8h-.8zM215.5 294.1h.8v.8h-.8zM211.1 293.9h.8v.8h-.8zM206.1 293.6h.8v.8h-.8zM179.2 285.5h.8v.8h-.8zM209.8 282.5h.8v.8h-.8zM210.6 293.7h.8v.8h-.8zM189.7 295.1h.8v.8h-.8zM202.0 282.5h.8v.8h-.8zM211.0 293.3h.8v.8h-.8zM179.0 283.7h.8v.8h-.8zM199.5 293.8h.8v.8h-.8zM216.2 293.9h.8v.8h-.8zM179.3 292.2h.8v.8h-.8zM177.9 289.4h.8v.8h-.8zM187.0 295.2h.8v.8h-.8zM192.5 294.3h.8v.8h-.8zM179.6 284.6h.8v.8h-.8zM218.7 282.4h.8v.8h-.8zM193.4 294.3h.8v.8h-.8zM190.8 295.2h.8v.8h-.8zM179.0 285.9h.8v.8h-.8zM196.7 281.3h.8v.8h-.8zM187.6 295.0h.8v.8h-.8zM188.1 280.4h.8v.8h-.8zM223.9 287.4h.8v.8h-.8zM189.6 295.8h.8v.8h-.8zM217.9 293.1h.8v.8h-.8zM207.6 282.2h.8v.8h-.8zM201.2 294.3h.8v.8h-.8zM193.8 281.7h.8v.8h-.8zM215.0 281.6h.8v.8h-.8zM191.3 280.7h.8v.8h-.8zM199.9 282.4h.8v.8h-.8zM213.7 292.8h.8v.8h-.8zM223.1 285.7h.8v.8h-.8zM200.2 294.0h.8v.8h-.8zM221.9 291.8h.8v.8h-.8zM223.5 285.9h.8v.8h-.8zM213.0 282.0h.8v.8h-.8zM188.7 280.3h.8v.8h-.8zM203.1 294.0h.8v.8h-.8zM197.8 282.4h.8v.8h-.8zM198.6 293.8h.8v.8h-.8zM212.4 282.9h.8v.8h-.8zM201.7 293.5h.8v.8h-.8zM212.2 293.4h.8v.8h-.8zM209.5 281.5h.8v.8h-.8zM179.0 287.2h.8v.8h-.8zM205.6 293.7h.8v.8h-.8zM179.6 284.8h.8v.8h-.8zM206.2 281.7h.8v.8h-.8zM192.4 294.3h.8v.8h-.8zM211.2 293.3h.8v.8h-.8zM223.7 286.5h.8v.8h-.8zM196.3 295.4h.8v.8h-.8zM186.8 280.1h.8v.8h-.8zM194.9 294.5h.8v.8h-.8zM181.3 293.4h.8v.8h-.8zM201.6 294.1h.8v.8h-.8zM196.9 294.2h.8v.8h-.8zM210.0 293.4h.8v.8h-.8zM216.9 281.5h.8v.8h-.8zM205.4 293.3h.8v.8h-.8zM186.2 295.6h.8v.8h-.8zM215.6 281.7h.8v.8h-.8zM206.6 293.5h.8v.8h-.8zM179.5 292.8h.8v.8h-.8zM179.5 283.5h.8v.8h-.8zM191.3 294.3h.8v.8h-.8zM181.4 282.7h.8v.8h-.8zM200.6 294.1h.8v.8h-.8zM187.4 279.7h.8v.8h-.8zM195.5 281.9h.8v.8h-.8zM209.9 293.1h.8v.8h-.8zM222.9 291.5h.8v.8h-.8zM219.3 292.3h.8v.8h-.8zM179.2 287.6h.8v.8h-.8zM209.6 294.1h.8v.8h-.8zM208.3 293.5h.8v.8h-.8zM182.8 280.6h.8v.8h-.8zM179.0 284.8h.8v.8h-.8zM223.3 288.2h.8v.8h-.8zM192.5 293.8h.8v.8h-.8zM182.3 293.6h.8v.8h-.8zM222.7 289.7h.8v.8h-.8zM190.2 294.2h.8v.8h-.8zM180.1 285.2h.8v.8h-.8zM200.8 294.5h.8v.8h-.8zM190.3 294.8h.8v.8h-.8zM212.1 292.7h.8v.8h-.8zM179.1 287.6h.8v.8h-.8zM179.0 286.6h.8v.8h-.8zM200.0 293.5h.8v.8h-.8zM190.0 295.4h.8v.8h-.8zM202.7 294.2h.8v.8h-.8zM222.1 291.8h.8v.8h-.8zM179.5 290.2h.8v.8h-.8zM186.4 279.4h.8v.8h-.8zM201.3 281.7h.8v.8h-.8zM210.0 282.4h.8v.8h-.8zM223.0 285.6h.8v.8h-.8zM178.0 290.1h.8v.8h-.8zM203.8 281.8h.8v.8h-.8zM208.5 282.2h.8v.8h-.8zM224.6 288.6h.8v.8h-.8zM206.8 293.7h.8v.8h-.8zM222.2 291.4h.8v.8h-.8zM223.3 288.4h.8v.8h-.8zM186.9 279.3h.8v.8h-.8zM194.5 294.6h.8v.8h-.8zM224.4 287.4h.8v.8h-.8zM205.9 292.9h.8v.8h-.8zM208.8 294.4h.8v.8h-.8zM182.3 281.7h.8v.8h-.8zM222.9 289.5h.8v.8h-.8zM200.5 293.6h.8v.8h-.8zM184.0 280.6h.8v.8h-.8zM222.6 285.1h.8v.8h-.8zM222.9 289.9h.8v.8h-.8zM209.8 282.4h.8v.8h-.8zM223.8 288.9h.8v.8h-.8zM187.5 280.3h.8v.8h-.8zM179.8 285.2h.8v.8h-.8zM203.9 282.4h.8v.8h-.8zM223.0 289.6h.8v.8h-.8zM221.5 283.3h.8v.8h-.8zM178.6 292.0h.8v.8h-.8zM224.6 288.4h.8v.8h-.8zM219.2 283.4h.8v.8h-.8zM196.9 294.6h.8v.8h-.8zM221.4 284.1h.8v.8h-.8zM202.1 282.5h.8v.8h-.8zM212.1 293.5h.8v.8h-.8zM223.5 285.7h.8v.8h-.8zM223.4 288.3h.8v.8h-.8zM218.9 292.9h.8v.8h-.8zM219.9 293.0h.8v.8h-.8zM186.7 279.7h.8v.8h-.8zM203.8 294.4h.8v.8h-.8zM221.6 290.9h.8v.8h-.8zM214.6 281.9h.8v.8h-.8zM196.7 294.3h.8v.8h-.8zM187.5 295.1h.8v.8h-.8zM208.1 282.8h.8v.8h-.8zM192.5 294.0h.8v.8h-.8zM192.8 294.0h.8v.8h-.8zM191.5 295.2h.8v.8h-.8zM179.3 288.6h.8v.8h-.8zM222.1 290.7h.8v.8h-.8zM223.3 285.3h.8v.8h-.8zM197.6 294.7h.8v.8h-.8zM210.8 281.6h.8v.8h-.8zM204.1 294.1h.8v.8h-.8zM199.9 293.6h.8v.8h-.8zM193.2 281.1h.8v.8h-.8zM215.4 293.4h.8v.8h-.8zM180.0 282.5h.8v.8h-.8zM209.2 294.5h.8v.8h-.8zM178.8 289.4h.8v.8h-.8zM180.4 283.4h.8v.8h-.8zM178.8 288.8h.8v.8h-.8zM205.2 282.4h.8v.8h-.8zM205.2 293.6h.8v.8h-.8zM217.5 292.1h.8v.8h-.8zM204.8 294.8h.8v.8h-.8zM184.3 294.7h.8v.8h-.8z"/>
<path fill="#222" fill-opacity="0.7" d="M178.4 292.9h.8v.8h-.8zM208.4 279.9h.8v.8h-.8zM216.4 280.8h.8v.8h-.8zM192.9 279.9h.8v.8h-.8zM195.3 295.8h.8v.8h-.8zM192.7 279.9h.8v.8h-.8zM181.0 280.2h.8v.8h-.8zM191.7 295.9h.8v.8h-.8zM217.7 294.4h.8v.8h-.8zM177.3 286.3h.8v.8h-.8zM220.3 282.0h.8v.8h-.8zM190.8 279.2h.8v.8h-.8zM203.0 279.7h.8v.8h-.8zM210.9 295.2h.8v.8h-.8zM210.1 294.9h.8v.8h-.8zM185.5 296.1h.8v.8h-.8zM179.1 293.8h.8v.8h-.8zM180.3 282.4h.8v.8h-.8zM197.4 295.2h.8v.8h-.8zM201.9 295.7h.8v.8h-.8zM197.7 280.4h.8v.8h-.8zM190.5 278.3h.8v.8h-.8zM200.9 294.6h.8v.8h-.8zM225.3 286.0h.8v.8h-.8zM210.4 294.7h.8v.8h-.8zM207.6 295.4h.8v.8h-.8zM179.1 292.5h.8v.8h-.8zM212.3 295.7h.8v.8h-.8zM207.3 294.6h.8v.8h-.8zM191.0 295.2h.8v.8h-.8zM197.2 280.4h.8v.8h-.8zM178.7 291.9h.8v.8h-.8zM196.8 280.7h.8v.8h-.8zM204.3 294.6h.8v.8h-.8zM191.6 295.9h.8v.8h-.8zM200.1 279.9h.8v.8h-.8zM178.5 285.4h.8v.8h-.8zM213.7 279.6h.8v.8h-.8zM183.1 295.4h.8v.8h-.8zM184.3 295.8h.8v.8h-.8zM221.6 283.2h.8v.8h-.8zM189.6 278.7h.8v.8h-.8zM220.8 281.9h.8v.8h-.8zM216.5 294.7h.8v.8h-.8zM217.5 280.3h.8v.8h-.8zM206.6 280.5h.8v.8h-.8zM209.3 281.0h.8v.8h-.8zM180.9 294.3h.8v.8h-.8zM197.2 281.3h.8v.8h-.8zM224.3 286.0h.8v.8h-.8zM214.4 295.0h.8v.8h-.8zM176.9 289.2h.8v.8h-.8zM221.6 281.5h.8v.8h-.8zM180.5 280.5h.8v.8h-.8zM178.3 283.9h.8v.8h-.8zM221.6 281.5h.8v.8h-.8zM207.8 280.8h.8v.8h-.8zM217.0 295.0h.8v.8h-.8zM183.1 278.4h.8v.8h-.8zM216.2 280.7h.8v.8h-.8zM183.1 278.1h.8v.8h-.8zM183.6 295.5h.8v.8h-.8zM221.8 292.8h.8v.8h-.8zM185.3 295.4h.8v.8h-.8zM179.3 291.7h.8v.8h-.8zM186.2 278.0h.8v.8h-.8zM207.2 295.0h.8v.8h-.8zM196.3 295.2h.8v.8h-.8zM198.9 280.6h.8v.8h-.8zM179.1 293.5h.8v.8h-.8zM199.3 295.5h.8v.8h-.8zM217.2 280.8h.8v.8h-.8zM181.9 280.8h.8v.8h-.8zM220.4 281.8h.8v.8h-.8zM177.3 284.8h.8v.8h-.8zM213.4 280.4h.8v.8h-.8zM216.8 294.6h.8v.8h-.8zM225.0 288.5h.8v.8h-.8zM214.8 294.1h.8v.8h-.8zM208.1 281.1h.8v.8h-.8zM215.6 295.1h.8v.8h-.8zM183.3 278.3h.8v.8h-.8zM177.8 288.6h.8v.8h-.8zM210.9 294.2h.8v.8h-.8zM183.7 295.4h.8v.8h-.8zM216.8 281.1h.8v.8h-.8zM186.9 277.9h.8v.8h-.8zM215.6 279.6h.8v.8h-.8zM206.7 281.2h.8v.8h-.8zM221.2 292.8h.8v.8h-.8zM222.8 292.2h.8v.8h-.8zM191.7 279.6h.8v.8h-.8zM192.1 296.0h.8v.8h-.8zM213.7 280.7h.8v.8h-.8zM185.6 278.8h.8v.8h-.8zM182.0 279.8h.8v.8h-.8zM221.1 282.4h.8v.8h-.8zM186.6 295.7h.8v.8h-.8zM224.3 289.5h.8v.8h-.8zM208.9 295.4h.8v.8h-.8zM225.1 287.2h.8v.8h-.8zM182.4 295.1h.8v.8h-.8zM199.7 280.6h.8v.8h-.8zM176.6 287.5h.8v.8h-.8zM213.1 295.8h.8v.8h-.8zM203.0 281.4h.8v.8h-.8zM178.5 290.9h.8v.8h-.8zM220.8 281.8h.8v.8h-.8zM178.5 284.4h.8v.8h-.8zM195.5 295.3h.8v.8h-.8zM215.2 280.0h.8v.8h-.8zM185.8 278.9h.8v.8h-.8zM197.7 279.9h.8v.8h-.8zM191.2 296.4h.8v.8h-.8zM201.5 294.9h.8v.8h-.8zM223.8 285.2h.8v.8h-.8zM194.8 280.1h.8v.8h-.8zM188.7 296.1h.8v.8h-.8zM177.9 291.4h.8v.8h-.8zM217.9 294.6h.8v.8h-.8zM184.9 279.3h.8v.8h-.8zM211.4 294.2h.8v.8h-.8zM193.5 296.3h.8v.8h-.8zM178.4 292.7h.8v.8h-.8zM220.6 292.4h.8v.8h-.8zM199.4 295.5h.8v.8h-.8zM206.8 280.1h.8v.8h-.8zM224.1 282.9h.8v.8h-.8zM192.3 279.6h.8v.8h-.8zM220.9 293.4h.8v.8h-.8zM196.8 281.5h.8v.8h-.8zM178.1 283.5h.8v.8h-.8zM216.2 294.8h.8v.8h-.8zM188.6 278.0h.8v.8h-.8zM207.2 294.8h.8v.8h-.8zM197.6 295.7h.8v.8h-.8zM202.5 280.2h.8v.8h-.8zM178.5 283.3h.8v.8h-.8zM203.3 296.0h.8v.8h-.8zM211.1 281.0h.8v.8h-.8zM185.5 277.3h.8v.8h-.8zM184.5 278.3h.8v.8h-.8zM177.3 291.6h.8v.8h-.8zM198.5 295.1h.8v.8h-.8zM208.7 280.3h.8v.8h-.8zM204.1 295.9h.8v.8h-.8zM193.3 280.1h.8v.8h-.8zM219.0 281.6h.8v.8h-.8zM191.8 278.8h.8v.8h-.8zM205.5 295.8h.8v.8h-.8zM196.3 295.4h.8v.8h-.8zM192.6 279.9h.8v.8h-.8zM219.7 281.0h.8v.8h-.8zM222.5 292.5h.8v.8h-.8zM195.7 280.1h.8v.8h-.8zM189.3 279.1h.8v.8h-.8zM200.7 281.5h.8v.8h-.8zM204.2 279.9h.8v.8h-.8zM208.5 294.6h.8v.8h-.8zM203.6 280.2h.8v.8h-.8zM208.2 295.0h.8v.8h-.8zM177.0 285.4h.8v.8h-.8zM199.1 281.0h.8v.8h-.8zM223.5 283.8h.8v.8h-.8zM192.5 295.6h.8v.8h-.8zM210.7 280.9h.8v.8h-.8zM217.7 279.8h.8v.8h-.8zM195.5 296.6h.8v.8h-.8zM216.9 281.7h.8v.8h-.8zM179.9 294.5h.8v.8h-.8zM216.4 281.2h.8v.8h-.8zM222.2 282.7h.8v.8h-.8zM193.5 295.4h.8v.8h-.8zM224.2 285.4h.8v.8h-.8zM194.8 295.0h.8v.8h-.8zM197.8 279.9h.8v.8h-.8zM222.7 282.5h.8v.8h-.8zM188.4 279.2h.8v.8h-.8zM224.6 291.3h.8v.8h-.8zM211.3 294.4h.8v.8h-.8zM177.4 288.9h.8v.8h-.8zM214.2 280.3h.8v.8h-.8zM197.0 280.7h.8v.8h-.8zM191.4 295.7h.8v.8h-.8zM183.8 295.7h.8v.8h-.8zM210.4 279.9h.8v.8h-.8zM193.4 280.0h.8v.8h-.8zM215.5 294.3h.8v.8h-.8zM194.3 280.6h.8v.8h-.8zM210.7 280.3h.8v.8h-.8zM211.6 295.8h.8v.8h-.8zM225.3 287.3h.8v.8h-.8zM187.1 295.3h.8v.8h-.8zM190.6 279.6h.8v.8h-.8zM216.7 280.1h.8v.8h-.8zM214.2 280.5h.8v.8h-.8zM177.6 284.4h.8v.8h-.8zM184.3 277.7h.8v.8h-.8zM192.1 296.2h.8v.8h-.8zM204.9 279.8h.8v.8h-.8zM201.1 280.8h.8v.8h-.8zM177.2 291.8h.8v.8h-.8zM215.1 280.1h.8v.8h-.8zM223.7 290.2h.8v.8h-.8zM177.3 288.2h.8v.8h-.8zM223.2 282.9h.8v.8h-.8zM208.0 294.7h.8v.8h-.8zM213.3 295.0h.8v.8h-.8zM207.8 295.4h.8v.8h-.8zM212.6 295.3h.8v.8h-.8zM178.9 292.0h.8v.8h-.8zM189.6 296.1h.8v.8h-.8zM219.9 293.6h.8v.8h-.8zM189.9 296.0h.8v.8h-.8zM206.6 295.5h.8v.8h-.8zM177.5 288.7h.8v.8h-.8zM200.4 296.0h.8v.8h-.8zM223.4 290.2h.8v.8h-.8zM212.3 280.4h.8v.8h-.8z"/>
<path fill="#222" fill-opacity="0.45" d="M208.4 278.8h.8v.8h-.8zM221.4 295.8h.8v.8h-.8zM223.1 294.0h.8v.8h-.8zM198.2 296.1h.8v.8h-.8zM226.9 286.0h.8v.8h-.8zM176.3 283.7h.8v.8h-.8zM197.0 279.5h.8v.8h-.8zM220.9 296.0h.8v.8h-.8zM201.4 278.4h.8v.8h-.8zM214.0 278.3h.8v.8h-.8zM189.9 276.9h.8v.8h-.8zM217.7 280.1h.8v.8h-.8zM216.0 295.6h.8v.8h-.8zM206.9 297.3h.8v.8h-.8zM175.5 288.0h.8v.8h-.8zM206.4 279.8h.8v.8h-.8zM214.8 279.4h.8v.8h-.8zM202.2 297.6h.8v.8h-.8zM195.1 279.7h.8v.8h-.8zM196.7 279.4h.8v.8h-.8zM178.1 281.6h.8v.8h-.8zM201.1 279.3h.8v.8h-.8zM206.5 296.9h.8v.8h-.8zM190.4 278.0h.8v.8h-.8zM210.2 295.5h.8v.8h-.8zM181.8 278.4h.8v.8h-.8zM184.5 277.1h.8v.8h-.8zM178.5 280.2h.8v.8h-.8zM217.7 279.7h.8v.8h-.8zM204.8 279.2h.8v.8h-.8zM213.8 278.4h.8v.8h-.8zM214.5 296.9h.8v.8h-.8zM207.3 278.4h.8v.8h-.8zM181.0 277.7h.8v.8h-.8zM222.2 280.2h.8v.8h-.8zM212.1 278.9h.8v.8h-.8zM218.0 278.6h.8v.8h-.8zM176.4 284.4h.8v.8h-.8zM225.1 291.3h.8v.8h-.8zM180.1 295.7h.8v.8h-.8zM201.5 279.5h.8v.8h-.8zM193.2 278.9h.8v.8h-.8zM195.4 296.9h.8v.8h-.8zM198.6 279.4h.8v.8h-.8zM179.2 279.4h.8v.8h-.8zM223.4 293.3h.8v.8h-.8zM212.4 279.4h.8v.8h-.8zM207.9 279.6h.8v.8h-.8zM197.8 279.3h.8v.8h-.8zM185.5 276.2h.8v.8h-.8zM224.7 293.9h.8v.8h-.8zM198.7 296.4h.8v.8h-.8zM196.1 279.7h.8v.8h-.8zM196.7 278.3h.8v.8h-.8zM190.0 277.5h.8v.8h-.8zM177.7 293.7h.8v.8h-.8zM176.2 285.5h.8v.8h-.8zM184.0 276.4h.8v.8h-.8zM176.8 284.1h.8v.8h-.8zM206.2 278.4h.8v.8h-.8zM193.9 278.7h.8v.8h-.8zM222.7 281.8h.8v.8h-.8zM194.3 279.1h.8v.8h-.8zM220.9 296.1h.8v.8h-.8zM199.6 279.4h.8v.8h-.8zM196.4 278.9h.8v.8h-.8zM217.5 278.8h.8v.8h-.8zM206.0 279.5h.8v.8h-.8zM195.0 297.6h.8v.8h-.8zM188.8 297.4h.8v.8h-.8zM210.2 278.4h.8v.8h-.8zM202.4 297.2h.8v.8h-.8zM209.0 279.4h.8v.8h-.8zM200.3 296.3h.8v.8h-.8zM213.5 296.4h.8v.8h-.8zM217.7 295.8h.8v.8h-.8zM215.1 296.1h.8v.8h-.8zM212.2 278.8h.8v.8h-.8zM209.0 296.9h.8v.8h-.8zM187.1 277.8h.8v.8h-.8zM205.9 279.8h.8v.8h-.8zM197.6 279.3h.8v.8h-.8zM217.6 280.2h.8v.8h-.8zM220.9 279.5h.8v.8h-.8z"/>
<path fill="#222" fill-opacity="0.35" d="M192.9 276.0h.8v.8h-.8zM179.0 278.0h.8v.8h-.8zM201.9 276.4h.8v.8h-.8zM205.0 276.3h.8v.8h-.8zM199.6 278.3h.8v.8h-.8zM216.7 297.5h.8v.8h-.8zM223.1 294.6h.8v.8h-.8zM226.1 292.5h.8v.8h-.8zM189.2 275.3h.8v.8h-.8zM219.6 276.2h.8v.8h-.8zM203.1 299.3h.8v.8h-.8zM197.4 278.4h.8v.8h-.8zM217.5 278.2h.8v.8h-.8zM198.3 298.2h.8v.8h-.8zM188.3 275.4h.8v.8h-.8zM204.5 277.7h.8v.8h-.8zM183.4 275.0h.8v.8h-.8zM200.6 277.0h.8v.8h-.8zM209.6 297.7h.8v.8h-.8zM210.3 278.1h.8v.8h-.8zM185.7 275.1h.8v.8h-.8zM178.7 296.2h.8v.8h-.8zM177.7 279.9h.8v.8h-.8zM184.9 275.9h.8v.8h-.8zM205.1 276.9h.8v.8h-.8zM174.5 282.0h.8v.8h-.8zM200.2 278.0h.8v.8h-.8zM199.2 278.5h.8v.8h-.8zM203.4 277.2h.8v.8h-.8zM223.9 277.9h.8v.8h-.8zM196.6 278.4h.8v.8h-.8zM200.2 278.2h.8v.8h-.8zM200.6 277.1h.8v.8h-.8zM173.5 288.2h.8v.8h-.8zM193.6 276.1h.8v.8h-.8zM216.9 277.7h.8v.8h-.8zM186.8 273.2h.8v.8h-.8zM210.3 278.5h.8v.8h-.8zM211.0 277.6h.8v.8h-.8zM220.1 277.1h.8v.8h-.8zM219.9 277.5h.8v.8h-.8zM188.6 274.6h.8v.8h-.8zM178.4 274.9h.8v.8h-.8zM196.5 276.6h.8v.8h-.8zM173.3 282.6h.8v.8h-.8zM215.4 277.4h.8v.8h-.8zM218.6 278.0h.8v.8h-.8zM176.0 279.5h.8v.8h-.8zM176.4 282.0h.8v.8h-.8zM175.8 281.2h.8v.8h-.8zM192.0 275.1h.8v.8h-.8zM211.0 276.6h.8v.8h-.8zM185.8 275.3h.8v.8h-.8zM190.2 274.9h.8v.8h-.8zM211.0 276.8h.8v.8h-.8zM210.0 277.1h.8v.8h-.8zM193.5 276.6h.8v.8h-.8zM211.2 277.5h.8v.8h-.8zM175.2 280.9h.8v.8h-.8zM195.9 275.4h.8v.8h-.8zM203.0 277.8h.8v.8h-.8zM188.9 299.9h.8v.8h-.8zM213.0 277.2h.8v.8h-.8zM223.0 278.8h.8v.8h-.8zM205.3 276.2h.8v.8h-.8zM175.0 285.9h.8v.8h-.8zM186.0 277.6h.8v.8h-.8zM208.6 280.7h.8v.8h-.8zM230.6 283.5h.8v.8h-.8zM181.1 278.2h.8v.8h-.8zM223.1 292.1h.8v.8h-.8zM186.2 287.1h.8v.8h-.8zM222.2 286.0h.8v.8h-.8zM194.3 282.3h.8v.8h-.8zM191.2 278.6h.8v.8h-.8zM193.8 292.9h.8v.8h-.8zM193.5 294.0h.8v.8h-.8zM208.6 298.2h.8v.8h-.8zM202.9 292.5h.8v.8h-.8zM183.8 279.8h.8v.8h-.8zM232.3 289.6h.8v.8h-.8zM217.1 292.2h.8v.8h-.8zM203.6 284.6h.8v.8h-.8zM182.7 291.5h.8v.8h-.8zM222.3 283.5h.8v.8h-.8zM175.5 292.5h.8v.8h-.8zM181.0 289.9h.8v.8h-.8zM178.5 285.6h.8v.8h-.8zM187.0 282.2h.8v.8h-.8zM195.0 294.1h.8v.8h-.8zM181.0 280.8h.8v.8h-.8zM217.2 291.3h.8v.8h-.8zM186.3 279.8h.8v.8h-.8zM197.0 275.7h.8v.8h-.8zM177.2 282.9h.8v.8h-.8zM206.7 281.0h.8v.8h-.8zM199.1 282.6h.8v.8h-.8zM178.8 290.1h.8v.8h-.8zM181.7 289.8h.8v.8h-.8zM180.1 290.6h.8v.8h-.8zM223.2 282.3h.8v.8h-.8zM181.9 282.0h.8v.8h-.8zM180.0 286.2h.8v.8h-.8zM190.6 281.8h.8v.8h-.8zM190.9 284.3h.8v.8h-.8zM218.4 281.9h.8v.8h-.8zM206.4 294.8h.8v.8h-.8zM224.3 282.5h.8v.8h-.8zM189.6 282.6h.8v.8h-.8zM204.8 292.8h.8v.8h-.8zM182.3 292.1h.8v.8h-.8zM187.0 294.2h.8v.8h-.8zM178.4 285.9h.8v.8h-.8zM210.0 297.1h.8v.8h-.8zM202.4 287.5h.8v.8h-.8zM194.0 273.6h.8v.8h-.8zM222.2 291.1h.8v.8h-.8zM180.3 293.5h.8v.8h-.8zM193.6 279.5h.8v.8h-.8zM223.9 282.0h.8v.8h-.8zM221.8 288.7h.8v.8h-.8zM195.4 285.2h.8v.8h-.8zM176.4 283.9h.8v.8h-.8zM192.9 281.1h.8v.8h-.8zM181.4 288.6h.8v.8h-.8zM180.9 293.3h.8v.8h-.8zM225.6 281.6h.8v.8h-.8zM179.0 284.7h.8v.8h-.8zM200.1 296.5h.8v.8h-.8zM221.5 283.3h.8v.8h-.8zM181.7 289.6h.8v.8h-.8zM223.4 281.1h.8v.8h-.8zM206.1 277.7h.8v.8h-.8zM199.8 289.5h.8v.8h-.8zM218.5 295.7h.8v.8h-.8zM189.0 281.2h.8v.8h-.8zM186.8 297.7h.8v.8h-.8zM223.6 281.6h.8v.8h-.8zM222.0 285.6h.8v.8h-.8zM230.5 288.1h.8v.8h-.8zM242.3 288.1h.8v.8h-.8zM234.4 292.5h.8v.8h-.8zM226.5 287.1h.8v.8h-.8zM231.5 288.5h.8v.8h-.8zM224.8 281.3h.8v.8h-.8zM222.1 286.9h.8v.8h-.8zM222.6 292.4h.8v.8h-.8zM232.6 284.7h.8v.8h-.8zM229.1 288.0h.8v.8h-.8zM221.7 288.3h.8v.8h-.8zM231.6 286.7h.8v.8h-.8zM222.7 291.2h.8v.8h-.8zM224.5 287.7h.8v.8h-.8zM225.5 287.4h.8v.8h-.8zM223.8 287.5h.8v.8h-.8zM223.0 287.8h.8v.8h-.8zM224.5 290.1h.8v.8h-.8zM227.4 288.1h.8v.8h-.8zM238.2 285.4h.8v.8h-.8zM225.2 280.0h.8v.8h-.8zM226.1 288.0h.8v.8h-.8zM232.2 287.2h.8v.8h-.8zM223.4 290.8h.8v.8h-.8zM236.3 294.4h.8v.8h-.8zM231.7 283.9h.8v.8h-.8zM224.1 276.8h.8v.8h-.8zM227.1 281.4h.8v.8h-.8z"/>
<path d="M178.80,288.10 C178.92,286.27 180.33,283.33 181.50,282.00 C182.67,280.67 184.30,280.33 185.80,280.10 C187.30,279.87 188.88,280.25 190.50,280.60 C192.12,280.95 192.87,281.93 195.50,282.20 C198.13,282.47 202.35,282.10 206.30,282.20 C210.25,282.30 216.33,281.90 219.20,282.80 C222.07,283.70 223.50,285.98 223.50,287.60 C223.50,289.22 222.07,291.52 219.20,292.50 C216.33,293.48 210.25,293.23 206.30,293.50 C202.35,293.77 198.92,293.92 195.50,294.10 C192.08,294.28 188.25,294.78 185.80,294.60 C183.35,294.42 181.97,294.08 180.80,293.00 C179.63,291.92 178.68,289.93 178.80,288.10 Z" fill="#cacaca"/>
<path d="M178.80,288.10 C178.92,286.27 180.33,283.33 181.50,282.00 C182.67,280.67 184.30,280.33 185.80,280.10 C187.30,279.87 188.88,280.25 190.50,280.60 C192.12,280.95 192.87,281.93 195.50,282.20 C198.13,282.47 202.35,282.10 206.30,282.20 C210.25,282.30 216.33,281.90 219.20,282.80 C222.07,283.70 223.50,285.98 223.50,287.60 C223.50,289.22 222.07,291.52 219.20,292.50 C216.33,293.48 210.25,293.23 206.30,293.50 C202.35,293.77 198.92,293.92 195.50,294.10 C192.08,294.28 188.25,294.78 185.80,294.60 C183.35,294.42 181.97,294.08 180.80,293.00 C179.63,291.92 178.68,289.93 178.80,288.10 Z" fill="none" stroke="#1c1c1c" stroke-width="1.5" stroke-linejoin="round" filter="url(#bl)"/>
<path d="M181.92,288.07 C182.03,286.86 183.30,284.92 184.35,284.04 C185.40,283.16 186.87,282.94 188.22,282.79 C189.57,282.63 191.00,282.89 192.45,283.12 C193.90,283.35 194.58,284.00 196.95,284.17 C199.32,284.35 203.12,284.11 206.67,284.17 C210.23,284.24 215.70,283.97 218.28,284.57 C220.86,285.16 222.15,286.67 222.15,287.74 C222.15,288.80 220.86,290.32 218.28,290.97 C215.70,291.62 210.23,291.45 206.67,291.63 C203.12,291.81 200.02,291.91 196.95,292.03 C193.88,292.15 190.43,292.48 188.22,292.36 C186.01,292.24 184.77,292.01 183.72,291.30 C182.67,290.59 181.82,289.28 181.92,288.07 Z" fill="#cdcdcd" stroke="#707070" stroke-width="0.6"/>
<path d="M187.74,288.83 C187.82,288.28 188.84,287.40 189.68,287.00 C190.52,286.60 191.70,286.50 192.78,286.43 C193.86,286.36 195.00,286.48 196.16,286.58 C197.32,286.69 197.86,286.98 199.76,287.06 C201.66,287.14 204.69,287.03 207.54,287.06 C210.38,287.09 214.76,286.97 216.82,287.24 C218.89,287.51 219.92,288.19 219.92,288.68 C219.92,289.17 218.89,289.86 216.82,290.15 C214.76,290.45 210.38,290.37 207.54,290.45 C204.69,290.53 202.22,290.57 199.76,290.63 C197.30,290.69 194.54,290.84 192.78,290.78 C191.01,290.73 190.02,290.62 189.18,290.30 C188.34,289.98 187.65,289.38 187.74,288.83 Z" fill="#dedede" stroke="#9a9a9a" stroke-width="0.5"/>
<path d="M189.20,283.20 A4.9,4.9 0 1,0 189.20,292.40" fill="#c4c4c4" stroke="#3a3a3a" stroke-width="1.0"/>
<circle cx="186.20" cy="287.80" r="3.4" fill="#bcbcbc" stroke="#4a4a4a" stroke-width="0.8"/>
<circle cx="186.20" cy="287.80" r="1.9" fill="#d8d8d8" stroke="#888" stroke-width="0.5"/>
<circle cx="185.50" cy="287.30" r="1.1" fill="#f6f6f6"/>
<rect x="197.00" y="262.50" width="57.80" height="44.20" fill="none" stroke="#a9c0e2" stroke-width="1.0"/>
<rect x="171.70" y="254.00" width="87.20" height="86.70" fill="none" stroke="#1a1a1a" stroke-width="1.35"/>
<line x1="168.30" y1="263.00" x2="171.70" y2="263.00" stroke="#111" stroke-width="1.1"/>
<line x1="168.30" y1="282.90" x2="171.70" y2="282.90" stroke="#111" stroke-width="1.1"/>
<line x1="168.30" y1="306.70" x2="171.70" y2="306.70" stroke="#111" stroke-width="1.1"/>
<line x1="168.30" y1="321.10" x2="171.70" y2="321.10" stroke="#111" stroke-width="1.1"/>
<line x1="168.30" y1="335.00" x2="171.70" y2="335.00" stroke="#111" stroke-width="1.1"/>
<line x1="169.70" y1="276.91" x2="171.70" y2="276.91" stroke="#222" stroke-width="0.75"/>
<line x1="169.70" y1="273.41" x2="171.70" y2="273.41" stroke="#222" stroke-width="0.75"/>
<line x1="169.70" y1="270.92" x2="171.70" y2="270.92" stroke="#222" stroke-width="0.75"/>
<line x1="169.70" y1="268.99" x2="171.70" y2="268.99" stroke="#222" stroke-width="0.75"/>
<line x1="169.70" y1="267.41" x2="171.70" y2="267.41" stroke="#222" stroke-width="0.75"/>
<line x1="169.70" y1="266.08" x2="171.70" y2="266.08" stroke="#222" stroke-width="0.75"/>
<line x1="169.70" y1="264.93" x2="171.70" y2="264.93" stroke="#222" stroke-width="0.75"/>
<line x1="169.70" y1="263.91" x2="171.70" y2="263.91" stroke="#222" stroke-width="0.75"/>
<line x1="169.70" y1="299.54" x2="171.70" y2="299.54" stroke="#222" stroke-width="0.75"/>
<line x1="169.70" y1="295.34" x2="171.70" y2="295.34" stroke="#222" stroke-width="0.75"/>
<line x1="169.70" y1="292.37" x2="171.70" y2="292.37" stroke="#222" stroke-width="0.75"/>
<line x1="169.70" y1="290.06" x2="171.70" y2="290.06" stroke="#222" stroke-width="0.75"/>
<line x1="169.70" y1="288.18" x2="171.70" y2="288.18" stroke="#222" stroke-width="0.75"/>
<line x1="169.70" y1="286.59" x2="171.70" y2="286.59" stroke="#222" stroke-width="0.75"/>
<line x1="169.70" y1="285.21" x2="171.70" y2="285.21" stroke="#222" stroke-width="0.75"/>
<line x1="169.70" y1="283.99" x2="171.70" y2="283.99" stroke="#222" stroke-width="0.75"/>
<line x1="169.70" y1="255.50" x2="171.70" y2="255.50" stroke="#222" stroke-width="0.75"/>
<line x1="169.70" y1="258.00" x2="171.70" y2="258.00" stroke="#222" stroke-width="0.75"/>
<line x1="169.70" y1="260.50" x2="171.70" y2="260.50" stroke="#222" stroke-width="0.75"/>
<line x1="169.70" y1="308.50" x2="171.70" y2="308.50" stroke="#222" stroke-width="0.75"/>
<line x1="169.70" y1="310.50" x2="171.70" y2="310.50" stroke="#222" stroke-width="0.75"/>
<line x1="169.70" y1="312.50" x2="171.70" y2="312.50" stroke="#222" stroke-width="0.75"/>
<line x1="169.70" y1="314.50" x2="171.70" y2="314.50" stroke="#222" stroke-width="0.75"/>
<line x1="169.70" y1="316.50" x2="171.70" y2="316.50" stroke="#222" stroke-width="0.75"/>
<line x1="169.70" y1="318.00" x2="171.70" y2="318.00" stroke="#222" stroke-width="0.75"/>
<line x1="169.70" y1="319.50" x2="171.70" y2="319.50" stroke="#222" stroke-width="0.75"/>
<line x1="169.70" y1="320.30" x2="171.70" y2="320.30" stroke="#222" stroke-width="0.75"/>
<line x1="169.70" y1="322.00" x2="171.70" y2="322.00" stroke="#222" stroke-width="0.75"/>
<line x1="169.70" y1="323.00" x2="171.70" y2="323.00" stroke="#222" stroke-width="0.75"/>
<line x1="169.70" y1="324.50" x2="171.70" y2="324.50" stroke="#222" stroke-width="0.75"/>
<line x1="169.70" y1="326.50" x2="171.70" y2="326.50" stroke="#222" stroke-width="0.75"/>
<line x1="169.70" y1="328.50" x2="171.70" y2="328.50" stroke="#222" stroke-width="0.75"/>
<line x1="169.70" y1="330.50" x2="171.70" y2="330.50" stroke="#222" stroke-width="0.75"/>
<line x1="169.70" y1="332.50" x2="171.70" y2="332.50" stroke="#222" stroke-width="0.75"/>
<line x1="169.70" y1="337.00" x2="171.70" y2="337.00" stroke="#222" stroke-width="0.75"/>
<line x1="169.70" y1="339.00" x2="171.70" y2="339.00" stroke="#222" stroke-width="0.75"/>
<line x1="181.80" y1="340.70" x2="181.80" y2="343.70" stroke="#111" stroke-width="1.1"/>
<line x1="214.50" y1="340.70" x2="214.50" y2="343.70" stroke="#111" stroke-width="1.1"/>
<line x1="235.80" y1="340.70" x2="235.80" y2="343.70" stroke="#111" stroke-width="1.1"/>
<line x1="257.90" y1="340.70" x2="257.90" y2="343.70" stroke="#111" stroke-width="1.1"/>
<line x1="220.91" y1="340.70" x2="220.91" y2="342.90" stroke="#222" stroke-width="0.75"/>
<line x1="224.66" y1="340.70" x2="224.66" y2="342.90" stroke="#222" stroke-width="0.75"/>
<line x1="227.32" y1="340.70" x2="227.32" y2="342.90" stroke="#222" stroke-width="0.75"/>
<line x1="229.39" y1="340.70" x2="229.39" y2="342.90" stroke="#222" stroke-width="0.75"/>
<line x1="231.07" y1="340.70" x2="231.07" y2="342.90" stroke="#222" stroke-width="0.75"/>
<line x1="232.50" y1="340.70" x2="232.50" y2="342.90" stroke="#222" stroke-width="0.75"/>
<line x1="233.74" y1="340.70" x2="233.74" y2="342.90" stroke="#222" stroke-width="0.75"/>
<line x1="234.83" y1="340.70" x2="234.83" y2="342.90" stroke="#222" stroke-width="0.75"/>
<line x1="242.45" y1="340.70" x2="242.45" y2="342.90" stroke="#222" stroke-width="0.75"/>
<line x1="246.34" y1="340.70" x2="246.34" y2="342.90" stroke="#222" stroke-width="0.75"/>
<line x1="249.11" y1="340.70" x2="249.11" y2="342.90" stroke="#222" stroke-width="0.75"/>
<line x1="251.25" y1="340.70" x2="251.25" y2="342.90" stroke="#222" stroke-width="0.75"/>
<line x1="253.00" y1="340.70" x2="253.00" y2="342.90" stroke="#222" stroke-width="0.75"/>
<line x1="254.48" y1="340.70" x2="254.48" y2="342.90" stroke="#222" stroke-width="0.75"/>
<line x1="255.76" y1="340.70" x2="255.76" y2="342.90" stroke="#222" stroke-width="0.75"/>
<line x1="256.89" y1="340.70" x2="256.89" y2="342.90" stroke="#222" stroke-width="0.75"/>
<line x1="191.64" y1="340.70" x2="191.64" y2="342.90" stroke="#222" stroke-width="0.75"/>
<line x1="178.85" y1="340.70" x2="178.85" y2="342.90" stroke="#222" stroke-width="0.75"/>
<line x1="197.40" y1="340.70" x2="197.40" y2="342.90" stroke="#222" stroke-width="0.75"/>
<line x1="177.12" y1="340.70" x2="177.12" y2="342.90" stroke="#222" stroke-width="0.75"/>
<line x1="201.49" y1="340.70" x2="201.49" y2="342.90" stroke="#222" stroke-width="0.75"/>
<line x1="175.89" y1="340.70" x2="175.89" y2="342.90" stroke="#222" stroke-width="0.75"/>
<line x1="204.66" y1="340.70" x2="204.66" y2="342.90" stroke="#222" stroke-width="0.75"/>
<line x1="174.94" y1="340.70" x2="174.94" y2="342.90" stroke="#222" stroke-width="0.75"/>
<line x1="207.25" y1="340.70" x2="207.25" y2="342.90" stroke="#222" stroke-width="0.75"/>
<line x1="174.17" y1="340.70" x2="174.17" y2="342.90" stroke="#222" stroke-width="0.75"/>
<line x1="209.43" y1="340.70" x2="209.43" y2="342.90" stroke="#222" stroke-width="0.75"/>
<line x1="173.51" y1="340.70" x2="173.51" y2="342.90" stroke="#222" stroke-width="0.75"/>
<line x1="211.33" y1="340.70" x2="211.33" y2="342.90" stroke="#222" stroke-width="0.75"/>
<line x1="172.94" y1="340.70" x2="172.94" y2="342.90" stroke="#222" stroke-width="0.75"/>
<line x1="213.00" y1="340.70" x2="213.00" y2="342.90" stroke="#222" stroke-width="0.75"/>
<text x="164.80" y="266.60" font-size="8.3" text-anchor="end" fill="#231f20" stroke="#231f20" textLength="12.20" lengthAdjust="spacingAndGlyphs">10<tspan font-size="6.0" dy="-3.0">5</tspan></text>
<text x="164.80" y="286.50" font-size="8.3" text-anchor="end" fill="#231f20" stroke="#231f20" textLength="12.20" lengthAdjust="spacingAndGlyphs">10<tspan font-size="6.0" dy="-3.0">4</tspan></text>
<text x="164.80" y="310.30" font-size="8.3" text-anchor="end" fill="#231f20" stroke="#231f20" textLength="11.60" lengthAdjust="spacingAndGlyphs">10<tspan font-size="6.0" dy="-3.0">3</tspan></text>
<text x="164.80" y="324.70" font-size="8.3" text-anchor="end" fill="#231f20" stroke="#231f20">0</text>
<text x="164.80" y="338.60" font-size="8.3" text-anchor="end" fill="#231f20" stroke="#231f20" textLength="14.00" lengthAdjust="spacingAndGlyphs">-10<tspan font-size="6.0" dy="-3.0">3</tspan></text>
<text x="181.80" y="354.50" font-size="8.3" text-anchor="middle" fill="#231f20" stroke="#231f20">0</text>
<text x="214.50" y="354.50" font-size="8.3" text-anchor="middle" fill="#231f20" stroke="#231f20" textLength="11.20" lengthAdjust="spacingAndGlyphs">10<tspan font-size="6.0" dy="-3.0">3</tspan></text>
<text x="235.80" y="354.50" font-size="8.3" text-anchor="middle" fill="#231f20" stroke="#231f20" textLength="11.20" lengthAdjust="spacingAndGlyphs">10<tspan font-size="6.0" dy="-3.0">4</tspan></text>
<text x="257.90" y="354.50" font-size="8.3" text-anchor="middle" fill="#231f20" stroke="#231f20" textLength="11.20" lengthAdjust="spacingAndGlyphs">10<tspan font-size="6.0" dy="-3.0">5</tspan></text>
<text x="232.60" y="303.60" font-size="8.4" text-anchor="start" fill="#7a9fd0" stroke="#7a9fd0" textLength="14.70" lengthAdjust="spacingAndGlyphs">49.9</text>
<line x1="265.30" y1="144.30" x2="265.30" y2="231.10" stroke="#231f20" stroke-width="1"/>
<line x1="265.30" y1="254.30" x2="265.30" y2="340.80" stroke="#231f20" stroke-width="1"/>
<text x="0" y="0" stroke="#231f20" font-size="10.5" fill="#231f20" transform="translate(271.6,159.5) rotate(90)" textLength="56.5" lengthAdjust="spacingAndGlyphs">Without IFNγ</text>
<text x="0" y="0" stroke="#231f20" font-size="10.5" fill="#231f20" transform="translate(271.6,276) rotate(90)" textLength="41.5" lengthAdjust="spacingAndGlyphs">With IFNγ</text>
<line x1="21.90" y1="259.00" x2="21.90" y2="306.30" stroke="#444" stroke-width="0.95"/>
<path d="M21.9,253.9 L19.2,260.6 L21.9,259.1 L24.6,260.6 Z" fill="#111"/>
<text x="0" y="0" stroke="#231f20" font-size="10.5" fill="#231f20" transform="translate(25.2,338.8) rotate(-90)" textLength="24.6" lengthAdjust="spacingAndGlyphs">SSC-A</text>
<text x="55.80" y="367.40" font-size="10.5" text-anchor="start" fill="#231f20" stroke="#231f20" textLength="22.90" lengthAdjust="spacingAndGlyphs">CD34</text>
<line x1="85.40" y1="364.60" x2="135.00" y2="364.60" stroke="#333" stroke-width="0.95"/>
<path d="M139,364.6 L132.3,361.9 L133.8,364.6 L132.3,367.3 Z" fill="#111"/>
<text x="296.60" y="124.40" font-size="12" text-anchor="start" fill="#231f20" stroke="#231f20" textLength="7.20" lengthAdjust="spacingAndGlyphs">C</text>
<line x1="347.20" y1="336.50" x2="350.60" y2="336.50" stroke="#231f20" stroke-width="1"/>
<text x="344.00" y="339.40" font-size="8.3" text-anchor="end" fill="#231f20" stroke="#231f20">0</text>
<line x1="347.20" y1="279.90" x2="350.60" y2="279.90" stroke="#231f20" stroke-width="1"/>
<text x="343.60" y="282.80" font-size="8.3" text-anchor="end" fill="#231f20" stroke="#231f20">2×10<tspan font-size="5.6" dy="-3.2">5</tspan></text>
<line x1="347.20" y1="223.20" x2="350.60" y2="223.20" stroke="#231f20" stroke-width="1"/>
<text x="343.60" y="226.10" font-size="8.3" text-anchor="end" fill="#231f20" stroke="#231f20">4×10<tspan font-size="5.6" dy="-3.2">5</tspan></text>
<line x1="347.20" y1="166.50" x2="350.60" y2="166.50" stroke="#231f20" stroke-width="1"/>
<text x="343.60" y="169.40" font-size="8.3" text-anchor="end" fill="#231f20" stroke="#231f20">6×10<tspan font-size="5.6" dy="-3.2">5</tspan></text>
<rect x="363.00" y="186.20" width="16.00" height="150.30" fill="#1b1b1b" stroke="#0d0d0d" stroke-width="0.8"/>
<line x1="371.00" y1="165.40" x2="371.00" y2="186.20" stroke="#231f20" stroke-width="1"/>
<line x1="366.50" y1="165.40" x2="375.50" y2="165.40" stroke="#231f20" stroke-width="1.1"/>
<rect x="388.00" y="283.10" width="16.00" height="53.40" fill="#9b3a30" stroke="#85241a" stroke-width="0.8"/>
<line x1="396.00" y1="274.50" x2="396.00" y2="283.10" stroke="#231f20" stroke-width="1"/>
<line x1="391.50" y1="274.50" x2="400.50" y2="274.50" stroke="#231f20" stroke-width="1.1"/>
<rect x="429.00" y="193.60" width="16.00" height="142.90" fill="#d09c64" stroke="#c08a50" stroke-width="0.8"/>
<line x1="437.00" y1="176.00" x2="437.00" y2="193.60" stroke="#231f20" stroke-width="1"/>
<line x1="432.50" y1="176.00" x2="441.50" y2="176.00" stroke="#231f20" stroke-width="1.1"/>
<rect x="454.10" y="235.00" width="16.20" height="101.50" fill="#6b96c7" stroke="#5a84b5" stroke-width="0.8"/>
<line x1="462.20" y1="222.00" x2="462.20" y2="235.00" stroke="#231f20" stroke-width="1"/>
<line x1="457.70" y1="222.00" x2="466.70" y2="222.00" stroke="#231f20" stroke-width="1.1"/>
<line x1="350.50" y1="137.50" x2="350.50" y2="337.00" stroke="#2a2a2a" stroke-width="1.4"/>
<line x1="347.20" y1="336.85" x2="483.30" y2="336.85" stroke="#2a2a2a" stroke-width="1.4"/>
<line x1="383.50" y1="336.50" x2="383.50" y2="340.00" stroke="#231f20" stroke-width="1"/>
<line x1="449.60" y1="336.50" x2="449.60" y2="340.00" stroke="#231f20" stroke-width="1"/>
<text x="383.30" y="351.10" font-size="8.4" text-anchor="middle" fill="#231f20" stroke="#231f20" textLength="15.20" lengthAdjust="spacingAndGlyphs">TPO</text>
<text x="449.40" y="350.80" font-size="8.4" text-anchor="middle" fill="#231f20" stroke="#231f20" textLength="47.30" lengthAdjust="spacingAndGlyphs">Eltrombopag</text>
<line x1="371.00" y1="157.00" x2="396.00" y2="157.00" stroke="#555" stroke-width="1.4"/>
<circle cx="380.00" cy="153.00" r="1.15" fill="#2a2a2a"/>
<circle cx="383.50" cy="153.00" r="1.15" fill="#2a2a2a"/>
<circle cx="387.00" cy="153.00" r="1.15" fill="#2a2a2a"/>
<line x1="396.00" y1="139.50" x2="462.00" y2="139.50" stroke="#2a2a2a" stroke-width="1.0"/>
<circle cx="425.50" cy="135.50" r="1.15" fill="#2a2a2a"/>
<circle cx="429.00" cy="135.50" r="1.15" fill="#2a2a2a"/>
<circle cx="432.50" cy="135.50" r="1.15" fill="#2a2a2a"/>
<line x1="437.00" y1="157.00" x2="462.00" y2="157.00" stroke="#555" stroke-width="1.4"/>
<text x="449.50" y="154.00" font-size="7.6" text-anchor="middle" fill="#231f20" stroke="#231f20" textLength="7.60" lengthAdjust="spacingAndGlyphs">ns</text>
<text x="0" y="0" stroke="#231f20" font-size="10.2" fill="#231f20" transform="translate(314.8,274.3) rotate(-90)" textLength="73.3" lengthAdjust="spacingAndGlyphs">CD34+ cell count</text>
<text x="7.90" y="397.00" font-size="12" text-anchor="start" fill="#231f20" stroke="#231f20" textLength="7.80" lengthAdjust="spacingAndGlyphs">D</text>
<line x1="53.00" y1="601.30" x2="56.00" y2="601.30" stroke="#231f20" stroke-width="1"/>
<text x="50.20" y="604.20" font-size="8.3" text-anchor="end" fill="#231f20" stroke="#231f20">0</text>
<line x1="53.00" y1="567.95" x2="56.00" y2="567.95" stroke="#231f20" stroke-width="1"/>
<text x="50.20" y="570.85" font-size="8.3" text-anchor="end" fill="#231f20" stroke="#231f20">50</text>
<line x1="53.00" y1="534.60" x2="56.00" y2="534.60" stroke="#231f20" stroke-width="1"/>
<text x="50.20" y="537.50" font-size="8.3" text-anchor="end" fill="#231f20" stroke="#231f20">100</text>
<line x1="53.00" y1="501.25" x2="56.00" y2="501.25" stroke="#231f20" stroke-width="1"/>
<text x="50.20" y="504.15" font-size="8.3" text-anchor="end" fill="#231f20" stroke="#231f20">150</text>
<line x1="53.00" y1="467.90" x2="56.00" y2="467.90" stroke="#231f20" stroke-width="1"/>
<text x="50.20" y="470.80" font-size="8.3" text-anchor="end" fill="#231f20" stroke="#231f20">200</text>
<line x1="53.00" y1="434.55" x2="56.00" y2="434.55" stroke="#231f20" stroke-width="1"/>
<text x="50.20" y="437.45" font-size="8.3" text-anchor="end" fill="#231f20" stroke="#231f20">250</text>
<line x1="53.00" y1="401.20" x2="56.00" y2="401.20" stroke="#231f20" stroke-width="1"/>
<text x="50.20" y="404.10" font-size="8.3" text-anchor="end" fill="#231f20" stroke="#231f20">300</text>
<rect x="75.60" y="439.20" width="23.20" height="162.10" fill="#1b1b1b" stroke="#0d0d0d" stroke-width="0.8"/>
<line x1="87.20" y1="432.50" x2="87.20" y2="439.20" stroke="#231f20" stroke-width="1"/>
<line x1="82.70" y1="432.50" x2="91.70" y2="432.50" stroke="#231f20" stroke-width="1.1"/>
<rect x="113.00" y="546.60" width="23.90" height="54.70" fill="#9b3a30" stroke="#85241a" stroke-width="0.8"/>
<line x1="124.95" y1="536.30" x2="124.95" y2="546.60" stroke="#231f20" stroke-width="1"/>
<line x1="120.45" y1="536.30" x2="129.45" y2="536.30" stroke="#231f20" stroke-width="1.1"/>
<rect x="175.40" y="444.80" width="23.70" height="156.50" fill="#d09c64" stroke="#c08a50" stroke-width="0.8"/>
<line x1="187.25" y1="440.20" x2="187.25" y2="444.80" stroke="#231f20" stroke-width="1"/>
<line x1="182.75" y1="440.20" x2="191.75" y2="440.20" stroke="#231f20" stroke-width="1.1"/>
<rect x="213.00" y="459.80" width="23.50" height="141.50" fill="#6b96c7" stroke="#5a84b5" stroke-width="0.8"/>
<line x1="224.75" y1="451.50" x2="224.75" y2="459.80" stroke="#231f20" stroke-width="1"/>
<line x1="220.25" y1="451.50" x2="229.25" y2="451.50" stroke="#231f20" stroke-width="1.1"/>
<line x1="56.00" y1="398.40" x2="56.00" y2="601.80" stroke="#333" stroke-width="1.6"/>
<line x1="53.00" y1="601.30" x2="256.80" y2="601.30" stroke="#231f20" stroke-width="1.1"/>
<line x1="105.60" y1="601.30" x2="105.60" y2="604.50" stroke="#231f20" stroke-width="1"/>
<line x1="206.00" y1="601.30" x2="206.00" y2="604.50" stroke="#231f20" stroke-width="1"/>
<text x="105.60" y="615.10" font-size="8.4" text-anchor="middle" fill="#231f20" stroke="#231f20" textLength="14.80" lengthAdjust="spacingAndGlyphs">TPO</text>
<text x="206.20" y="615.10" font-size="8.4" text-anchor="middle" fill="#231f20" stroke="#231f20" textLength="46.70" lengthAdjust="spacingAndGlyphs">Eltrombopag</text>
<line x1="86.80" y1="426.00" x2="124.60" y2="426.00" stroke="#555" stroke-width="1.4"/>
<circle cx="102.20" cy="422.00" r="1.15" fill="#2a2a2a"/>
<circle cx="105.70" cy="422.00" r="1.15" fill="#2a2a2a"/>
<circle cx="109.20" cy="422.00" r="1.15" fill="#2a2a2a"/>
<line x1="125.00" y1="407.50" x2="225.20" y2="407.50" stroke="#2a2a2a" stroke-width="1.0"/>
<circle cx="173.35" cy="403.50" r="1.15" fill="#2a2a2a"/>
<circle cx="176.85" cy="403.50" r="1.15" fill="#2a2a2a"/>
<line x1="187.00" y1="426.00" x2="225.20" y2="426.00" stroke="#555" stroke-width="1.4"/>
<text x="206.10" y="423.00" font-size="7.6" text-anchor="middle" fill="#231f20" stroke="#231f20" textLength="7.60" lengthAdjust="spacingAndGlyphs">ns</text>
<text x="0" y="0" stroke="#231f20" font-size="10" fill="#231f20" transform="translate(30.1,561.5) rotate(-90)" textLength="124.2" lengthAdjust="spacingAndGlyphs">Number of CFUs per 10<tspan font-size="7" dy="-3.6">3</tspan><tspan dy="3.6"> cells</tspan></text>
<text x="273.90" y="397.00" font-size="12" text-anchor="start" fill="#231f20" stroke="#231f20" textLength="5.30" lengthAdjust="spacingAndGlyphs">E</text>
<line x1="311.40" y1="399.50" x2="311.40" y2="602.00" stroke="#222" stroke-width="1.3"/>
<line x1="308.70" y1="601.50" x2="512.40" y2="601.50" stroke="#231f20" stroke-width="1.1"/>
<line x1="308.30" y1="601.50" x2="311.00" y2="601.50" stroke="#231f20" stroke-width="1"/>
<text x="305.60" y="604.40" font-size="8.3" text-anchor="end" fill="#231f20" stroke="#231f20">0</text>
<line x1="308.30" y1="551.58" x2="311.00" y2="551.58" stroke="#231f20" stroke-width="1"/>
<text x="305.60" y="554.48" font-size="8.3" text-anchor="end" fill="#231f20" stroke="#231f20">5</text>
<line x1="308.30" y1="501.65" x2="311.00" y2="501.65" stroke="#231f20" stroke-width="1"/>
<text x="305.60" y="504.55" font-size="8.3" text-anchor="end" fill="#231f20" stroke="#231f20">10</text>
<line x1="308.30" y1="451.73" x2="311.00" y2="451.73" stroke="#231f20" stroke-width="1"/>
<text x="305.60" y="454.62" font-size="8.3" text-anchor="end" fill="#231f20" stroke="#231f20">15</text>
<line x1="308.30" y1="401.80" x2="311.00" y2="401.80" stroke="#231f20" stroke-width="1"/>
<text x="305.60" y="404.70" font-size="8.3" text-anchor="end" fill="#231f20" stroke="#231f20">20</text>
<line x1="361.20" y1="601.50" x2="361.20" y2="604.50" stroke="#231f20" stroke-width="1"/>
<line x1="459.70" y1="601.50" x2="459.70" y2="604.50" stroke="#231f20" stroke-width="1"/>
<text x="361.20" y="615.10" font-size="8.4" text-anchor="middle" fill="#231f20" stroke="#231f20" textLength="14.80" lengthAdjust="spacingAndGlyphs">TPO</text>
<text x="459.70" y="615.10" font-size="8.4" text-anchor="middle" fill="#231f20" stroke="#231f20" textLength="46.90" lengthAdjust="spacingAndGlyphs">Eltrombopag</text>
<line x1="342.50" y1="426.00" x2="379.90" y2="426.00" stroke="#555" stroke-width="1.4"/>
<circle cx="357.70" cy="422.00" r="1.15" fill="#2a2a2a"/>
<circle cx="361.20" cy="422.00" r="1.15" fill="#2a2a2a"/>
<circle cx="364.70" cy="422.00" r="1.15" fill="#2a2a2a"/>
<line x1="380.00" y1="407.50" x2="480.30" y2="407.50" stroke="#2a2a2a" stroke-width="1.0"/>
<circle cx="426.65" cy="403.50" r="1.15" fill="#2a2a2a"/>
<circle cx="430.15" cy="403.50" r="1.15" fill="#2a2a2a"/>
<circle cx="433.65" cy="403.50" r="1.15" fill="#2a2a2a"/>
<line x1="442.90" y1="426.00" x2="480.30" y2="426.00" stroke="#555" stroke-width="1.4"/>
<text x="461.60" y="423.00" font-size="7.6" text-anchor="middle" fill="#231f20" stroke="#231f20" textLength="7.60" lengthAdjust="spacingAndGlyphs">ns</text>
<text x="0" y="0" stroke="#231f20" font-size="10" fill="#231f20" transform="translate(290.2,548.5) rotate(-90)" textLength="94.7" lengthAdjust="spacingAndGlyphs">% human CD45+ cells</text>
<circle cx="342.6" cy="435.7" r="2.75" fill="#111"/>
<circle cx="342.6" cy="447.6" r="2.75" fill="#111"/>
<circle cx="334.6" cy="473.3" r="2.75" fill="#111"/>
<circle cx="342.6" cy="479.3" r="2.75" fill="#111"/>
<circle cx="350.6" cy="475.3" r="2.75" fill="#111"/>
<line x1="330.00" y1="462.20" x2="354.90" y2="462.20" stroke="#333" stroke-width="1.3"/>
<circle cx="441.8" cy="450.5" r="2.75" fill="#d49a5c"/>
<circle cx="437.8" cy="454.4" r="2.75" fill="#d49a5c"/>
<circle cx="445.5" cy="462.2" r="2.75" fill="#d49a5c"/>
<circle cx="437.8" cy="472.3" r="2.75" fill="#d49a5c"/>
<circle cx="445.6" cy="471.2" r="2.75" fill="#d49a5c"/>
<line x1="429.00" y1="461.90" x2="453.50" y2="461.90" stroke="#333" stroke-width="1.3"/>
<path d="M375.70,560.33 L378.70,565.73 L372.70,565.73 Z" fill="#9b2a22"/>
<path d="M383.60,568.23 L386.60,573.63 L380.60,573.63 Z" fill="#9b2a22"/>
<path d="M371.80,574.73 L374.80,580.13 L368.80,580.13 Z" fill="#9b2a22"/>
<path d="M387.70,574.73 L390.70,580.13 L384.70,580.13 Z" fill="#9b2a22"/>
<path d="M379.70,580.03 L382.70,585.43 L376.70,585.43 Z" fill="#9b2a22"/>
<line x1="367.10" y1="574.40" x2="392.00" y2="574.40" stroke="#333" stroke-width="1.3"/>
<path d="M470.80,472.73 L473.80,478.13 L467.80,478.13 Z" fill="#6a97c9"/>
<path d="M478.80,475.43 L481.80,480.83 L475.80,480.83 Z" fill="#6a97c9"/>
<path d="M486.90,471.33 L489.90,476.73 L483.90,476.73 Z" fill="#6a97c9"/>
<path d="M478.80,486.13 L481.80,491.53 L475.80,491.53 Z" fill="#6a97c9"/>
<line x1="466.00" y1="479.30" x2="491.00" y2="479.30" stroke="#333" stroke-width="1.3"/>
<rect x="124.80" y="634.00" width="12.10" height="11.00" fill="#1b1b1b" stroke="#0d0d0d" stroke-width="0.8"/>
<text x="140.00" y="641.70" font-size="8.4" text-anchor="start" fill="#231f20" stroke="#231f20" textLength="13.30" lengthAdjust="spacingAndGlyphs">TPO</text>
<rect x="166.20" y="634.00" width="11.00" height="11.00" fill="#9b3a30" stroke="#85241a" stroke-width="0.8"/>
<text x="180.80" y="641.70" font-size="8.4" text-anchor="start" fill="#231f20" stroke="#231f20" textLength="36.90" lengthAdjust="spacingAndGlyphs">TPO + IFNγ</text>
<rect x="233.40" y="634.00" width="11.50" height="11.00" fill="#d09c64" stroke="#c08a50" stroke-width="0.8"/>
<text x="248.60" y="641.70" font-size="8.4" text-anchor="start" fill="#231f20" stroke="#231f20" textLength="43.10" lengthAdjust="spacingAndGlyphs">Eltrombopag</text>
<rect x="305.50" y="634.00" width="12.00" height="11.00" fill="#6b96c7" stroke="#5a84b5" stroke-width="0.8"/>
<text x="320.60" y="641.70" font-size="8.4" text-anchor="start" fill="#231f20" stroke="#231f20" textLength="67.10" lengthAdjust="spacingAndGlyphs">Eltrombopag + IFNγ</text>
<rect x="0.5" y="0.5" width="519" height="652" fill="none" stroke="#111" stroke-width="1.2"/>
</svg></body></html>
